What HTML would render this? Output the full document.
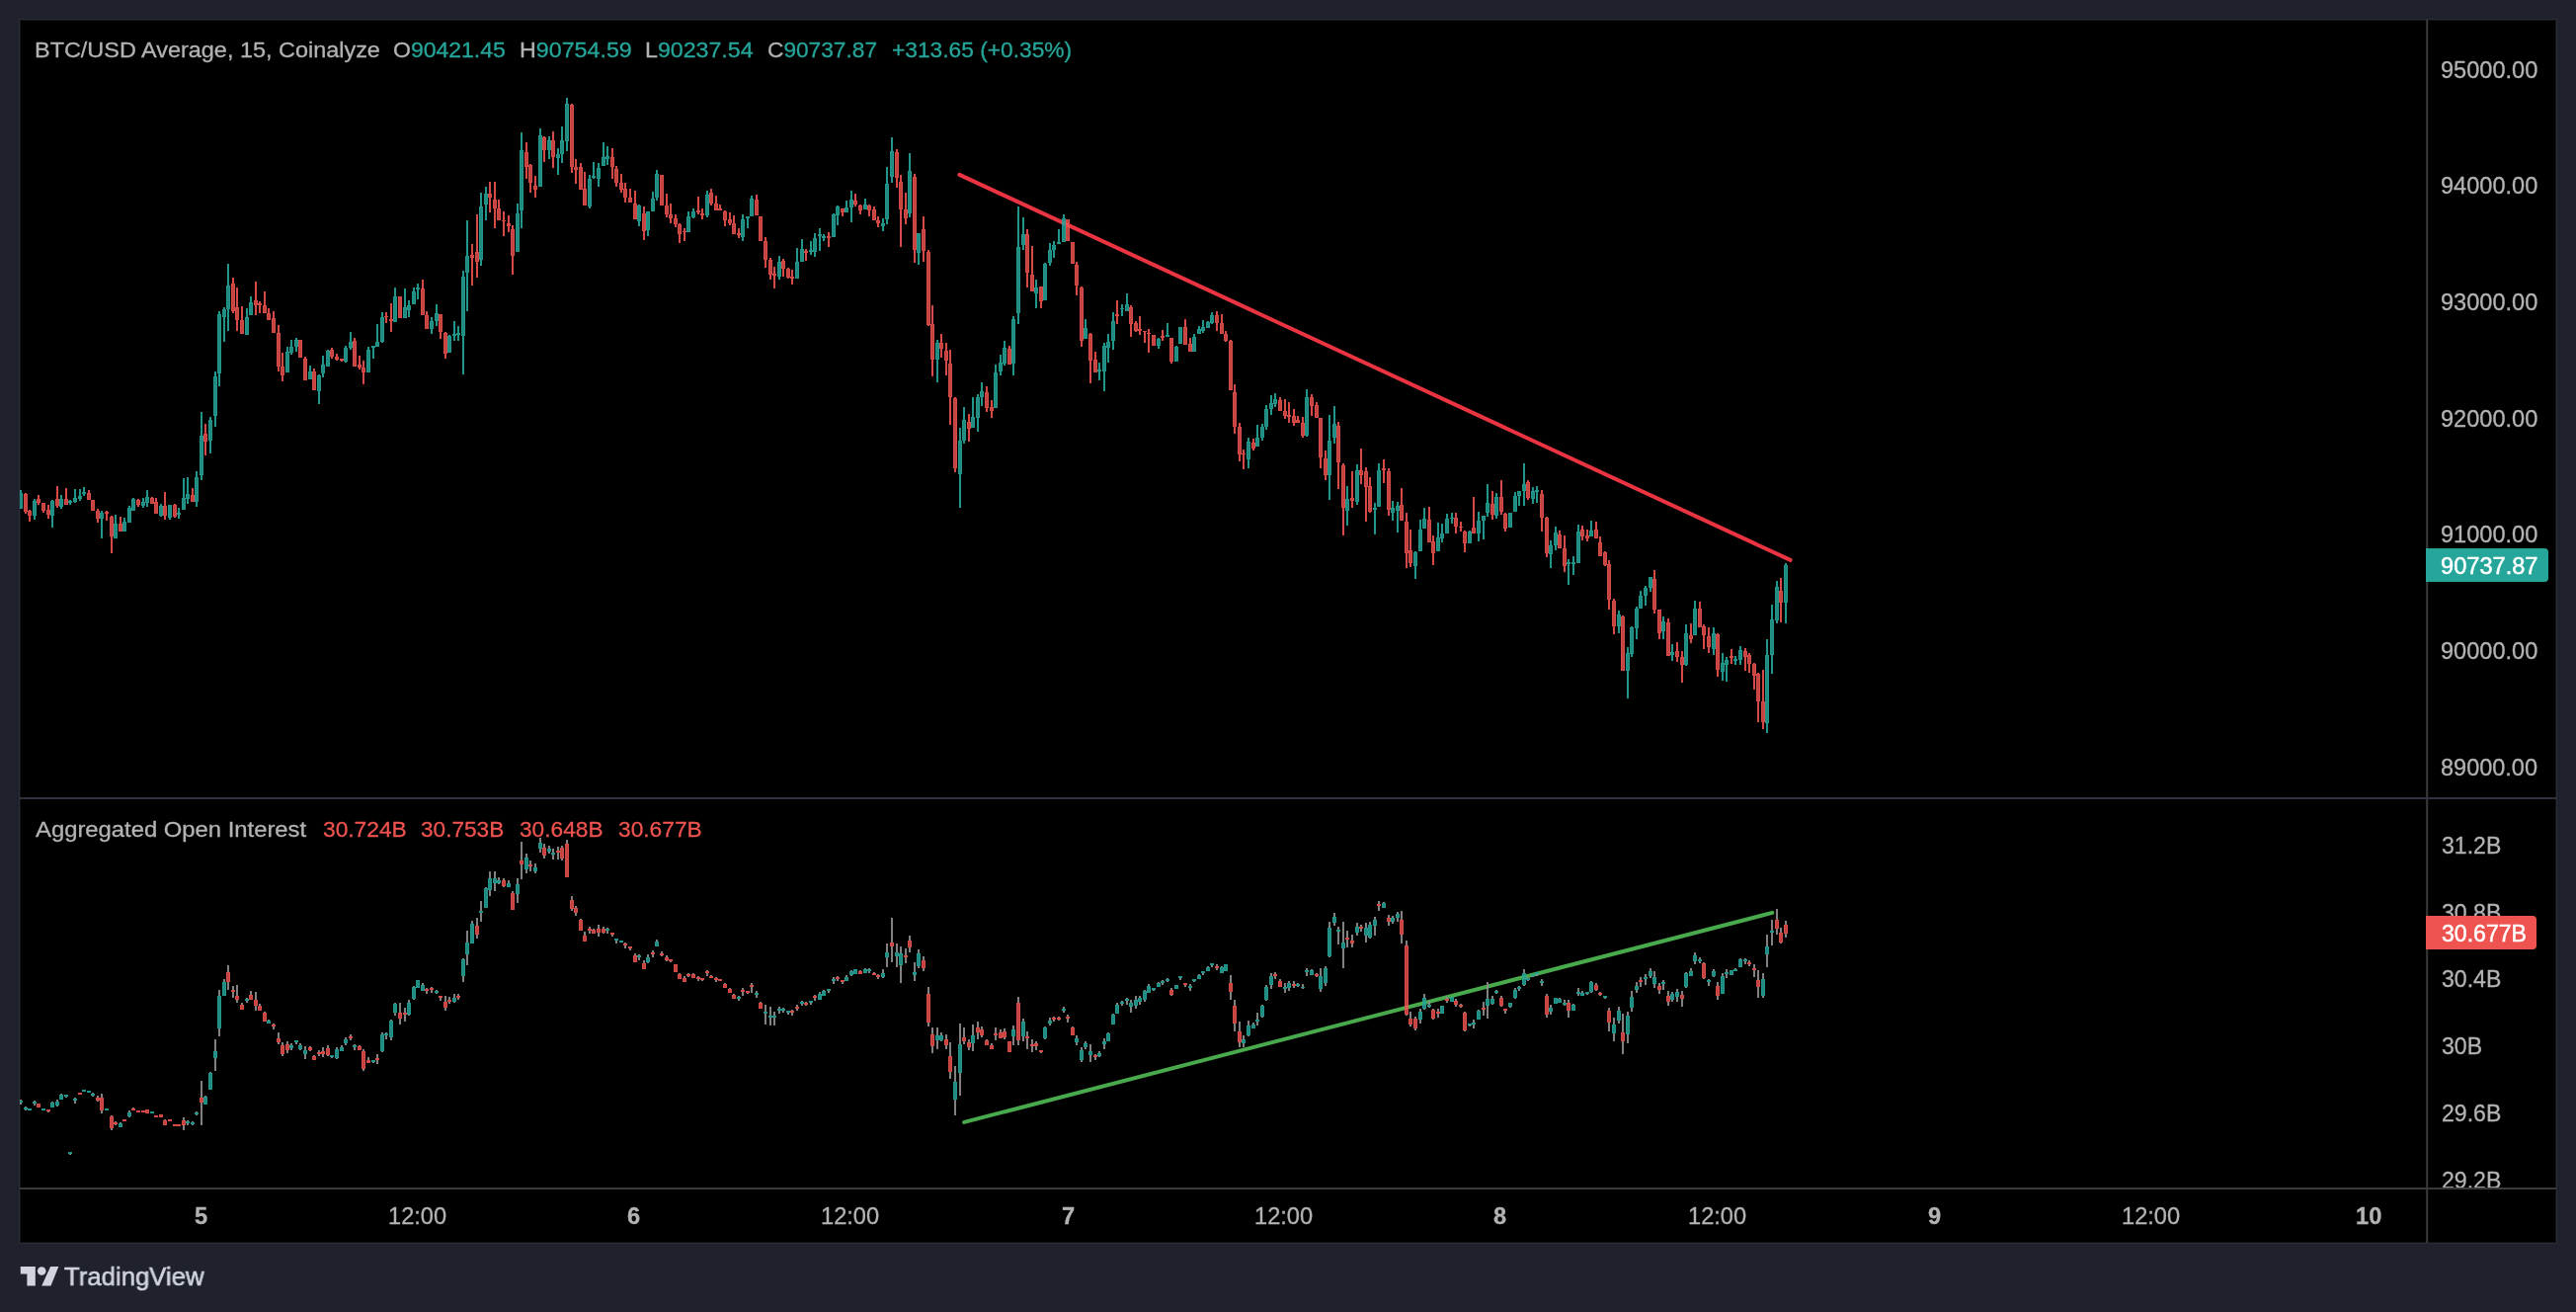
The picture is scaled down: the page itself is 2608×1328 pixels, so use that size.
<!DOCTYPE html>
<html><head><meta charset="utf-8"><style>
*{margin:0;padding:0;box-sizing:border-box}
html,body{width:2608px;height:1328px;overflow:hidden;background:#1f222d;font-family:"Liberation Sans", sans-serif;}
.t{position:absolute;white-space:nowrap;font-size:23px;line-height:23px;color:#b3b3b5}
.pa{position:absolute;left:2472px;font-size:23px;line-height:23px;color:#b3b3b5;white-space:nowrap}
.ta{position:absolute;top:1219px;font-size:23px;line-height:23px;color:#b3b3b5;white-space:nowrap;transform:translateX(-50%)}
.g{color:#26a69a} .r{color:#ef5350}
</style></head><body>
<div style="position:absolute;left:19px;top:19px;width:2570px;height:1240px;border:1px solid #2a2e39;background:#000;box-shadow:inset 0 0 0 1px #111216"></div>
<svg style="position:absolute;left:0;top:0" width="2608" height="1328" viewBox="0 0 2608 1328">
<defs>
<clipPath id="cp1"><rect x="20" y="20" width="2436" height="787"/></clipPath>
<clipPath id="cp2"><rect x="20" y="809" width="2436" height="393"/></clipPath>
</defs>
<line x1="971.4" y1="176.9" x2="1812.6" y2="566.9" stroke="#f23645" stroke-width="4" stroke-linecap="round" opacity="0.97"/>
<line x1="976.1" y1="1135.9" x2="1794.3" y2="923.9" stroke="#4caf50" stroke-width="4" stroke-linecap="round" opacity="0.97"/>
<g clip-path="url(#cp1)" shape-rendering="crispEdges">
<rect x="20" y="496.1" width="2" height="3.2" fill="rgba(38,166,154,0.90)"/>
<rect x="20" y="500.3" width="2" height="13.5" fill="rgba(38,166,154,0.84)"/>
<path d="M19 499.3h4v15.5h-4z M20 500.3v13.5h2v-13.5z" fill="rgba(38,166,154,0.90)" fill-rule="evenodd"/>
<rect x="25" y="498.9" width="2" height="1.0" fill="rgba(239,83,80,0.89)"/>
<rect x="25" y="517.6" width="2" height="2.2" fill="rgba(239,83,80,0.89)"/>
<rect x="25" y="500.9" width="2" height="15.7" fill="rgba(239,83,80,0.82)"/>
<path d="M24 499.9h4v17.7h-4z M25 500.9v15.7h2v-15.7z" fill="rgba(239,83,80,0.89)" fill-rule="evenodd"/>
<rect x="29" y="516.3" width="2" height="1.0" fill="rgba(239,83,80,0.89)"/>
<rect x="29" y="521.6" width="2" height="6.2" fill="rgba(239,83,80,0.89)"/>
<rect x="29" y="518.3" width="2" height="2.3" fill="rgba(239,83,80,0.82)"/>
<path d="M28 517.3h4v4.3h-4z M29 518.3v2.3h2v-2.3z" fill="rgba(239,83,80,0.89)" fill-rule="evenodd"/>
<rect x="34" y="505.2" width="2" height="1.8" fill="rgba(38,166,154,0.90)"/>
<rect x="34" y="521.9" width="2" height="4.1" fill="rgba(38,166,154,0.90)"/>
<rect x="34" y="508.0" width="2" height="12.9" fill="rgba(38,166,154,0.84)"/>
<path d="M33 507.0h4v14.9h-4z M34 508.0v12.9h2v-12.9z" fill="rgba(38,166,154,0.90)" fill-rule="evenodd"/>
<rect x="38" y="501.1" width="2" height="4.1" fill="rgba(239,83,80,0.89)"/>
<rect x="38" y="508.9" width="2" height="1.8" fill="rgba(239,83,80,0.89)"/>
<rect x="38" y="506.2" width="2" height="1.7" fill="rgba(239,83,80,0.82)"/>
<path d="M37 505.2h4v3.7h-4z M38 506.2v1.7h2v-1.7z" fill="rgba(239,83,80,0.89)" fill-rule="evenodd"/>
<rect x="43" y="517.3" width="2" height="1.5" fill="rgba(239,83,80,0.89)"/>
<rect x="43" y="510.2" width="2" height="6.1" fill="rgba(239,83,80,0.82)"/>
<path d="M42 509.2h4v8.1h-4z M43 510.2v6.1h2v-6.1z" fill="rgba(239,83,80,0.89)" fill-rule="evenodd"/>
<rect x="48" y="511.0" width="2" height="5.0" fill="rgba(239,83,80,0.89)"/>
<rect x="48" y="521.0" width="2" height="3.7" fill="rgba(239,83,80,0.89)"/>
<rect x="48" y="517.0" width="2" height="3.0" fill="rgba(239,83,80,0.82)"/>
<path d="M47 516.0h4v5.0h-4z M48 517.0v3.0h2v-3.0z" fill="rgba(239,83,80,0.89)" fill-rule="evenodd"/>
<rect x="52" y="506.0" width="2" height="0.7" fill="rgba(38,166,154,0.90)"/>
<rect x="52" y="521.9" width="2" height="11.8" fill="rgba(38,166,154,0.90)"/>
<rect x="52" y="507.7" width="2" height="13.2" fill="rgba(38,166,154,0.84)"/>
<path d="M51 506.7h4v15.2h-4z M52 507.7v13.2h2v-13.2z" fill="rgba(38,166,154,0.90)" fill-rule="evenodd"/>
<rect x="57" y="492.1" width="2" height="12.7" fill="rgba(239,83,80,0.89)"/>
<rect x="57" y="512.0" width="2" height="1.9" fill="rgba(239,83,80,0.89)"/>
<rect x="57" y="505.8" width="2" height="5.2" fill="rgba(239,83,80,0.82)"/>
<path d="M56 504.8h4v7.2h-4z M57 505.8v5.2h2v-5.2z" fill="rgba(239,83,80,0.89)" fill-rule="evenodd"/>
<rect x="61" y="501.1" width="2" height="3.7" fill="rgba(38,166,154,0.90)"/>
<rect x="61" y="512.9" width="2" height="1.9" fill="rgba(38,166,154,0.90)"/>
<rect x="61" y="505.8" width="2" height="6.1" fill="rgba(38,166,154,0.84)"/>
<path d="M60 504.8h4v8.1h-4z M61 505.8v6.1h2v-6.1z" fill="rgba(38,166,154,0.90)" fill-rule="evenodd"/>
<rect x="66" y="494.0" width="2" height="11.2" fill="rgba(239,83,80,0.89)"/>
<rect x="66" y="506.2" width="2" height="3.5" fill="rgba(239,83,80,0.82)"/>
<path d="M65 505.2h4v5.5h-4z M66 506.2v3.5h2v-3.5z" fill="rgba(239,83,80,0.89)" fill-rule="evenodd"/>
<rect x="70" y="506.0" width="2" height="1.2" fill="rgba(38,166,154,0.90)"/>
<rect x="70" y="508.7" width="2" height="2.0" fill="rgba(38,166,154,0.90)"/>
<rect x="69" y="507.2" width="4" height="1.5" fill="rgba(38,166,154,0.90)"/>
<rect x="75" y="494.9" width="2" height="9.3" fill="rgba(38,166,154,0.90)"/>
<rect x="75" y="508.3" width="2" height="0.6" fill="rgba(38,166,154,0.90)"/>
<rect x="75" y="505.2" width="2" height="2.1" fill="rgba(38,166,154,0.84)"/>
<path d="M74 504.2h4v4.1h-4z M75 505.2v2.1h2v-2.1z" fill="rgba(38,166,154,0.90)" fill-rule="evenodd"/>
<rect x="80" y="494.9" width="2" height="7.1" fill="rgba(38,166,154,0.90)"/>
<rect x="80" y="504.5" width="2" height="2.2" fill="rgba(38,166,154,0.90)"/>
<rect x="79" y="502.0" width="4" height="2.5" fill="rgba(38,166,154,0.90)"/>
<rect x="84" y="493.0" width="2" height="5.3" fill="rgba(38,166,154,0.90)"/>
<rect x="84" y="499.9" width="2" height="1.8" fill="rgba(38,166,154,0.90)"/>
<rect x="83" y="498.3" width="4" height="1.6" fill="rgba(38,166,154,0.90)"/>
<rect x="89" y="496.1" width="2" height="3.2" fill="rgba(239,83,80,0.89)"/>
<rect x="89" y="500.3" width="2" height="4.5" fill="rgba(239,83,80,0.82)"/>
<path d="M88 499.3h4v6.5h-4z M89 500.3v4.5h2v-4.5z" fill="rgba(239,83,80,0.89)" fill-rule="evenodd"/>
<rect x="93" y="507.0" width="2" height="9.0" fill="rgba(239,83,80,0.82)"/>
<path d="M92 506.0h4v11.0h-4z M93 507.0v9.0h2v-9.0z" fill="rgba(239,83,80,0.89)" fill-rule="evenodd"/>
<rect x="98" y="515.1" width="2" height="2.2" fill="rgba(239,83,80,0.89)"/>
<rect x="98" y="524.7" width="2" height="4.4" fill="rgba(239,83,80,0.89)"/>
<rect x="98" y="518.3" width="2" height="5.4" fill="rgba(239,83,80,0.82)"/>
<path d="M97 517.3h4v7.4h-4z M98 518.3v5.4h2v-5.4z" fill="rgba(239,83,80,0.89)" fill-rule="evenodd"/>
<rect x="102" y="517.3" width="2" height="1.8" fill="rgba(38,166,154,0.90)"/>
<rect x="102" y="524.7" width="2" height="20.2" fill="rgba(38,166,154,0.90)"/>
<rect x="102" y="520.1" width="2" height="3.6" fill="rgba(38,166,154,0.84)"/>
<path d="M101 519.1h4v5.6h-4z M102 520.1v3.6h2v-3.6z" fill="rgba(38,166,154,0.90)" fill-rule="evenodd"/>
<rect x="107" y="517.3" width="2" height="0.8" fill="rgba(239,83,80,0.89)"/>
<rect x="107" y="519.5" width="2" height="7.4" fill="rgba(239,83,80,0.89)"/>
<rect x="106" y="518.0" width="4" height="1.5" fill="rgba(239,83,80,0.89)"/>
<rect x="112" y="522.2" width="2" height="0.7" fill="rgba(239,83,80,0.89)"/>
<rect x="112" y="542.7" width="2" height="17.3" fill="rgba(239,83,80,0.89)"/>
<rect x="112" y="523.9" width="2" height="17.8" fill="rgba(239,83,80,0.82)"/>
<path d="M111 522.9h4v19.8h-4z M112 523.9v17.8h2v-17.8z" fill="rgba(239,83,80,0.89)" fill-rule="evenodd"/>
<rect x="116" y="521.0" width="2" height="9.0" fill="rgba(38,166,154,0.90)"/>
<rect x="116" y="531.0" width="2" height="12.6" fill="rgba(38,166,154,0.84)"/>
<path d="M115 530.0h4v14.6h-4z M116 531.0v12.6h2v-12.6z" fill="rgba(38,166,154,0.90)" fill-rule="evenodd"/>
<rect x="121" y="523.2" width="2" height="6.8" fill="rgba(239,83,80,0.89)"/>
<rect x="121" y="531.0" width="2" height="5.8" fill="rgba(239,83,80,0.82)"/>
<path d="M120 530.0h4v7.8h-4z M121 531.0v5.8h2v-5.8z" fill="rgba(239,83,80,0.89)" fill-rule="evenodd"/>
<rect x="125" y="524.1" width="2" height="4.0" fill="rgba(38,166,154,0.90)"/>
<rect x="125" y="529.1" width="2" height="7.7" fill="rgba(38,166,154,0.84)"/>
<path d="M124 528.1h4v9.7h-4z M125 529.1v7.7h2v-7.7z" fill="rgba(38,166,154,0.90)" fill-rule="evenodd"/>
<rect x="130" y="512.3" width="2" height="1.6" fill="rgba(38,166,154,0.90)"/>
<rect x="130" y="514.9" width="2" height="12.9" fill="rgba(38,166,154,0.84)"/>
<path d="M129 513.9h4v14.9h-4z M130 514.9v12.9h2v-12.9z" fill="rgba(38,166,154,0.90)" fill-rule="evenodd"/>
<rect x="134" y="504.2" width="2" height="0.6" fill="rgba(38,166,154,0.90)"/>
<rect x="134" y="505.8" width="2" height="9.8" fill="rgba(38,166,154,0.84)"/>
<path d="M133 504.8h4v11.8h-4z M134 505.8v9.8h2v-9.8z" fill="rgba(38,166,154,0.90)" fill-rule="evenodd"/>
<rect x="139" y="505.2" width="2" height="0.3" fill="rgba(239,83,80,0.89)"/>
<rect x="139" y="511.0" width="2" height="1.6" fill="rgba(239,83,80,0.89)"/>
<rect x="139" y="506.5" width="2" height="3.5" fill="rgba(239,83,80,0.82)"/>
<path d="M138 505.5h4v5.5h-4z M139 506.5v3.5h2v-3.5z" fill="rgba(239,83,80,0.89)" fill-rule="evenodd"/>
<rect x="144" y="504.2" width="2" height="4.1" fill="rgba(38,166,154,0.90)"/>
<rect x="144" y="511.7" width="2" height="2.2" fill="rgba(38,166,154,0.90)"/>
<rect x="144" y="509.3" width="2" height="1.4" fill="rgba(38,166,154,0.84)"/>
<path d="M143 508.3h4v3.4h-4z M144 509.3v1.4h2v-1.4z" fill="rgba(38,166,154,0.90)" fill-rule="evenodd"/>
<rect x="148" y="496.1" width="2" height="7.2" fill="rgba(38,166,154,0.90)"/>
<rect x="148" y="508.6" width="2" height="4.0" fill="rgba(38,166,154,0.90)"/>
<rect x="148" y="504.3" width="2" height="3.3" fill="rgba(38,166,154,0.84)"/>
<path d="M147 503.3h4v5.3h-4z M148 504.3v3.3h2v-3.3z" fill="rgba(38,166,154,0.90)" fill-rule="evenodd"/>
<rect x="153" y="503.3" width="2" height="0.6" fill="rgba(239,83,80,0.89)"/>
<rect x="153" y="509.5" width="2" height="0.3" fill="rgba(239,83,80,0.89)"/>
<rect x="153" y="504.9" width="2" height="3.6" fill="rgba(239,83,80,0.82)"/>
<path d="M152 503.9h4v5.6h-4z M153 504.9v3.6h2v-3.6z" fill="rgba(239,83,80,0.89)" fill-rule="evenodd"/>
<rect x="157" y="504.2" width="2" height="4.1" fill="rgba(239,83,80,0.89)"/>
<rect x="157" y="509.3" width="2" height="9.5" fill="rgba(239,83,80,0.82)"/>
<path d="M156 508.3h4v11.5h-4z M157 509.3v9.5h2v-9.5z" fill="rgba(239,83,80,0.89)" fill-rule="evenodd"/>
<rect x="162" y="510.4" width="2" height="1.9" fill="rgba(38,166,154,0.90)"/>
<rect x="162" y="522.2" width="2" height="0.7" fill="rgba(38,166,154,0.90)"/>
<rect x="162" y="513.3" width="2" height="7.9" fill="rgba(38,166,154,0.84)"/>
<path d="M161 512.3h4v9.9h-4z M162 513.3v7.9h2v-7.9z" fill="rgba(38,166,154,0.90)" fill-rule="evenodd"/>
<rect x="166" y="498.0" width="2" height="14.3" fill="rgba(239,83,80,0.89)"/>
<rect x="166" y="521.9" width="2" height="4.1" fill="rgba(239,83,80,0.89)"/>
<rect x="166" y="513.3" width="2" height="7.6" fill="rgba(239,83,80,0.82)"/>
<path d="M165 512.3h4v9.6h-4z M166 513.3v7.6h2v-7.6z" fill="rgba(239,83,80,0.89)" fill-rule="evenodd"/>
<rect x="171" y="511.0" width="2" height="0.4" fill="rgba(38,166,154,0.90)"/>
<rect x="171" y="524.1" width="2" height="1.9" fill="rgba(38,166,154,0.90)"/>
<rect x="171" y="512.4" width="2" height="10.7" fill="rgba(38,166,154,0.84)"/>
<path d="M170 511.4h4v12.7h-4z M171 512.4v10.7h2v-10.7z" fill="rgba(38,166,154,0.90)" fill-rule="evenodd"/>
<rect x="176" y="510.2" width="2" height="0.8" fill="rgba(239,83,80,0.89)"/>
<rect x="176" y="522.5" width="2" height="1.2" fill="rgba(239,83,80,0.89)"/>
<rect x="176" y="512.0" width="2" height="9.5" fill="rgba(239,83,80,0.82)"/>
<path d="M175 511.0h4v11.5h-4z M176 512.0v9.5h2v-9.5z" fill="rgba(239,83,80,0.89)" fill-rule="evenodd"/>
<rect x="180" y="513.9" width="2" height="4.9" fill="rgba(38,166,154,0.90)"/>
<rect x="180" y="520.6" width="2" height="4.3" fill="rgba(38,166,154,0.90)"/>
<rect x="179" y="518.8" width="4" height="1.8" fill="rgba(38,166,154,0.90)"/>
<rect x="185" y="484.0" width="2" height="20.1" fill="rgba(38,166,154,0.90)"/>
<rect x="185" y="505.1" width="2" height="9.6" fill="rgba(38,166,154,0.84)"/>
<path d="M184 504.1h4v11.6h-4z M185 505.1v9.6h2v-9.6z" fill="rgba(38,166,154,0.90)" fill-rule="evenodd"/>
<rect x="189" y="483.2" width="2" height="17.0" fill="rgba(38,166,154,0.90)"/>
<rect x="189" y="504.8" width="2" height="4.8" fill="rgba(38,166,154,0.90)"/>
<rect x="189" y="501.2" width="2" height="2.6" fill="rgba(38,166,154,0.84)"/>
<path d="M188 500.2h4v4.6h-4z M189 501.2v2.6h2v-2.6z" fill="rgba(38,166,154,0.90)" fill-rule="evenodd"/>
<rect x="194" y="494.1" width="2" height="7.0" fill="rgba(239,83,80,0.89)"/>
<rect x="194" y="502.1" width="2" height="5.3" fill="rgba(239,83,80,0.82)"/>
<path d="M193 501.1h4v7.3h-4z M194 502.1v5.3h2v-5.3z" fill="rgba(239,83,80,0.89)" fill-rule="evenodd"/>
<rect x="198" y="477.1" width="2" height="5.7" fill="rgba(38,166,154,0.90)"/>
<rect x="198" y="507.8" width="2" height="4.9" fill="rgba(38,166,154,0.90)"/>
<rect x="198" y="483.8" width="2" height="23.0" fill="rgba(38,166,154,0.84)"/>
<path d="M197 482.8h4v25.0h-4z M198 483.8v23.0h2v-23.0z" fill="rgba(38,166,154,0.90)" fill-rule="evenodd"/>
<rect x="203" y="417.0" width="2" height="23.7" fill="rgba(38,166,154,0.90)"/>
<rect x="203" y="481.0" width="2" height="4.9" fill="rgba(38,166,154,0.90)"/>
<rect x="203" y="441.7" width="2" height="38.3" fill="rgba(38,166,154,0.84)"/>
<path d="M202 440.7h4v40.3h-4z M203 441.7v38.3h2v-38.3z" fill="rgba(38,166,154,0.90)" fill-rule="evenodd"/>
<rect x="207" y="429.1" width="2" height="9.8" fill="rgba(239,83,80,0.89)"/>
<rect x="207" y="447.4" width="2" height="13.5" fill="rgba(239,83,80,0.89)"/>
<rect x="207" y="439.9" width="2" height="6.5" fill="rgba(239,83,80,0.82)"/>
<path d="M206 438.9h4v8.5h-4z M207 439.9v6.5h2v-6.5z" fill="rgba(239,83,80,0.89)" fill-rule="evenodd"/>
<rect x="212" y="422.2" width="2" height="2.7" fill="rgba(38,166,154,0.90)"/>
<rect x="212" y="445.6" width="2" height="13.4" fill="rgba(38,166,154,0.90)"/>
<rect x="212" y="425.9" width="2" height="18.7" fill="rgba(38,166,154,0.84)"/>
<path d="M211 424.9h4v20.7h-4z M212 425.9v18.7h2v-18.7z" fill="rgba(38,166,154,0.90)" fill-rule="evenodd"/>
<rect x="217" y="376.1" width="2" height="4.9" fill="rgba(38,166,154,0.90)"/>
<rect x="217" y="420.6" width="2" height="11.0" fill="rgba(38,166,154,0.90)"/>
<rect x="217" y="382.0" width="2" height="37.6" fill="rgba(38,166,154,0.84)"/>
<path d="M216 381.0h4v39.6h-4z M217 382.0v37.6h2v-37.6z" fill="rgba(38,166,154,0.90)" fill-rule="evenodd"/>
<rect x="221" y="315.2" width="2" height="3.1" fill="rgba(38,166,154,0.90)"/>
<rect x="221" y="377.8" width="2" height="13.1" fill="rgba(38,166,154,0.90)"/>
<rect x="221" y="319.3" width="2" height="57.5" fill="rgba(38,166,154,0.84)"/>
<path d="M220 318.3h4v59.5h-4z M221 319.3v57.5h2v-57.5z" fill="rgba(38,166,154,0.90)" fill-rule="evenodd"/>
<rect x="226" y="311.0" width="2" height="2.4" fill="rgba(38,166,154,0.90)"/>
<rect x="226" y="320.5" width="2" height="25.2" fill="rgba(38,166,154,0.90)"/>
<rect x="226" y="314.4" width="2" height="5.1" fill="rgba(38,166,154,0.84)"/>
<path d="M225 313.4h4v7.1h-4z M226 314.4v5.1h2v-5.1z" fill="rgba(38,166,154,0.90)" fill-rule="evenodd"/>
<rect x="230" y="267.1" width="2" height="21.9" fill="rgba(38,166,154,0.90)"/>
<rect x="230" y="312.8" width="2" height="22.0" fill="rgba(38,166,154,0.90)"/>
<rect x="230" y="290.0" width="2" height="21.8" fill="rgba(38,166,154,0.84)"/>
<path d="M229 289.0h4v23.8h-4z M230 290.0v21.8h2v-21.8z" fill="rgba(38,166,154,0.90)" fill-rule="evenodd"/>
<rect x="235" y="281.1" width="2" height="6.1" fill="rgba(239,83,80,0.89)"/>
<rect x="235" y="314.6" width="2" height="1.9" fill="rgba(239,83,80,0.89)"/>
<rect x="235" y="288.2" width="2" height="25.4" fill="rgba(239,83,80,0.82)"/>
<path d="M234 287.2h4v27.4h-4z M235 288.2v25.4h2v-25.4z" fill="rgba(239,83,80,0.89)" fill-rule="evenodd"/>
<rect x="239" y="291.2" width="2" height="19.8" fill="rgba(239,83,80,0.89)"/>
<rect x="239" y="324.4" width="2" height="10.4" fill="rgba(239,83,80,0.89)"/>
<rect x="239" y="312.0" width="2" height="11.4" fill="rgba(239,83,80,0.82)"/>
<path d="M238 311.0h4v13.4h-4z M239 312.0v11.4h2v-11.4z" fill="rgba(239,83,80,0.89)" fill-rule="evenodd"/>
<rect x="244" y="310.0" width="2" height="13.8" fill="rgba(239,83,80,0.89)"/>
<rect x="244" y="324.8" width="2" height="11.8" fill="rgba(239,83,80,0.82)"/>
<path d="M243 323.8h4v13.8h-4z M244 324.8v11.8h2v-11.8z" fill="rgba(239,83,80,0.89)" fill-rule="evenodd"/>
<rect x="249" y="312.2" width="2" height="9.1" fill="rgba(38,166,154,0.90)"/>
<rect x="249" y="322.3" width="2" height="15.5" fill="rgba(38,166,154,0.84)"/>
<path d="M248 321.3h4v17.5h-4z M249 322.3v15.5h2v-15.5z" fill="rgba(38,166,154,0.90)" fill-rule="evenodd"/>
<rect x="253" y="300.0" width="2" height="6.1" fill="rgba(38,166,154,0.90)"/>
<rect x="253" y="307.1" width="2" height="10.4" fill="rgba(38,166,154,0.84)"/>
<path d="M252 306.1h4v12.4h-4z M253 307.1v10.4h2v-10.4z" fill="rgba(38,166,154,0.90)" fill-rule="evenodd"/>
<rect x="258" y="285.1" width="2" height="18.6" fill="rgba(239,83,80,0.89)"/>
<rect x="258" y="308.5" width="2" height="10.4" fill="rgba(239,83,80,0.89)"/>
<rect x="258" y="304.7" width="2" height="2.8" fill="rgba(239,83,80,0.82)"/>
<path d="M257 303.7h4v4.8h-4z M258 304.7v2.8h2v-2.8z" fill="rgba(239,83,80,0.89)" fill-rule="evenodd"/>
<rect x="262" y="305.1" width="2" height="1.6" fill="rgba(239,83,80,0.89)"/>
<rect x="262" y="308.5" width="2" height="8.3" fill="rgba(239,83,80,0.89)"/>
<rect x="261" y="306.7" width="4" height="1.8" fill="rgba(239,83,80,0.89)"/>
<rect x="267" y="295.1" width="2" height="14.0" fill="rgba(239,83,80,0.89)"/>
<rect x="267" y="310.1" width="2" height="5.4" fill="rgba(239,83,80,0.82)"/>
<path d="M266 309.1h4v7.4h-4z M267 310.1v5.4h2v-5.4z" fill="rgba(239,83,80,0.89)" fill-rule="evenodd"/>
<rect x="271" y="312.2" width="2" height="4.9" fill="rgba(239,83,80,0.89)"/>
<rect x="271" y="318.1" width="2" height="4.7" fill="rgba(239,83,80,0.82)"/>
<path d="M270 317.1h4v6.7h-4z M271 318.1v4.7h2v-4.7z" fill="rgba(239,83,80,0.89)" fill-rule="evenodd"/>
<rect x="276" y="315.2" width="2" height="6.8" fill="rgba(239,83,80,0.89)"/>
<rect x="276" y="323.0" width="2" height="12.8" fill="rgba(239,83,80,0.82)"/>
<path d="M275 322.0h4v14.8h-4z M276 323.0v12.8h2v-12.8z" fill="rgba(239,83,80,0.89)" fill-rule="evenodd"/>
<rect x="281" y="329.0" width="2" height="8.2" fill="rgba(239,83,80,0.89)"/>
<rect x="281" y="370.7" width="2" height="4.9" fill="rgba(239,83,80,0.89)"/>
<rect x="281" y="338.2" width="2" height="31.5" fill="rgba(239,83,80,0.82)"/>
<path d="M280 337.2h4v33.5h-4z M281 338.2v31.5h2v-31.5z" fill="rgba(239,83,80,0.89)" fill-rule="evenodd"/>
<rect x="285" y="357.1" width="2" height="13.6" fill="rgba(239,83,80,0.89)"/>
<rect x="285" y="379.9" width="2" height="5.7" fill="rgba(239,83,80,0.89)"/>
<rect x="285" y="371.7" width="2" height="7.2" fill="rgba(239,83,80,0.82)"/>
<path d="M284 370.7h4v9.2h-4z M285 371.7v7.2h2v-7.2z" fill="rgba(239,83,80,0.89)" fill-rule="evenodd"/>
<rect x="290" y="351.0" width="2" height="5.1" fill="rgba(38,166,154,0.90)"/>
<rect x="290" y="357.1" width="2" height="18.7" fill="rgba(38,166,154,0.84)"/>
<path d="M289 356.1h4v20.7h-4z M290 357.1v18.7h2v-18.7z" fill="rgba(38,166,154,0.90)" fill-rule="evenodd"/>
<rect x="294" y="343.9" width="2" height="6.7" fill="rgba(38,166,154,0.90)"/>
<rect x="294" y="357.3" width="2" height="1.2" fill="rgba(38,166,154,0.90)"/>
<rect x="294" y="351.6" width="2" height="4.7" fill="rgba(38,166,154,0.84)"/>
<path d="M293 350.6h4v6.7h-4z M294 351.6v4.7h2v-4.7z" fill="rgba(38,166,154,0.90)" fill-rule="evenodd"/>
<rect x="299" y="342.1" width="2" height="1.8" fill="rgba(38,166,154,0.90)"/>
<rect x="299" y="351.2" width="2" height="4.3" fill="rgba(38,166,154,0.90)"/>
<rect x="299" y="344.9" width="2" height="5.3" fill="rgba(38,166,154,0.84)"/>
<path d="M298 343.9h4v7.3h-4z M299 344.9v5.3h2v-5.3z" fill="rgba(38,166,154,0.90)" fill-rule="evenodd"/>
<rect x="303" y="344.9" width="2" height="16.3" fill="rgba(239,83,80,0.82)"/>
<path d="M302 343.9h4v18.3h-4z M303 344.9v16.3h2v-16.3z" fill="rgba(239,83,80,0.89)" fill-rule="evenodd"/>
<rect x="308" y="361.2" width="2" height="1.6" fill="rgba(239,83,80,0.89)"/>
<rect x="308" y="363.8" width="2" height="20.6" fill="rgba(239,83,80,0.82)"/>
<path d="M307 362.8h4v22.6h-4z M308 363.8v20.6h2v-20.6z" fill="rgba(239,83,80,0.89)" fill-rule="evenodd"/>
<rect x="313" y="370.1" width="2" height="6.1" fill="rgba(38,166,154,0.90)"/>
<rect x="313" y="377.2" width="2" height="5.3" fill="rgba(38,166,154,0.84)"/>
<path d="M312 376.2h4v7.3h-4z M313 377.2v5.3h2v-5.3z" fill="rgba(38,166,154,0.90)" fill-rule="evenodd"/>
<rect x="317" y="373.2" width="2" height="3.0" fill="rgba(239,83,80,0.89)"/>
<rect x="317" y="377.2" width="2" height="16.9" fill="rgba(239,83,80,0.82)"/>
<path d="M316 376.2h4v18.9h-4z M317 377.2v16.9h2v-16.9z" fill="rgba(239,83,80,0.89)" fill-rule="evenodd"/>
<rect x="322" y="379.3" width="2" height="0.6" fill="rgba(38,166,154,0.90)"/>
<rect x="322" y="396.3" width="2" height="12.2" fill="rgba(38,166,154,0.90)"/>
<rect x="322" y="380.9" width="2" height="14.4" fill="rgba(38,166,154,0.84)"/>
<path d="M321 379.9h4v16.4h-4z M322 380.9v14.4h2v-14.4z" fill="rgba(38,166,154,0.90)" fill-rule="evenodd"/>
<rect x="326" y="360.4" width="2" height="8.5" fill="rgba(38,166,154,0.90)"/>
<rect x="326" y="377.8" width="2" height="3.9" fill="rgba(38,166,154,0.90)"/>
<rect x="326" y="369.9" width="2" height="6.9" fill="rgba(38,166,154,0.84)"/>
<path d="M325 368.9h4v8.9h-4z M326 369.9v6.9h2v-6.9z" fill="rgba(38,166,154,0.90)" fill-rule="evenodd"/>
<rect x="331" y="354.1" width="2" height="0.7" fill="rgba(38,166,154,0.90)"/>
<rect x="331" y="355.8" width="2" height="13.8" fill="rgba(38,166,154,0.84)"/>
<path d="M330 354.8h4v15.8h-4z M331 355.8v13.8h2v-13.8z" fill="rgba(38,166,154,0.90)" fill-rule="evenodd"/>
<rect x="335" y="352.0" width="2" height="2.1" fill="rgba(239,83,80,0.89)"/>
<rect x="335" y="360.9" width="2" height="2.0" fill="rgba(239,83,80,0.89)"/>
<rect x="335" y="355.1" width="2" height="4.8" fill="rgba(239,83,80,0.82)"/>
<path d="M334 354.1h4v6.8h-4z M335 355.1v4.8h2v-4.8z" fill="rgba(239,83,80,0.89)" fill-rule="evenodd"/>
<rect x="340" y="358.0" width="2" height="3.2" fill="rgba(239,83,80,0.89)"/>
<rect x="340" y="363.9" width="2" height="0.6" fill="rgba(239,83,80,0.89)"/>
<rect x="339" y="361.2" width="4" height="2.7" fill="rgba(239,83,80,0.89)"/>
<rect x="345" y="362.7" width="2" height="0.4" fill="rgba(239,83,80,0.89)"/>
<rect x="345" y="364.6" width="2" height="1.1" fill="rgba(239,83,80,0.89)"/>
<rect x="344" y="363.1" width="4" height="1.5" fill="rgba(239,83,80,0.89)"/>
<rect x="349" y="350.2" width="2" height="1.5" fill="rgba(38,166,154,0.90)"/>
<rect x="349" y="366.3" width="2" height="0.7" fill="rgba(38,166,154,0.90)"/>
<rect x="349" y="352.7" width="2" height="12.6" fill="rgba(38,166,154,0.84)"/>
<path d="M348 351.7h4v14.6h-4z M349 352.7v12.6h2v-12.6z" fill="rgba(38,166,154,0.90)" fill-rule="evenodd"/>
<rect x="354" y="335.9" width="2" height="10.3" fill="rgba(38,166,154,0.90)"/>
<rect x="354" y="352.0" width="2" height="1.9" fill="rgba(38,166,154,0.90)"/>
<rect x="354" y="347.2" width="2" height="3.8" fill="rgba(38,166,154,0.84)"/>
<path d="M353 346.2h4v5.8h-4z M354 347.2v3.8h2v-3.8z" fill="rgba(38,166,154,0.90)" fill-rule="evenodd"/>
<rect x="358" y="342.0" width="2" height="3.0" fill="rgba(239,83,80,0.89)"/>
<rect x="358" y="346.0" width="2" height="23.6" fill="rgba(239,83,80,0.82)"/>
<path d="M357 345.0h4v25.6h-4z M358 346.0v23.6h2v-23.6z" fill="rgba(239,83,80,0.89)" fill-rule="evenodd"/>
<rect x="363" y="360.0" width="2" height="9.4" fill="rgba(239,83,80,0.89)"/>
<rect x="363" y="371.8" width="2" height="1.9" fill="rgba(239,83,80,0.89)"/>
<rect x="362" y="369.4" width="4" height="2.4" fill="rgba(239,83,80,0.89)"/>
<rect x="367" y="365.1" width="2" height="7.3" fill="rgba(239,83,80,0.89)"/>
<rect x="367" y="376.7" width="2" height="12.2" fill="rgba(239,83,80,0.89)"/>
<rect x="367" y="373.4" width="2" height="2.3" fill="rgba(239,83,80,0.82)"/>
<path d="M366 372.4h4v4.3h-4z M367 373.4v2.3h2v-2.3z" fill="rgba(239,83,80,0.89)" fill-rule="evenodd"/>
<rect x="372" y="350.7" width="2" height="2.8" fill="rgba(38,166,154,0.90)"/>
<rect x="372" y="354.5" width="2" height="21.2" fill="rgba(38,166,154,0.84)"/>
<path d="M371 353.5h4v23.2h-4z M372 354.5v21.2h2v-21.2z" fill="rgba(38,166,154,0.90)" fill-rule="evenodd"/>
<rect x="377" y="349.9" width="2" height="0.4" fill="rgba(38,166,154,0.90)"/>
<rect x="377" y="351.8" width="2" height="10.9" fill="rgba(38,166,154,0.90)"/>
<rect x="376" y="350.2" width="4" height="1.5" fill="rgba(38,166,154,0.90)"/>
<rect x="381" y="327.9" width="2" height="18.3" fill="rgba(38,166,154,0.90)"/>
<rect x="381" y="347.2" width="2" height="2.3" fill="rgba(38,166,154,0.84)"/>
<path d="M380 346.2h4v4.3h-4z M381 347.2v2.3h2v-2.3z" fill="rgba(38,166,154,0.90)" fill-rule="evenodd"/>
<rect x="386" y="316.1" width="2" height="5.1" fill="rgba(38,166,154,0.90)"/>
<rect x="386" y="346.2" width="2" height="0.6" fill="rgba(38,166,154,0.90)"/>
<rect x="386" y="322.2" width="2" height="23.0" fill="rgba(38,166,154,0.84)"/>
<path d="M385 321.2h4v25.0h-4z M386 322.2v23.0h2v-23.0z" fill="rgba(38,166,154,0.90)" fill-rule="evenodd"/>
<rect x="390" y="316.1" width="2" height="3.8" fill="rgba(239,83,80,0.89)"/>
<rect x="390" y="321.4" width="2" height="5.3" fill="rgba(239,83,80,0.89)"/>
<rect x="389" y="319.9" width="4" height="1.5" fill="rgba(239,83,80,0.89)"/>
<rect x="395" y="306.8" width="2" height="16.2" fill="rgba(239,83,80,0.89)"/>
<rect x="395" y="325.1" width="2" height="10.8" fill="rgba(239,83,80,0.89)"/>
<rect x="394" y="323.0" width="4" height="2.1" fill="rgba(239,83,80,0.89)"/>
<rect x="399" y="291.0" width="2" height="9.2" fill="rgba(38,166,154,0.90)"/>
<rect x="399" y="301.2" width="2" height="23.3" fill="rgba(38,166,154,0.84)"/>
<path d="M398 300.2h4v25.3h-4z M399 301.2v23.3h2v-23.3z" fill="rgba(38,166,154,0.90)" fill-rule="evenodd"/>
<rect x="404" y="299.9" width="2" height="0.3" fill="rgba(239,83,80,0.89)"/>
<rect x="404" y="301.2" width="2" height="19.6" fill="rgba(239,83,80,0.82)"/>
<path d="M403 300.2h4v21.6h-4z M404 301.2v19.6h2v-19.6z" fill="rgba(239,83,80,0.89)" fill-rule="evenodd"/>
<rect x="409" y="292.0" width="2" height="19.2" fill="rgba(38,166,154,0.90)"/>
<rect x="409" y="312.2" width="2" height="8.6" fill="rgba(38,166,154,0.84)"/>
<path d="M408 311.2h4v10.6h-4z M409 312.2v8.6h2v-8.6z" fill="rgba(38,166,154,0.90)" fill-rule="evenodd"/>
<rect x="413" y="304.1" width="2" height="4.9" fill="rgba(38,166,154,0.90)"/>
<rect x="413" y="313.9" width="2" height="6.7" fill="rgba(38,166,154,0.90)"/>
<rect x="413" y="310.0" width="2" height="2.9" fill="rgba(38,166,154,0.84)"/>
<path d="M412 309.0h4v4.9h-4z M413 310.0v2.9h2v-2.9z" fill="rgba(38,166,154,0.90)" fill-rule="evenodd"/>
<rect x="418" y="291.0" width="2" height="4.0" fill="rgba(38,166,154,0.90)"/>
<rect x="418" y="296.0" width="2" height="11.4" fill="rgba(38,166,154,0.84)"/>
<path d="M417 295.0h4v13.4h-4z M418 296.0v11.4h2v-11.4z" fill="rgba(38,166,154,0.90)" fill-rule="evenodd"/>
<rect x="422" y="287.1" width="2" height="4.1" fill="rgba(38,166,154,0.90)"/>
<rect x="422" y="292.7" width="2" height="10.0" fill="rgba(38,166,154,0.90)"/>
<rect x="421" y="291.2" width="4" height="1.5" fill="rgba(38,166,154,0.90)"/>
<rect x="427" y="282.8" width="2" height="9.2" fill="rgba(239,83,80,0.89)"/>
<rect x="427" y="293.0" width="2" height="24.8" fill="rgba(239,83,80,0.82)"/>
<path d="M426 292.0h4v26.8h-4z M427 293.0v24.8h2v-24.8z" fill="rgba(239,83,80,0.89)" fill-rule="evenodd"/>
<rect x="431" y="315.1" width="2" height="3.7" fill="rgba(239,83,80,0.89)"/>
<rect x="431" y="319.8" width="2" height="12.5" fill="rgba(239,83,80,0.82)"/>
<path d="M430 318.8h4v14.5h-4z M431 319.8v12.5h2v-12.5z" fill="rgba(239,83,80,0.89)" fill-rule="evenodd"/>
<rect x="436" y="321.2" width="2" height="3.7" fill="rgba(38,166,154,0.90)"/>
<rect x="436" y="332.8" width="2" height="4.8" fill="rgba(38,166,154,0.90)"/>
<rect x="436" y="325.9" width="2" height="5.9" fill="rgba(38,166,154,0.84)"/>
<path d="M435 324.9h4v7.9h-4z M436 325.9v5.9h2v-5.9z" fill="rgba(38,166,154,0.90)" fill-rule="evenodd"/>
<rect x="441" y="308.0" width="2" height="9.1" fill="rgba(38,166,154,0.90)"/>
<rect x="441" y="324.9" width="2" height="4.7" fill="rgba(38,166,154,0.90)"/>
<rect x="441" y="318.1" width="2" height="5.8" fill="rgba(38,166,154,0.84)"/>
<path d="M440 317.1h4v7.8h-4z M441 318.1v5.8h2v-5.8z" fill="rgba(38,166,154,0.90)" fill-rule="evenodd"/>
<rect x="445" y="317.7" width="2" height="0.7" fill="rgba(239,83,80,0.89)"/>
<rect x="445" y="335.8" width="2" height="7.1" fill="rgba(239,83,80,0.89)"/>
<rect x="445" y="319.4" width="2" height="15.4" fill="rgba(239,83,80,0.82)"/>
<path d="M444 318.4h4v17.4h-4z M445 319.4v15.4h2v-15.4z" fill="rgba(239,83,80,0.89)" fill-rule="evenodd"/>
<rect x="450" y="336.2" width="2" height="0.5" fill="rgba(239,83,80,0.89)"/>
<rect x="450" y="357.7" width="2" height="5.1" fill="rgba(239,83,80,0.89)"/>
<rect x="450" y="337.7" width="2" height="19.0" fill="rgba(239,83,80,0.82)"/>
<path d="M449 336.7h4v21.0h-4z M450 337.7v19.0h2v-19.0z" fill="rgba(239,83,80,0.89)" fill-rule="evenodd"/>
<rect x="454" y="339.2" width="2" height="0.5" fill="rgba(38,166,154,0.90)"/>
<rect x="454" y="340.7" width="2" height="15.6" fill="rgba(38,166,154,0.84)"/>
<path d="M453 339.7h4v17.6h-4z M454 340.7v15.6h2v-15.6z" fill="rgba(38,166,154,0.90)" fill-rule="evenodd"/>
<rect x="459" y="325.0" width="2" height="13.0" fill="rgba(38,166,154,0.90)"/>
<rect x="459" y="339.5" width="2" height="5.2" fill="rgba(38,166,154,0.90)"/>
<rect x="458" y="338.0" width="4" height="1.5" fill="rgba(38,166,154,0.90)"/>
<rect x="463" y="330.0" width="2" height="7.0" fill="rgba(38,166,154,0.90)"/>
<rect x="463" y="338.5" width="2" height="6.2" fill="rgba(38,166,154,0.90)"/>
<rect x="462" y="337.0" width="4" height="1.5" fill="rgba(38,166,154,0.90)"/>
<rect x="468" y="274.3" width="2" height="5.8" fill="rgba(38,166,154,0.90)"/>
<rect x="468" y="339.7" width="2" height="39.1" fill="rgba(38,166,154,0.90)"/>
<rect x="468" y="281.1" width="2" height="57.6" fill="rgba(38,166,154,0.84)"/>
<path d="M467 280.1h4v59.6h-4z M468 281.1v57.6h2v-57.6z" fill="rgba(38,166,154,0.90)" fill-rule="evenodd"/>
<rect x="472" y="222.5" width="2" height="36.7" fill="rgba(38,166,154,0.90)"/>
<rect x="472" y="275.6" width="2" height="38.9" fill="rgba(38,166,154,0.90)"/>
<rect x="472" y="260.2" width="2" height="14.4" fill="rgba(38,166,154,0.84)"/>
<path d="M471 259.2h4v16.4h-4z M472 260.2v14.4h2v-14.4z" fill="rgba(38,166,154,0.90)" fill-rule="evenodd"/>
<rect x="477" y="246.5" width="2" height="11.0" fill="rgba(239,83,80,0.89)"/>
<rect x="477" y="260.7" width="2" height="27.9" fill="rgba(239,83,80,0.89)"/>
<rect x="477" y="258.5" width="2" height="1.2" fill="rgba(239,83,80,0.82)"/>
<path d="M476 257.5h4v3.2h-4z M477 258.5v1.2h2v-1.2z" fill="rgba(239,83,80,0.89)" fill-rule="evenodd"/>
<rect x="482" y="217.3" width="2" height="38.0" fill="rgba(239,83,80,0.89)"/>
<rect x="482" y="264.6" width="2" height="16.8" fill="rgba(239,83,80,0.89)"/>
<rect x="482" y="256.3" width="2" height="7.3" fill="rgba(239,83,80,0.82)"/>
<path d="M481 255.3h4v9.3h-4z M482 256.3v7.3h2v-7.3z" fill="rgba(239,83,80,0.89)" fill-rule="evenodd"/>
<rect x="486" y="195.3" width="2" height="13.8" fill="rgba(38,166,154,0.90)"/>
<rect x="486" y="262.7" width="2" height="5.8" fill="rgba(38,166,154,0.90)"/>
<rect x="486" y="210.1" width="2" height="51.6" fill="rgba(38,166,154,0.84)"/>
<path d="M485 209.1h4v53.6h-4z M486 210.1v51.6h2v-51.6z" fill="rgba(38,166,154,0.90)" fill-rule="evenodd"/>
<rect x="491" y="189.4" width="2" height="6.5" fill="rgba(38,166,154,0.90)"/>
<rect x="491" y="206.9" width="2" height="15.6" fill="rgba(38,166,154,0.90)"/>
<rect x="491" y="196.9" width="2" height="9.0" fill="rgba(38,166,154,0.84)"/>
<path d="M490 195.9h4v11.0h-4z M491 196.9v9.0h2v-9.0z" fill="rgba(38,166,154,0.90)" fill-rule="evenodd"/>
<rect x="495" y="184.3" width="2" height="11.6" fill="rgba(239,83,80,0.89)"/>
<rect x="495" y="199.8" width="2" height="15.6" fill="rgba(239,83,80,0.89)"/>
<rect x="495" y="196.9" width="2" height="1.9" fill="rgba(239,83,80,0.82)"/>
<path d="M494 195.9h4v3.9h-4z M495 196.9v1.9h2v-1.9z" fill="rgba(239,83,80,0.89)" fill-rule="evenodd"/>
<rect x="500" y="184.3" width="2" height="18.1" fill="rgba(239,83,80,0.89)"/>
<rect x="500" y="210.8" width="2" height="19.8" fill="rgba(239,83,80,0.89)"/>
<rect x="500" y="203.4" width="2" height="6.4" fill="rgba(239,83,80,0.82)"/>
<path d="M499 202.4h4v8.4h-4z M500 203.4v6.4h2v-6.4z" fill="rgba(239,83,80,0.89)" fill-rule="evenodd"/>
<rect x="504" y="202.1" width="2" height="9.1" fill="rgba(239,83,80,0.89)"/>
<rect x="504" y="212.2" width="2" height="9.9" fill="rgba(239,83,80,0.82)"/>
<path d="M503 211.2h4v11.9h-4z M504 212.2v9.9h2v-9.9z" fill="rgba(239,83,80,0.89)" fill-rule="evenodd"/>
<rect x="509" y="214.1" width="2" height="8.8" fill="rgba(239,83,80,0.89)"/>
<rect x="509" y="224.4" width="2" height="14.3" fill="rgba(239,83,80,0.89)"/>
<rect x="508" y="222.9" width="4" height="1.5" fill="rgba(239,83,80,0.89)"/>
<rect x="514" y="218.2" width="2" height="7.8" fill="rgba(239,83,80,0.89)"/>
<rect x="514" y="228.6" width="2" height="6.2" fill="rgba(239,83,80,0.89)"/>
<rect x="513" y="226.0" width="4" height="2.6" fill="rgba(239,83,80,0.89)"/>
<rect x="518" y="228.3" width="2" height="3.6" fill="rgba(239,83,80,0.89)"/>
<rect x="518" y="258.8" width="2" height="18.8" fill="rgba(239,83,80,0.89)"/>
<rect x="518" y="232.9" width="2" height="24.9" fill="rgba(239,83,80,0.82)"/>
<path d="M517 231.9h4v26.9h-4z M518 232.9v24.9h2v-24.9z" fill="rgba(239,83,80,0.89)" fill-rule="evenodd"/>
<rect x="523" y="206.0" width="2" height="10.0" fill="rgba(38,166,154,0.90)"/>
<rect x="523" y="217.0" width="2" height="36.9" fill="rgba(38,166,154,0.84)"/>
<path d="M522 216.0h4v38.9h-4z M523 217.0v36.9h2v-36.9z" fill="rgba(38,166,154,0.90)" fill-rule="evenodd"/>
<rect x="527" y="134.0" width="2" height="18.3" fill="rgba(38,166,154,0.90)"/>
<rect x="527" y="212.9" width="2" height="17.7" fill="rgba(38,166,154,0.90)"/>
<rect x="527" y="153.3" width="2" height="58.6" fill="rgba(38,166,154,0.84)"/>
<path d="M526 152.3h4v60.6h-4z M527 153.3v58.6h2v-58.6z" fill="rgba(38,166,154,0.90)" fill-rule="evenodd"/>
<rect x="532" y="144.3" width="2" height="9.7" fill="rgba(239,83,80,0.89)"/>
<rect x="532" y="168.9" width="2" height="12.5" fill="rgba(239,83,80,0.89)"/>
<rect x="532" y="155.0" width="2" height="12.9" fill="rgba(239,83,80,0.82)"/>
<path d="M531 154.0h4v14.9h-4z M532 155.0v12.9h2v-12.9z" fill="rgba(239,83,80,0.89)" fill-rule="evenodd"/>
<rect x="536" y="166.0" width="2" height="0.6" fill="rgba(239,83,80,0.89)"/>
<rect x="536" y="185.4" width="2" height="9.2" fill="rgba(239,83,80,0.89)"/>
<rect x="536" y="167.6" width="2" height="16.8" fill="rgba(239,83,80,0.82)"/>
<path d="M535 166.6h4v18.8h-4z M536 167.6v16.8h2v-16.8z" fill="rgba(239,83,80,0.89)" fill-rule="evenodd"/>
<rect x="541" y="178.0" width="2" height="9.7" fill="rgba(239,83,80,0.89)"/>
<rect x="541" y="191.7" width="2" height="8.0" fill="rgba(239,83,80,0.89)"/>
<rect x="541" y="188.7" width="2" height="2.0" fill="rgba(239,83,80,0.82)"/>
<path d="M540 187.7h4v4.0h-4z M541 188.7v2.0h2v-2.0z" fill="rgba(239,83,80,0.89)" fill-rule="evenodd"/>
<rect x="546" y="130.0" width="2" height="6.9" fill="rgba(38,166,154,0.90)"/>
<rect x="546" y="188.9" width="2" height="0.5" fill="rgba(38,166,154,0.90)"/>
<rect x="546" y="137.9" width="2" height="50.0" fill="rgba(38,166,154,0.84)"/>
<path d="M545 136.9h4v52.0h-4z M546 137.9v50.0h2v-50.0z" fill="rgba(38,166,154,0.90)" fill-rule="evenodd"/>
<rect x="550" y="138.0" width="2" height="0.6" fill="rgba(239,83,80,0.89)"/>
<rect x="550" y="152.3" width="2" height="11.4" fill="rgba(239,83,80,0.89)"/>
<rect x="550" y="139.6" width="2" height="11.7" fill="rgba(239,83,80,0.82)"/>
<path d="M549 138.6h4v13.7h-4z M550 139.6v11.7h2v-11.7z" fill="rgba(239,83,80,0.89)" fill-rule="evenodd"/>
<rect x="555" y="138.0" width="2" height="4.0" fill="rgba(38,166,154,0.90)"/>
<rect x="555" y="152.3" width="2" height="8.6" fill="rgba(38,166,154,0.90)"/>
<rect x="555" y="143.0" width="2" height="8.3" fill="rgba(38,166,154,0.84)"/>
<path d="M554 142.0h4v10.3h-4z M555 143.0v8.3h2v-8.3z" fill="rgba(38,166,154,0.90)" fill-rule="evenodd"/>
<rect x="559" y="133.2" width="2" height="8.8" fill="rgba(239,83,80,0.89)"/>
<rect x="559" y="159.1" width="2" height="10.9" fill="rgba(239,83,80,0.89)"/>
<rect x="559" y="143.0" width="2" height="15.1" fill="rgba(239,83,80,0.82)"/>
<path d="M558 142.0h4v17.1h-4z M559 143.0v15.1h2v-15.1z" fill="rgba(239,83,80,0.89)" fill-rule="evenodd"/>
<rect x="564" y="150.0" width="2" height="6.3" fill="rgba(38,166,154,0.90)"/>
<rect x="564" y="160.3" width="2" height="16.6" fill="rgba(38,166,154,0.90)"/>
<rect x="564" y="157.3" width="2" height="2.0" fill="rgba(38,166,154,0.84)"/>
<path d="M563 156.3h4v4.0h-4z M564 157.3v2.0h2v-2.0z" fill="rgba(38,166,154,0.90)" fill-rule="evenodd"/>
<rect x="568" y="128.3" width="2" height="13.7" fill="rgba(38,166,154,0.90)"/>
<rect x="568" y="155.7" width="2" height="9.2" fill="rgba(38,166,154,0.90)"/>
<rect x="568" y="143.0" width="2" height="11.7" fill="rgba(38,166,154,0.84)"/>
<path d="M567 142.0h4v13.7h-4z M568 143.0v11.7h2v-11.7z" fill="rgba(38,166,154,0.90)" fill-rule="evenodd"/>
<rect x="573" y="99.1" width="2" height="5.8" fill="rgba(38,166,154,0.90)"/>
<rect x="573" y="142.6" width="2" height="10.3" fill="rgba(38,166,154,0.90)"/>
<rect x="573" y="105.9" width="2" height="35.7" fill="rgba(38,166,154,0.84)"/>
<path d="M572 104.9h4v37.7h-4z M573 105.9v35.7h2v-35.7z" fill="rgba(38,166,154,0.90)" fill-rule="evenodd"/>
<rect x="578" y="104.9" width="2" height="1.1" fill="rgba(239,83,80,0.89)"/>
<rect x="578" y="169.4" width="2" height="5.2" fill="rgba(239,83,80,0.89)"/>
<rect x="578" y="107.0" width="2" height="61.4" fill="rgba(239,83,80,0.82)"/>
<path d="M577 106.0h4v63.4h-4z M578 107.0v61.4h2v-61.4z" fill="rgba(239,83,80,0.89)" fill-rule="evenodd"/>
<rect x="582" y="160.9" width="2" height="8.0" fill="rgba(239,83,80,0.89)"/>
<rect x="582" y="172.3" width="2" height="13.7" fill="rgba(239,83,80,0.89)"/>
<rect x="582" y="169.9" width="2" height="1.4" fill="rgba(239,83,80,0.82)"/>
<path d="M581 168.9h4v3.4h-4z M582 169.9v1.4h2v-1.4z" fill="rgba(239,83,80,0.89)" fill-rule="evenodd"/>
<rect x="587" y="164.9" width="2" height="4.0" fill="rgba(239,83,80,0.89)"/>
<rect x="587" y="169.9" width="2" height="21.4" fill="rgba(239,83,80,0.82)"/>
<path d="M586 168.9h4v23.4h-4z M587 169.9v21.4h2v-21.4z" fill="rgba(239,83,80,0.89)" fill-rule="evenodd"/>
<rect x="591" y="174.0" width="2" height="17.1" fill="rgba(239,83,80,0.89)"/>
<rect x="591" y="192.1" width="2" height="14.6" fill="rgba(239,83,80,0.82)"/>
<path d="M590 191.1h4v16.6h-4z M591 192.1v14.6h2v-14.6z" fill="rgba(239,83,80,0.89)" fill-rule="evenodd"/>
<rect x="596" y="177.4" width="2" height="4.0" fill="rgba(38,166,154,0.90)"/>
<rect x="596" y="209.4" width="2" height="1.2" fill="rgba(38,166,154,0.90)"/>
<rect x="596" y="182.4" width="2" height="26.0" fill="rgba(38,166,154,0.84)"/>
<path d="M595 181.4h4v28.0h-4z M596 182.4v26.0h2v-26.0z" fill="rgba(38,166,154,0.90)" fill-rule="evenodd"/>
<rect x="600" y="164.1" width="2" height="13.9" fill="rgba(38,166,154,0.90)"/>
<rect x="600" y="180.3" width="2" height="1.1" fill="rgba(38,166,154,0.90)"/>
<rect x="599" y="178.0" width="4" height="2.3" fill="rgba(38,166,154,0.90)"/>
<rect x="605" y="164.9" width="2" height="5.1" fill="rgba(38,166,154,0.90)"/>
<rect x="605" y="180.9" width="2" height="8.0" fill="rgba(38,166,154,0.90)"/>
<rect x="605" y="171.0" width="2" height="8.9" fill="rgba(38,166,154,0.84)"/>
<path d="M604 170.0h4v10.9h-4z M605 171.0v8.9h2v-8.9z" fill="rgba(38,166,154,0.90)" fill-rule="evenodd"/>
<rect x="610" y="143.9" width="2" height="15.2" fill="rgba(38,166,154,0.90)"/>
<rect x="610" y="160.1" width="2" height="6.6" fill="rgba(38,166,154,0.84)"/>
<path d="M609 159.1h4v8.6h-4z M610 160.1v6.6h2v-6.6z" fill="rgba(38,166,154,0.90)" fill-rule="evenodd"/>
<rect x="614" y="148.0" width="2" height="10.3" fill="rgba(38,166,154,0.90)"/>
<rect x="614" y="161.4" width="2" height="5.2" fill="rgba(38,166,154,0.90)"/>
<rect x="614" y="159.3" width="2" height="1.1" fill="rgba(38,166,154,0.84)"/>
<path d="M613 158.3h4v3.1h-4z M614 159.3v1.1h2v-1.1z" fill="rgba(38,166,154,0.90)" fill-rule="evenodd"/>
<rect x="619" y="150.0" width="2" height="8.6" fill="rgba(239,83,80,0.89)"/>
<rect x="619" y="169.4" width="2" height="12.0" fill="rgba(239,83,80,0.89)"/>
<rect x="619" y="159.6" width="2" height="8.8" fill="rgba(239,83,80,0.82)"/>
<path d="M618 158.6h4v10.8h-4z M619 159.6v8.8h2v-8.8z" fill="rgba(239,83,80,0.89)" fill-rule="evenodd"/>
<rect x="623" y="168.3" width="2" height="2.8" fill="rgba(239,83,80,0.89)"/>
<rect x="623" y="185.4" width="2" height="3.5" fill="rgba(239,83,80,0.89)"/>
<rect x="623" y="172.1" width="2" height="12.3" fill="rgba(239,83,80,0.82)"/>
<path d="M622 171.1h4v14.3h-4z M623 172.1v12.3h2v-12.3z" fill="rgba(239,83,80,0.89)" fill-rule="evenodd"/>
<rect x="628" y="175.9" width="2" height="9.0" fill="rgba(239,83,80,0.89)"/>
<rect x="628" y="191.7" width="2" height="2.9" fill="rgba(239,83,80,0.89)"/>
<rect x="628" y="185.9" width="2" height="4.8" fill="rgba(239,83,80,0.82)"/>
<path d="M627 184.9h4v6.8h-4z M628 185.9v4.8h2v-4.8z" fill="rgba(239,83,80,0.89)" fill-rule="evenodd"/>
<rect x="632" y="184.9" width="2" height="5.7" fill="rgba(239,83,80,0.89)"/>
<rect x="632" y="199.7" width="2" height="5.2" fill="rgba(239,83,80,0.89)"/>
<rect x="632" y="191.6" width="2" height="7.1" fill="rgba(239,83,80,0.82)"/>
<path d="M631 190.6h4v9.1h-4z M632 191.6v7.1h2v-7.1z" fill="rgba(239,83,80,0.89)" fill-rule="evenodd"/>
<rect x="637" y="190.8" width="2" height="9.5" fill="rgba(239,83,80,0.89)"/>
<rect x="637" y="201.3" width="2" height="3.1" fill="rgba(239,83,80,0.82)"/>
<path d="M636 200.3h4v5.1h-4z M637 201.3v3.1h2v-3.1z" fill="rgba(239,83,80,0.89)" fill-rule="evenodd"/>
<rect x="642" y="193.1" width="2" height="12.9" fill="rgba(239,83,80,0.89)"/>
<rect x="642" y="207.0" width="2" height="13.6" fill="rgba(239,83,80,0.82)"/>
<path d="M641 206.0h4v15.6h-4z M642 207.0v13.6h2v-13.6z" fill="rgba(239,83,80,0.89)" fill-rule="evenodd"/>
<rect x="646" y="207.2" width="2" height="0.3" fill="rgba(38,166,154,0.90)"/>
<rect x="646" y="223.6" width="2" height="5.3" fill="rgba(38,166,154,0.90)"/>
<rect x="646" y="208.5" width="2" height="14.1" fill="rgba(38,166,154,0.84)"/>
<path d="M645 207.5h4v16.1h-4z M646 208.5v14.1h2v-14.1z" fill="rgba(38,166,154,0.90)" fill-rule="evenodd"/>
<rect x="651" y="209.1" width="2" height="6.8" fill="rgba(239,83,80,0.89)"/>
<rect x="651" y="233.8" width="2" height="8.8" fill="rgba(239,83,80,0.89)"/>
<rect x="651" y="216.9" width="2" height="15.9" fill="rgba(239,83,80,0.82)"/>
<path d="M650 215.9h4v17.9h-4z M651 216.9v15.9h2v-15.9z" fill="rgba(239,83,80,0.89)" fill-rule="evenodd"/>
<rect x="655" y="232.7" width="2" height="6.1" fill="rgba(38,166,154,0.90)"/>
<rect x="655" y="214.6" width="2" height="17.1" fill="rgba(38,166,154,0.84)"/>
<path d="M654 213.6h4v19.1h-4z M655 214.6v17.1h2v-17.1z" fill="rgba(38,166,154,0.90)" fill-rule="evenodd"/>
<rect x="660" y="194.2" width="2" height="6.9" fill="rgba(38,166,154,0.90)"/>
<rect x="660" y="202.1" width="2" height="10.5" fill="rgba(38,166,154,0.84)"/>
<path d="M659 201.1h4v12.5h-4z M660 202.1v10.5h2v-10.5z" fill="rgba(38,166,154,0.90)" fill-rule="evenodd"/>
<rect x="664" y="172.1" width="2" height="4.2" fill="rgba(38,166,154,0.90)"/>
<rect x="664" y="199.9" width="2" height="2.7" fill="rgba(38,166,154,0.90)"/>
<rect x="664" y="177.3" width="2" height="21.6" fill="rgba(38,166,154,0.84)"/>
<path d="M663 176.3h4v23.6h-4z M664 177.3v21.6h2v-21.6z" fill="rgba(38,166,154,0.90)" fill-rule="evenodd"/>
<rect x="669" y="177.1" width="2" height="0.3" fill="rgba(239,83,80,0.89)"/>
<rect x="669" y="178.4" width="2" height="28.1" fill="rgba(239,83,80,0.82)"/>
<path d="M668 177.4h4v30.1h-4z M669 178.4v28.1h2v-28.1z" fill="rgba(239,83,80,0.89)" fill-rule="evenodd"/>
<rect x="674" y="196.1" width="2" height="11.8" fill="rgba(239,83,80,0.89)"/>
<rect x="674" y="216.7" width="2" height="3.0" fill="rgba(239,83,80,0.89)"/>
<rect x="674" y="208.9" width="2" height="6.8" fill="rgba(239,83,80,0.82)"/>
<path d="M673 207.9h4v8.8h-4z M674 208.9v6.8h2v-6.8z" fill="rgba(239,83,80,0.89)" fill-rule="evenodd"/>
<rect x="678" y="206.0" width="2" height="11.1" fill="rgba(239,83,80,0.89)"/>
<rect x="678" y="220.9" width="2" height="4.9" fill="rgba(239,83,80,0.89)"/>
<rect x="678" y="218.1" width="2" height="1.8" fill="rgba(239,83,80,0.82)"/>
<path d="M677 217.1h4v3.8h-4z M678 218.1v1.8h2v-1.8z" fill="rgba(239,83,80,0.89)" fill-rule="evenodd"/>
<rect x="683" y="217.1" width="2" height="4.2" fill="rgba(239,83,80,0.89)"/>
<rect x="683" y="227.0" width="2" height="2.7" fill="rgba(239,83,80,0.89)"/>
<rect x="683" y="222.3" width="2" height="3.7" fill="rgba(239,83,80,0.82)"/>
<path d="M682 221.3h4v5.7h-4z M683 222.3v3.7h2v-3.7z" fill="rgba(239,83,80,0.89)" fill-rule="evenodd"/>
<rect x="687" y="226.2" width="2" height="0.8" fill="rgba(239,83,80,0.89)"/>
<rect x="687" y="236.5" width="2" height="9.2" fill="rgba(239,83,80,0.89)"/>
<rect x="687" y="228.0" width="2" height="7.5" fill="rgba(239,83,80,0.82)"/>
<path d="M686 227.0h4v9.5h-4z M687 228.0v7.5h2v-7.5z" fill="rgba(239,83,80,0.89)" fill-rule="evenodd"/>
<rect x="692" y="231.2" width="2" height="2.7" fill="rgba(239,83,80,0.89)"/>
<rect x="692" y="235.3" width="2" height="8.5" fill="rgba(239,83,80,0.89)"/>
<rect x="691" y="233.8" width="4" height="1.5" fill="rgba(239,83,80,0.89)"/>
<rect x="696" y="214.0" width="2" height="5.0" fill="rgba(38,166,154,0.90)"/>
<rect x="696" y="220.0" width="2" height="14.4" fill="rgba(38,166,154,0.84)"/>
<path d="M695 219.0h4v16.4h-4z M696 220.0v14.4h2v-14.4z" fill="rgba(38,166,154,0.90)" fill-rule="evenodd"/>
<rect x="701" y="211.0" width="2" height="3.0" fill="rgba(38,166,154,0.90)"/>
<rect x="701" y="220.1" width="2" height="0.8" fill="rgba(38,166,154,0.90)"/>
<rect x="701" y="215.0" width="2" height="4.1" fill="rgba(38,166,154,0.84)"/>
<path d="M700 214.0h4v6.1h-4z M701 215.0v4.1h2v-4.1z" fill="rgba(38,166,154,0.90)" fill-rule="evenodd"/>
<rect x="706" y="199.2" width="2" height="13.9" fill="rgba(239,83,80,0.89)"/>
<rect x="706" y="214.6" width="2" height="2.1" fill="rgba(239,83,80,0.89)"/>
<rect x="705" y="213.1" width="4" height="1.5" fill="rgba(239,83,80,0.89)"/>
<rect x="710" y="211.0" width="2" height="5.2" fill="rgba(239,83,80,0.89)"/>
<rect x="710" y="217.7" width="2" height="3.9" fill="rgba(239,83,80,0.89)"/>
<rect x="709" y="216.2" width="4" height="1.5" fill="rgba(239,83,80,0.89)"/>
<rect x="715" y="193.1" width="2" height="3.8" fill="rgba(38,166,154,0.90)"/>
<rect x="715" y="217.8" width="2" height="1.9" fill="rgba(38,166,154,0.90)"/>
<rect x="715" y="197.9" width="2" height="18.9" fill="rgba(38,166,154,0.84)"/>
<path d="M714 196.9h4v20.9h-4z M715 197.9v18.9h2v-18.9z" fill="rgba(38,166,154,0.90)" fill-rule="evenodd"/>
<rect x="719" y="191.2" width="2" height="3.8" fill="rgba(239,83,80,0.89)"/>
<rect x="719" y="205.6" width="2" height="2.3" fill="rgba(239,83,80,0.89)"/>
<rect x="719" y="196.0" width="2" height="8.6" fill="rgba(239,83,80,0.82)"/>
<path d="M718 195.0h4v10.6h-4z M719 196.0v8.6h2v-8.6z" fill="rgba(239,83,80,0.89)" fill-rule="evenodd"/>
<rect x="724" y="198.0" width="2" height="8.0" fill="rgba(239,83,80,0.89)"/>
<rect x="724" y="207.0" width="2" height="4.9" fill="rgba(239,83,80,0.82)"/>
<path d="M723 206.0h4v6.9h-4z M724 207.0v4.9h2v-4.9z" fill="rgba(239,83,80,0.89)" fill-rule="evenodd"/>
<rect x="728" y="207.2" width="2" height="3.8" fill="rgba(239,83,80,0.89)"/>
<rect x="727" y="211.0" width="4" height="1.5" fill="rgba(239,83,80,0.89)"/>
<rect x="733" y="213.3" width="2" height="0.7" fill="rgba(239,83,80,0.89)"/>
<rect x="733" y="222.8" width="2" height="6.1" fill="rgba(239,83,80,0.89)"/>
<rect x="733" y="215.0" width="2" height="6.8" fill="rgba(239,83,80,0.82)"/>
<path d="M732 214.0h4v8.8h-4z M733 215.0v6.8h2v-6.8z" fill="rgba(239,83,80,0.89)" fill-rule="evenodd"/>
<rect x="738" y="215.2" width="2" height="6.8" fill="rgba(239,83,80,0.89)"/>
<rect x="738" y="225.8" width="2" height="1.9" fill="rgba(239,83,80,0.89)"/>
<rect x="738" y="223.0" width="2" height="1.8" fill="rgba(239,83,80,0.82)"/>
<path d="M737 222.0h4v3.8h-4z M738 223.0v1.8h2v-1.8z" fill="rgba(239,83,80,0.89)" fill-rule="evenodd"/>
<rect x="742" y="218.2" width="2" height="8.0" fill="rgba(239,83,80,0.89)"/>
<rect x="742" y="227.2" width="2" height="9.1" fill="rgba(239,83,80,0.82)"/>
<path d="M741 226.2h4v11.1h-4z M742 227.2v9.1h2v-9.1z" fill="rgba(239,83,80,0.89)" fill-rule="evenodd"/>
<rect x="747" y="231.2" width="2" height="5.1" fill="rgba(239,83,80,0.89)"/>
<rect x="747" y="238.1" width="2" height="2.7" fill="rgba(239,83,80,0.89)"/>
<rect x="746" y="236.3" width="4" height="1.8" fill="rgba(239,83,80,0.89)"/>
<rect x="751" y="217.1" width="2" height="5.0" fill="rgba(38,166,154,0.90)"/>
<rect x="751" y="239.9" width="2" height="4.1" fill="rgba(38,166,154,0.90)"/>
<rect x="751" y="223.1" width="2" height="15.8" fill="rgba(38,166,154,0.84)"/>
<path d="M750 222.1h4v17.8h-4z M751 223.1v15.8h2v-15.8z" fill="rgba(38,166,154,0.90)" fill-rule="evenodd"/>
<rect x="756" y="220.6" width="2" height="10.2" fill="rgba(38,166,154,0.90)"/>
<rect x="755" y="219.1" width="4" height="1.5" fill="rgba(38,166,154,0.90)"/>
<rect x="760" y="198.1" width="2" height="2.9" fill="rgba(38,166,154,0.90)"/>
<rect x="760" y="202.0" width="2" height="15.9" fill="rgba(38,166,154,0.84)"/>
<path d="M759 201.0h4v17.9h-4z M760 202.0v15.9h2v-15.9z" fill="rgba(38,166,154,0.90)" fill-rule="evenodd"/>
<rect x="765" y="196.9" width="2" height="5.1" fill="rgba(239,83,80,0.89)"/>
<rect x="765" y="203.0" width="2" height="13.5" fill="rgba(239,83,80,0.82)"/>
<path d="M764 202.0h4v15.5h-4z M765 203.0v13.5h2v-13.5z" fill="rgba(239,83,80,0.89)" fill-rule="evenodd"/>
<rect x="769" y="218.9" width="2" height="0.4" fill="rgba(239,83,80,0.89)"/>
<rect x="769" y="220.3" width="2" height="22.3" fill="rgba(239,83,80,0.82)"/>
<path d="M768 219.3h4v24.3h-4z M769 220.3v22.3h2v-22.3z" fill="rgba(239,83,80,0.89)" fill-rule="evenodd"/>
<rect x="774" y="239.9" width="2" height="4.1" fill="rgba(239,83,80,0.89)"/>
<rect x="774" y="262.8" width="2" height="8.2" fill="rgba(239,83,80,0.89)"/>
<rect x="774" y="245.0" width="2" height="16.8" fill="rgba(239,83,80,0.82)"/>
<path d="M773 244.0h4v18.8h-4z M774 245.0v16.8h2v-16.8z" fill="rgba(239,83,80,0.89)" fill-rule="evenodd"/>
<rect x="779" y="261.0" width="2" height="1.8" fill="rgba(239,83,80,0.89)"/>
<rect x="779" y="277.9" width="2" height="5.0" fill="rgba(239,83,80,0.89)"/>
<rect x="779" y="263.8" width="2" height="13.1" fill="rgba(239,83,80,0.82)"/>
<path d="M778 262.8h4v15.1h-4z M779 263.8v13.1h2v-13.1z" fill="rgba(239,83,80,0.89)" fill-rule="evenodd"/>
<rect x="783" y="270.1" width="2" height="7.0" fill="rgba(239,83,80,0.89)"/>
<rect x="783" y="278.6" width="2" height="13.0" fill="rgba(239,83,80,0.89)"/>
<rect x="782" y="277.1" width="4" height="1.5" fill="rgba(239,83,80,0.89)"/>
<rect x="788" y="259.1" width="2" height="6.0" fill="rgba(38,166,154,0.90)"/>
<rect x="788" y="279.7" width="2" height="3.2" fill="rgba(38,166,154,0.90)"/>
<rect x="788" y="266.1" width="2" height="12.6" fill="rgba(38,166,154,0.84)"/>
<path d="M787 265.1h4v14.6h-4z M788 266.1v12.6h2v-12.6z" fill="rgba(38,166,154,0.90)" fill-rule="evenodd"/>
<rect x="792" y="262.3" width="2" height="1.4" fill="rgba(239,83,80,0.89)"/>
<rect x="792" y="271.5" width="2" height="8.2" fill="rgba(239,83,80,0.89)"/>
<rect x="792" y="264.7" width="2" height="5.8" fill="rgba(239,83,80,0.82)"/>
<path d="M791 263.7h4v7.8h-4z M792 264.7v5.8h2v-5.8z" fill="rgba(239,83,80,0.89)" fill-rule="evenodd"/>
<rect x="797" y="271.0" width="2" height="1.0" fill="rgba(239,83,80,0.89)"/>
<rect x="797" y="281.1" width="2" height="0.5" fill="rgba(239,83,80,0.89)"/>
<rect x="797" y="273.0" width="2" height="7.1" fill="rgba(239,83,80,0.82)"/>
<path d="M796 272.0h4v9.1h-4z M797 273.0v7.1h2v-7.1z" fill="rgba(239,83,80,0.89)" fill-rule="evenodd"/>
<rect x="801" y="272.9" width="2" height="7.5" fill="rgba(239,83,80,0.89)"/>
<rect x="801" y="281.9" width="2" height="6.1" fill="rgba(239,83,80,0.89)"/>
<rect x="800" y="280.4" width="4" height="1.5" fill="rgba(239,83,80,0.89)"/>
<rect x="806" y="250.9" width="2" height="14.2" fill="rgba(38,166,154,0.90)"/>
<rect x="806" y="266.1" width="2" height="14.5" fill="rgba(38,166,154,0.84)"/>
<path d="M805 265.1h4v16.5h-4z M806 266.1v14.5h2v-14.5z" fill="rgba(38,166,154,0.90)" fill-rule="evenodd"/>
<rect x="811" y="242.2" width="2" height="10.1" fill="rgba(38,166,154,0.90)"/>
<rect x="811" y="253.3" width="2" height="10.3" fill="rgba(38,166,154,0.84)"/>
<path d="M810 252.3h4v12.3h-4z M811 253.3v10.3h2v-10.3z" fill="rgba(38,166,154,0.90)" fill-rule="evenodd"/>
<rect x="815" y="252.3" width="2" height="1.8" fill="rgba(239,83,80,0.89)"/>
<rect x="815" y="256.4" width="2" height="7.3" fill="rgba(239,83,80,0.89)"/>
<rect x="814" y="254.1" width="4" height="2.3" fill="rgba(239,83,80,0.89)"/>
<rect x="820" y="244.0" width="2" height="9.1" fill="rgba(38,166,154,0.90)"/>
<rect x="820" y="254.6" width="2" height="3.2" fill="rgba(38,166,154,0.90)"/>
<rect x="819" y="253.1" width="4" height="1.5" fill="rgba(38,166,154,0.90)"/>
<rect x="824" y="236.3" width="2" height="4.5" fill="rgba(38,166,154,0.90)"/>
<rect x="824" y="254.6" width="2" height="5.0" fill="rgba(38,166,154,0.90)"/>
<rect x="824" y="241.8" width="2" height="11.8" fill="rgba(38,166,154,0.84)"/>
<path d="M823 240.8h4v13.8h-4z M824 241.8v11.8h2v-11.8z" fill="rgba(38,166,154,0.90)" fill-rule="evenodd"/>
<rect x="829" y="231.1" width="2" height="6.0" fill="rgba(38,166,154,0.90)"/>
<rect x="829" y="238.6" width="2" height="15.0" fill="rgba(38,166,154,0.90)"/>
<rect x="828" y="237.1" width="4" height="1.5" fill="rgba(38,166,154,0.90)"/>
<rect x="833" y="237.2" width="2" height="2.0" fill="rgba(38,166,154,0.90)"/>
<rect x="833" y="240.7" width="2" height="2.9" fill="rgba(38,166,154,0.90)"/>
<rect x="832" y="239.2" width="4" height="1.5" fill="rgba(38,166,154,0.90)"/>
<rect x="838" y="234.9" width="2" height="4.1" fill="rgba(239,83,80,0.89)"/>
<rect x="838" y="240.8" width="2" height="9.2" fill="rgba(239,83,80,0.89)"/>
<rect x="837" y="239.0" width="4" height="1.8" fill="rgba(239,83,80,0.89)"/>
<rect x="843" y="216.1" width="2" height="1.0" fill="rgba(38,166,154,0.90)"/>
<rect x="843" y="218.1" width="2" height="21.3" fill="rgba(38,166,154,0.84)"/>
<path d="M842 217.1h4v23.3h-4z M843 218.1v21.3h2v-21.3z" fill="rgba(38,166,154,0.90)" fill-rule="evenodd"/>
<rect x="847" y="207.9" width="2" height="0.9" fill="rgba(38,166,154,0.90)"/>
<rect x="847" y="218.0" width="2" height="9.6" fill="rgba(38,166,154,0.90)"/>
<rect x="847" y="209.8" width="2" height="7.2" fill="rgba(38,166,154,0.84)"/>
<path d="M846 208.8h4v9.2h-4z M847 209.8v7.2h2v-7.2z" fill="rgba(38,166,154,0.90)" fill-rule="evenodd"/>
<rect x="852" y="215.4" width="2" height="3.5" fill="rgba(239,83,80,0.89)"/>
<rect x="852" y="212.1" width="2" height="2.3" fill="rgba(239,83,80,0.82)"/>
<path d="M851 211.1h4v4.3h-4z M852 212.1v2.3h2v-2.3z" fill="rgba(239,83,80,0.89)" fill-rule="evenodd"/>
<rect x="856" y="203.2" width="2" height="6.7" fill="rgba(38,166,154,0.90)"/>
<rect x="856" y="210.9" width="2" height="2.9" fill="rgba(38,166,154,0.84)"/>
<path d="M855 209.9h4v4.9h-4z M856 210.9v2.9h2v-2.9z" fill="rgba(38,166,154,0.90)" fill-rule="evenodd"/>
<rect x="861" y="193.2" width="2" height="8.8" fill="rgba(38,166,154,0.90)"/>
<rect x="861" y="209.9" width="2" height="14.6" fill="rgba(38,166,154,0.90)"/>
<rect x="861" y="203.0" width="2" height="5.9" fill="rgba(38,166,154,0.84)"/>
<path d="M860 202.0h4v7.9h-4z M861 203.0v5.9h2v-5.9z" fill="rgba(38,166,154,0.90)" fill-rule="evenodd"/>
<rect x="865" y="196.1" width="2" height="7.1" fill="rgba(239,83,80,0.89)"/>
<rect x="865" y="206.8" width="2" height="1.9" fill="rgba(239,83,80,0.89)"/>
<rect x="865" y="204.2" width="2" height="1.6" fill="rgba(239,83,80,0.82)"/>
<path d="M864 203.2h4v3.6h-4z M865 204.2v1.6h2v-1.6z" fill="rgba(239,83,80,0.89)" fill-rule="evenodd"/>
<rect x="870" y="207.4" width="2" height="0.6" fill="rgba(239,83,80,0.89)"/>
<rect x="870" y="212.9" width="2" height="3.9" fill="rgba(239,83,80,0.89)"/>
<rect x="870" y="209.0" width="2" height="2.9" fill="rgba(239,83,80,0.82)"/>
<path d="M869 208.0h4v4.9h-4z M870 209.0v2.9h2v-2.9z" fill="rgba(239,83,80,0.89)" fill-rule="evenodd"/>
<rect x="875" y="201.3" width="2" height="6.1" fill="rgba(38,166,154,0.90)"/>
<rect x="875" y="208.4" width="2" height="2.3" fill="rgba(38,166,154,0.84)"/>
<path d="M874 207.4h4v4.3h-4z M875 208.4v2.3h2v-2.3z" fill="rgba(38,166,154,0.90)" fill-rule="evenodd"/>
<rect x="879" y="207.1" width="2" height="0.9" fill="rgba(239,83,80,0.89)"/>
<rect x="879" y="212.9" width="2" height="5.9" fill="rgba(239,83,80,0.89)"/>
<rect x="879" y="209.0" width="2" height="2.9" fill="rgba(239,83,80,0.82)"/>
<path d="M878 208.0h4v4.9h-4z M879 209.0v2.9h2v-2.9z" fill="rgba(239,83,80,0.89)" fill-rule="evenodd"/>
<rect x="884" y="209.3" width="2" height="3.0" fill="rgba(239,83,80,0.89)"/>
<rect x="884" y="213.3" width="2" height="8.4" fill="rgba(239,83,80,0.82)"/>
<path d="M883 212.3h4v10.4h-4z M884 213.3v8.4h2v-8.4z" fill="rgba(239,83,80,0.89)" fill-rule="evenodd"/>
<rect x="888" y="219.0" width="2" height="4.3" fill="rgba(239,83,80,0.89)"/>
<rect x="888" y="226.3" width="2" height="3.5" fill="rgba(239,83,80,0.89)"/>
<rect x="887" y="223.3" width="4" height="3.0" fill="rgba(239,83,80,0.89)"/>
<rect x="893" y="221.2" width="2" height="4.5" fill="rgba(38,166,154,0.90)"/>
<rect x="893" y="228.8" width="2" height="4.9" fill="rgba(38,166,154,0.90)"/>
<rect x="893" y="226.7" width="2" height="1.1" fill="rgba(38,166,154,0.84)"/>
<path d="M892 225.7h4v3.1h-4z M893 226.7v1.1h2v-1.1z" fill="rgba(38,166,154,0.90)" fill-rule="evenodd"/>
<rect x="897" y="169.0" width="2" height="16.5" fill="rgba(38,166,154,0.90)"/>
<rect x="897" y="221.7" width="2" height="5.2" fill="rgba(38,166,154,0.90)"/>
<rect x="897" y="186.5" width="2" height="34.2" fill="rgba(38,166,154,0.84)"/>
<path d="M896 185.5h4v36.2h-4z M897 186.5v34.2h2v-34.2z" fill="rgba(38,166,154,0.90)" fill-rule="evenodd"/>
<rect x="902" y="139.1" width="2" height="14.1" fill="rgba(38,166,154,0.90)"/>
<rect x="902" y="178.8" width="2" height="6.1" fill="rgba(38,166,154,0.90)"/>
<rect x="902" y="154.2" width="2" height="23.6" fill="rgba(38,166,154,0.84)"/>
<path d="M901 153.2h4v25.6h-4z M902 154.2v23.6h2v-23.6z" fill="rgba(38,166,154,0.90)" fill-rule="evenodd"/>
<rect x="907" y="151.0" width="2" height="2.8" fill="rgba(239,83,80,0.89)"/>
<rect x="907" y="180.0" width="2" height="9.8" fill="rgba(239,83,80,0.89)"/>
<rect x="907" y="154.8" width="2" height="24.2" fill="rgba(239,83,80,0.82)"/>
<path d="M906 153.8h4v26.2h-4z M907 154.8v24.2h2v-24.2z" fill="rgba(239,83,80,0.89)" fill-rule="evenodd"/>
<rect x="911" y="177.0" width="2" height="7.3" fill="rgba(239,83,80,0.89)"/>
<rect x="911" y="211.7" width="2" height="38.4" fill="rgba(239,83,80,0.89)"/>
<rect x="911" y="185.3" width="2" height="25.4" fill="rgba(239,83,80,0.82)"/>
<path d="M910 184.3h4v27.4h-4z M911 185.3v25.4h2v-25.4z" fill="rgba(239,83,80,0.89)" fill-rule="evenodd"/>
<rect x="916" y="195.2" width="2" height="17.1" fill="rgba(239,83,80,0.89)"/>
<rect x="916" y="220.9" width="2" height="6.0" fill="rgba(239,83,80,0.89)"/>
<rect x="916" y="213.3" width="2" height="6.6" fill="rgba(239,83,80,0.82)"/>
<path d="M915 212.3h4v8.6h-4z M916 213.3v6.6h2v-6.6z" fill="rgba(239,83,80,0.89)" fill-rule="evenodd"/>
<rect x="920" y="155.0" width="2" height="18.3" fill="rgba(38,166,154,0.90)"/>
<rect x="920" y="216.0" width="2" height="3.6" fill="rgba(38,166,154,0.90)"/>
<rect x="920" y="174.3" width="2" height="40.7" fill="rgba(38,166,154,0.84)"/>
<path d="M919 173.3h4v42.7h-4z M920 174.3v40.7h2v-40.7z" fill="rgba(38,166,154,0.90)" fill-rule="evenodd"/>
<rect x="925" y="176.1" width="2" height="2.7" fill="rgba(239,83,80,0.89)"/>
<rect x="925" y="252.6" width="2" height="13.4" fill="rgba(239,83,80,0.89)"/>
<rect x="925" y="179.8" width="2" height="71.8" fill="rgba(239,83,80,0.82)"/>
<path d="M924 178.8h4v73.8h-4z M925 179.8v71.8h2v-71.8z" fill="rgba(239,83,80,0.89)" fill-rule="evenodd"/>
<rect x="929" y="235.5" width="2" height="0.6" fill="rgba(38,166,154,0.90)"/>
<rect x="929" y="255.6" width="2" height="12.2" fill="rgba(38,166,154,0.90)"/>
<rect x="929" y="237.1" width="2" height="17.5" fill="rgba(38,166,154,0.84)"/>
<path d="M928 236.1h4v19.5h-4z M929 237.1v17.5h2v-17.5z" fill="rgba(38,166,154,0.90)" fill-rule="evenodd"/>
<rect x="934" y="219.3" width="2" height="13.1" fill="rgba(239,83,80,0.89)"/>
<rect x="934" y="253.8" width="2" height="11.0" fill="rgba(239,83,80,0.89)"/>
<rect x="934" y="233.4" width="2" height="19.4" fill="rgba(239,83,80,0.82)"/>
<path d="M933 232.4h4v21.4h-4z M934 233.4v19.4h2v-19.4z" fill="rgba(239,83,80,0.89)" fill-rule="evenodd"/>
<rect x="939" y="253.2" width="2" height="1.4" fill="rgba(239,83,80,0.89)"/>
<rect x="939" y="328.9" width="2" height="1.1" fill="rgba(239,83,80,0.89)"/>
<rect x="939" y="255.6" width="2" height="72.3" fill="rgba(239,83,80,0.82)"/>
<path d="M938 254.6h4v74.3h-4z M939 255.6v72.3h2v-72.3z" fill="rgba(239,83,80,0.89)" fill-rule="evenodd"/>
<rect x="943" y="309.2" width="2" height="19.1" fill="rgba(239,83,80,0.89)"/>
<rect x="943" y="363.7" width="2" height="17.0" fill="rgba(239,83,80,0.89)"/>
<rect x="943" y="329.3" width="2" height="33.4" fill="rgba(239,83,80,0.82)"/>
<path d="M942 328.3h4v35.4h-4z M943 329.3v33.4h2v-33.4z" fill="rgba(239,83,80,0.89)" fill-rule="evenodd"/>
<rect x="948" y="344.3" width="2" height="2.8" fill="rgba(38,166,154,0.90)"/>
<rect x="948" y="364.3" width="2" height="22.3" fill="rgba(38,166,154,0.90)"/>
<rect x="948" y="348.1" width="2" height="15.2" fill="rgba(38,166,154,0.84)"/>
<path d="M947 347.1h4v17.2h-4z M948 348.1v15.2h2v-15.2z" fill="rgba(38,166,154,0.90)" fill-rule="evenodd"/>
<rect x="952" y="338.0" width="2" height="9.1" fill="rgba(239,83,80,0.89)"/>
<rect x="952" y="353.4" width="2" height="8.4" fill="rgba(239,83,80,0.89)"/>
<rect x="952" y="348.1" width="2" height="4.3" fill="rgba(239,83,80,0.82)"/>
<path d="M951 347.1h4v6.3h-4z M952 348.1v4.3h2v-4.3z" fill="rgba(239,83,80,0.89)" fill-rule="evenodd"/>
<rect x="957" y="347.1" width="2" height="8.0" fill="rgba(239,83,80,0.89)"/>
<rect x="957" y="365.4" width="2" height="14.2" fill="rgba(239,83,80,0.89)"/>
<rect x="957" y="356.1" width="2" height="8.3" fill="rgba(239,83,80,0.82)"/>
<path d="M956 355.1h4v10.3h-4z M957 356.1v8.3h2v-8.3z" fill="rgba(239,83,80,0.89)" fill-rule="evenodd"/>
<rect x="961" y="354.0" width="2" height="13.9" fill="rgba(239,83,80,0.89)"/>
<rect x="961" y="401.5" width="2" height="28.0" fill="rgba(239,83,80,0.89)"/>
<rect x="961" y="368.9" width="2" height="31.6" fill="rgba(239,83,80,0.82)"/>
<path d="M960 367.9h4v33.6h-4z M961 368.9v31.6h2v-31.6z" fill="rgba(239,83,80,0.89)" fill-rule="evenodd"/>
<rect x="966" y="401.5" width="2" height="1.2" fill="rgba(239,83,80,0.89)"/>
<rect x="966" y="474.0" width="2" height="3.7" fill="rgba(239,83,80,0.89)"/>
<rect x="966" y="403.7" width="2" height="69.3" fill="rgba(239,83,80,0.82)"/>
<path d="M965 402.7h4v71.3h-4z M966 403.7v69.3h2v-69.3z" fill="rgba(239,83,80,0.89)" fill-rule="evenodd"/>
<rect x="971" y="433.2" width="2" height="12.8" fill="rgba(38,166,154,0.90)"/>
<rect x="971" y="479.5" width="2" height="34.2" fill="rgba(38,166,154,0.90)"/>
<rect x="971" y="447.0" width="2" height="31.5" fill="rgba(38,166,154,0.84)"/>
<path d="M970 446.0h4v33.5h-4z M971 447.0v31.5h2v-31.5z" fill="rgba(38,166,154,0.90)" fill-rule="evenodd"/>
<rect x="975" y="412.2" width="2" height="13.0" fill="rgba(38,166,154,0.90)"/>
<rect x="975" y="446.0" width="2" height="2.8" fill="rgba(38,166,154,0.90)"/>
<rect x="975" y="426.2" width="2" height="18.8" fill="rgba(38,166,154,0.84)"/>
<path d="M974 425.2h4v20.8h-4z M975 426.2v18.8h2v-18.8z" fill="rgba(38,166,154,0.90)" fill-rule="evenodd"/>
<rect x="980" y="419.1" width="2" height="7.7" fill="rgba(239,83,80,0.89)"/>
<rect x="980" y="433.8" width="2" height="13.0" fill="rgba(239,83,80,0.89)"/>
<rect x="980" y="427.8" width="2" height="5.0" fill="rgba(239,83,80,0.82)"/>
<path d="M979 426.8h4v7.0h-4z M980 427.8v5.0h2v-5.0z" fill="rgba(239,83,80,0.89)" fill-rule="evenodd"/>
<rect x="984" y="402.1" width="2" height="20.1" fill="rgba(38,166,154,0.90)"/>
<rect x="984" y="423.2" width="2" height="8.7" fill="rgba(38,166,154,0.84)"/>
<path d="M983 422.2h4v10.7h-4z M984 423.2v8.7h2v-8.7z" fill="rgba(38,166,154,0.90)" fill-rule="evenodd"/>
<rect x="989" y="399.3" width="2" height="2.8" fill="rgba(38,166,154,0.90)"/>
<rect x="989" y="422.8" width="2" height="14.0" fill="rgba(38,166,154,0.90)"/>
<rect x="989" y="403.1" width="2" height="18.7" fill="rgba(38,166,154,0.84)"/>
<path d="M988 402.1h4v20.7h-4z M989 403.1v18.7h2v-18.7z" fill="rgba(38,166,154,0.90)" fill-rule="evenodd"/>
<rect x="993" y="387.1" width="2" height="8.9" fill="rgba(38,166,154,0.90)"/>
<rect x="993" y="402.1" width="2" height="8.5" fill="rgba(38,166,154,0.90)"/>
<rect x="993" y="397.0" width="2" height="4.1" fill="rgba(38,166,154,0.84)"/>
<path d="M992 396.0h4v6.1h-4z M993 397.0v4.1h2v-4.1z" fill="rgba(38,166,154,0.90)" fill-rule="evenodd"/>
<rect x="998" y="391.1" width="2" height="6.1" fill="rgba(239,83,80,0.89)"/>
<rect x="998" y="413.0" width="2" height="3.7" fill="rgba(239,83,80,0.89)"/>
<rect x="998" y="398.2" width="2" height="13.8" fill="rgba(239,83,80,0.82)"/>
<path d="M997 397.2h4v15.8h-4z M998 398.2v13.8h2v-13.8z" fill="rgba(239,83,80,0.89)" fill-rule="evenodd"/>
<rect x="1003" y="405.1" width="2" height="6.7" fill="rgba(239,83,80,0.89)"/>
<rect x="1003" y="415.5" width="2" height="7.3" fill="rgba(239,83,80,0.89)"/>
<rect x="1003" y="412.8" width="2" height="1.7" fill="rgba(239,83,80,0.82)"/>
<path d="M1002 411.8h4v3.7h-4z M1003 412.8v1.7h2v-1.7z" fill="rgba(239,83,80,0.89)" fill-rule="evenodd"/>
<rect x="1007" y="369.0" width="2" height="8.1" fill="rgba(38,166,154,0.90)"/>
<rect x="1007" y="378.1" width="2" height="33.6" fill="rgba(38,166,154,0.84)"/>
<path d="M1006 377.1h4v35.6h-4z M1007 378.1v33.6h2v-33.6z" fill="rgba(38,166,154,0.90)" fill-rule="evenodd"/>
<rect x="1012" y="359.1" width="2" height="8.1" fill="rgba(38,166,154,0.90)"/>
<rect x="1012" y="376.4" width="2" height="3.2" fill="rgba(38,166,154,0.90)"/>
<rect x="1012" y="368.2" width="2" height="7.2" fill="rgba(38,166,154,0.84)"/>
<path d="M1011 367.2h4v9.2h-4z M1012 368.2v7.2h2v-7.2z" fill="rgba(38,166,154,0.90)" fill-rule="evenodd"/>
<rect x="1016" y="344.9" width="2" height="6.8" fill="rgba(38,166,154,0.90)"/>
<rect x="1016" y="367.7" width="2" height="2.3" fill="rgba(38,166,154,0.90)"/>
<rect x="1016" y="352.7" width="2" height="14.0" fill="rgba(38,166,154,0.84)"/>
<path d="M1015 351.7h4v16.0h-4z M1016 352.7v14.0h2v-14.0z" fill="rgba(38,166,154,0.90)" fill-rule="evenodd"/>
<rect x="1021" y="350.0" width="2" height="2.9" fill="rgba(239,83,80,0.89)"/>
<rect x="1021" y="353.9" width="2" height="14.4" fill="rgba(239,83,80,0.82)"/>
<path d="M1020 352.9h4v16.4h-4z M1021 353.9v14.4h2v-14.4z" fill="rgba(239,83,80,0.89)" fill-rule="evenodd"/>
<rect x="1025" y="320.0" width="2" height="3.1" fill="rgba(38,166,154,0.90)"/>
<rect x="1025" y="367.7" width="2" height="11.9" fill="rgba(38,166,154,0.90)"/>
<rect x="1025" y="324.1" width="2" height="42.6" fill="rgba(38,166,154,0.84)"/>
<path d="M1024 323.1h4v44.6h-4z M1025 324.1v42.6h2v-42.6z" fill="rgba(38,166,154,0.90)" fill-rule="evenodd"/>
<rect x="1030" y="209.1" width="2" height="40.9" fill="rgba(38,166,154,0.90)"/>
<rect x="1030" y="317.0" width="2" height="10.8" fill="rgba(38,166,154,0.90)"/>
<rect x="1030" y="251.0" width="2" height="65.0" fill="rgba(38,166,154,0.84)"/>
<path d="M1029 250.0h4v67.0h-4z M1030 251.0v65.0h2v-65.0z" fill="rgba(38,166,154,0.90)" fill-rule="evenodd"/>
<rect x="1035" y="220.3" width="2" height="16.9" fill="rgba(38,166,154,0.90)"/>
<rect x="1035" y="248.1" width="2" height="4.4" fill="rgba(38,166,154,0.90)"/>
<rect x="1035" y="238.2" width="2" height="8.9" fill="rgba(38,166,154,0.84)"/>
<path d="M1034 237.2h4v10.9h-4z M1035 238.2v8.9h2v-8.9z" fill="rgba(38,166,154,0.90)" fill-rule="evenodd"/>
<rect x="1039" y="232.2" width="2" height="5.0" fill="rgba(239,83,80,0.89)"/>
<rect x="1039" y="275.8" width="2" height="14.9" fill="rgba(239,83,80,0.89)"/>
<rect x="1039" y="238.2" width="2" height="36.6" fill="rgba(239,83,80,0.82)"/>
<path d="M1038 237.2h4v38.6h-4z M1039 238.2v36.6h2v-36.6z" fill="rgba(239,83,80,0.89)" fill-rule="evenodd"/>
<rect x="1044" y="249.1" width="2" height="29.2" fill="rgba(239,83,80,0.89)"/>
<rect x="1044" y="279.3" width="2" height="14.8" fill="rgba(239,83,80,0.82)"/>
<path d="M1043 278.3h4v16.8h-4z M1044 279.3v14.8h2v-14.8z" fill="rgba(239,83,80,0.89)" fill-rule="evenodd"/>
<rect x="1048" y="283.3" width="2" height="7.9" fill="rgba(38,166,154,0.90)"/>
<rect x="1048" y="296.6" width="2" height="15.4" fill="rgba(38,166,154,0.90)"/>
<rect x="1048" y="292.2" width="2" height="3.4" fill="rgba(38,166,154,0.84)"/>
<path d="M1047 291.2h4v5.4h-4z M1048 292.2v3.4h2v-3.4z" fill="rgba(38,166,154,0.90)" fill-rule="evenodd"/>
<rect x="1053" y="304.6" width="2" height="7.4" fill="rgba(239,83,80,0.89)"/>
<rect x="1053" y="291.2" width="2" height="12.4" fill="rgba(239,83,80,0.82)"/>
<path d="M1052 290.2h4v14.4h-4z M1053 291.2v12.4h2v-12.4z" fill="rgba(239,83,80,0.89)" fill-rule="evenodd"/>
<rect x="1057" y="266.4" width="2" height="0.5" fill="rgba(38,166,154,0.90)"/>
<rect x="1057" y="267.9" width="2" height="34.7" fill="rgba(38,166,154,0.84)"/>
<path d="M1056 266.9h4v36.7h-4z M1057 267.9v34.7h2v-34.7z" fill="rgba(38,166,154,0.90)" fill-rule="evenodd"/>
<rect x="1062" y="246.1" width="2" height="6.9" fill="rgba(38,166,154,0.90)"/>
<rect x="1062" y="265.9" width="2" height="3.0" fill="rgba(38,166,154,0.90)"/>
<rect x="1062" y="254.0" width="2" height="10.9" fill="rgba(38,166,154,0.84)"/>
<path d="M1061 253.0h4v12.9h-4z M1062 254.0v10.9h2v-10.9z" fill="rgba(38,166,154,0.90)" fill-rule="evenodd"/>
<rect x="1066" y="244.1" width="2" height="4.0" fill="rgba(38,166,154,0.90)"/>
<rect x="1066" y="253.0" width="2" height="8.0" fill="rgba(38,166,154,0.90)"/>
<rect x="1066" y="249.1" width="2" height="2.9" fill="rgba(38,166,154,0.84)"/>
<path d="M1065 248.1h4v4.9h-4z M1066 249.1v2.9h2v-2.9z" fill="rgba(38,166,154,0.90)" fill-rule="evenodd"/>
<rect x="1071" y="231.9" width="2" height="12.7" fill="rgba(38,166,154,0.90)"/>
<rect x="1070" y="244.6" width="4" height="2.0" fill="rgba(38,166,154,0.90)"/>
<rect x="1076" y="217.0" width="2" height="4.3" fill="rgba(38,166,154,0.90)"/>
<rect x="1076" y="222.3" width="2" height="21.3" fill="rgba(38,166,154,0.84)"/>
<path d="M1075 221.3h4v23.3h-4z M1076 222.3v21.3h2v-21.3z" fill="rgba(38,166,154,0.90)" fill-rule="evenodd"/>
<rect x="1080" y="223.0" width="2" height="19.6" fill="rgba(239,83,80,0.82)"/>
<path d="M1079 222.0h4v21.6h-4z M1080 223.0v19.6h2v-19.6z" fill="rgba(239,83,80,0.89)" fill-rule="evenodd"/>
<rect x="1085" y="244.6" width="2" height="0.5" fill="rgba(239,83,80,0.89)"/>
<rect x="1085" y="246.1" width="2" height="20.3" fill="rgba(239,83,80,0.82)"/>
<path d="M1084 245.1h4v22.3h-4z M1085 246.1v20.3h2v-20.3z" fill="rgba(239,83,80,0.89)" fill-rule="evenodd"/>
<rect x="1089" y="264.9" width="2" height="3.5" fill="rgba(239,83,80,0.89)"/>
<rect x="1089" y="288.7" width="2" height="10.4" fill="rgba(239,83,80,0.89)"/>
<rect x="1089" y="269.4" width="2" height="18.3" fill="rgba(239,83,80,0.82)"/>
<path d="M1088 268.4h4v20.3h-4z M1089 269.4v18.3h2v-18.3z" fill="rgba(239,83,80,0.89)" fill-rule="evenodd"/>
<rect x="1094" y="290.2" width="2" height="0.5" fill="rgba(239,83,80,0.89)"/>
<rect x="1094" y="345.0" width="2" height="5.9" fill="rgba(239,83,80,0.89)"/>
<rect x="1094" y="291.7" width="2" height="52.3" fill="rgba(239,83,80,0.82)"/>
<path d="M1093 290.7h4v54.3h-4z M1094 291.7v52.3h2v-52.3z" fill="rgba(239,83,80,0.89)" fill-rule="evenodd"/>
<rect x="1098" y="323.0" width="2" height="9.1" fill="rgba(38,166,154,0.90)"/>
<rect x="1098" y="333.1" width="2" height="8.6" fill="rgba(38,166,154,0.84)"/>
<path d="M1097 332.1h4v10.6h-4z M1098 333.1v8.6h2v-8.6z" fill="rgba(38,166,154,0.90)" fill-rule="evenodd"/>
<rect x="1103" y="337.2" width="2" height="0.9" fill="rgba(239,83,80,0.89)"/>
<rect x="1103" y="364.6" width="2" height="23.4" fill="rgba(239,83,80,0.89)"/>
<rect x="1103" y="339.1" width="2" height="24.5" fill="rgba(239,83,80,0.82)"/>
<path d="M1102 338.1h4v26.5h-4z M1103 339.1v24.5h2v-24.5z" fill="rgba(239,83,80,0.89)" fill-rule="evenodd"/>
<rect x="1108" y="355.9" width="2" height="8.3" fill="rgba(239,83,80,0.89)"/>
<rect x="1108" y="365.2" width="2" height="10.3" fill="rgba(239,83,80,0.82)"/>
<path d="M1107 364.2h4v12.3h-4z M1108 365.2v10.3h2v-10.3z" fill="rgba(239,83,80,0.89)" fill-rule="evenodd"/>
<rect x="1112" y="366.9" width="2" height="7.2" fill="rgba(38,166,154,0.90)"/>
<rect x="1112" y="375.6" width="2" height="9.2" fill="rgba(38,166,154,0.90)"/>
<rect x="1111" y="374.1" width="4" height="1.5" fill="rgba(38,166,154,0.90)"/>
<rect x="1117" y="347.2" width="2" height="2.8" fill="rgba(38,166,154,0.90)"/>
<rect x="1117" y="375.6" width="2" height="20.1" fill="rgba(38,166,154,0.90)"/>
<rect x="1117" y="351.0" width="2" height="23.6" fill="rgba(38,166,154,0.84)"/>
<path d="M1116 350.0h4v25.6h-4z M1117 351.0v23.6h2v-23.6z" fill="rgba(38,166,154,0.90)" fill-rule="evenodd"/>
<rect x="1121" y="338.1" width="2" height="8.2" fill="rgba(38,166,154,0.90)"/>
<rect x="1121" y="351.8" width="2" height="15.1" fill="rgba(38,166,154,0.90)"/>
<rect x="1121" y="347.3" width="2" height="3.5" fill="rgba(38,166,154,0.84)"/>
<path d="M1120 346.3h4v5.5h-4z M1121 347.3v3.5h2v-3.5z" fill="rgba(38,166,154,0.90)" fill-rule="evenodd"/>
<rect x="1126" y="316.1" width="2" height="9.2" fill="rgba(38,166,154,0.90)"/>
<rect x="1126" y="345.4" width="2" height="8.3" fill="rgba(38,166,154,0.90)"/>
<rect x="1126" y="326.3" width="2" height="18.1" fill="rgba(38,166,154,0.84)"/>
<path d="M1125 325.3h4v20.1h-4z M1126 326.3v18.1h2v-18.1z" fill="rgba(38,166,154,0.90)" fill-rule="evenodd"/>
<rect x="1130" y="304.2" width="2" height="13.9" fill="rgba(239,83,80,0.89)"/>
<rect x="1130" y="319.6" width="2" height="8.0" fill="rgba(239,83,80,0.89)"/>
<rect x="1129" y="318.1" width="4" height="1.5" fill="rgba(239,83,80,0.89)"/>
<rect x="1135" y="308.4" width="2" height="3.6" fill="rgba(38,166,154,0.90)"/>
<rect x="1135" y="313.4" width="2" height="6.4" fill="rgba(38,166,154,0.90)"/>
<rect x="1134" y="311.9" width="4" height="1.5" fill="rgba(38,166,154,0.90)"/>
<rect x="1140" y="297.2" width="2" height="11.2" fill="rgba(38,166,154,0.90)"/>
<rect x="1140" y="309.4" width="2" height="4.8" fill="rgba(38,166,154,0.84)"/>
<path d="M1139 308.4h4v6.8h-4z M1140 309.4v4.8h2v-4.8z" fill="rgba(38,166,154,0.90)" fill-rule="evenodd"/>
<rect x="1144" y="309.3" width="2" height="1.8" fill="rgba(239,83,80,0.89)"/>
<rect x="1144" y="327.6" width="2" height="13.2" fill="rgba(239,83,80,0.89)"/>
<rect x="1144" y="312.1" width="2" height="14.5" fill="rgba(239,83,80,0.82)"/>
<path d="M1143 311.1h4v16.5h-4z M1144 312.1v14.5h2v-14.5z" fill="rgba(239,83,80,0.89)" fill-rule="evenodd"/>
<rect x="1149" y="325.3" width="2" height="1.4" fill="rgba(239,83,80,0.89)"/>
<rect x="1149" y="334.9" width="2" height="0.9" fill="rgba(239,83,80,0.89)"/>
<rect x="1149" y="327.7" width="2" height="6.2" fill="rgba(239,83,80,0.82)"/>
<path d="M1148 326.7h4v8.2h-4z M1149 327.7v6.2h2v-6.2z" fill="rgba(239,83,80,0.89)" fill-rule="evenodd"/>
<rect x="1153" y="320.3" width="2" height="12.3" fill="rgba(239,83,80,0.89)"/>
<rect x="1153" y="334.9" width="2" height="3.7" fill="rgba(239,83,80,0.89)"/>
<rect x="1152" y="332.6" width="4" height="2.3" fill="rgba(239,83,80,0.89)"/>
<rect x="1158" y="336.1" width="2" height="10.7" fill="rgba(239,83,80,0.89)"/>
<rect x="1157" y="334.6" width="4" height="1.5" fill="rgba(239,83,80,0.89)"/>
<rect x="1162" y="333.1" width="2" height="3.8" fill="rgba(239,83,80,0.89)"/>
<rect x="1162" y="338.4" width="2" height="18.5" fill="rgba(239,83,80,0.89)"/>
<rect x="1161" y="336.9" width="4" height="1.5" fill="rgba(239,83,80,0.89)"/>
<rect x="1167" y="338.6" width="2" height="0.4" fill="rgba(239,83,80,0.89)"/>
<rect x="1167" y="340.0" width="2" height="8.5" fill="rgba(239,83,80,0.82)"/>
<path d="M1166 339.0h4v10.5h-4z M1167 340.0v8.5h2v-8.5z" fill="rgba(239,83,80,0.89)" fill-rule="evenodd"/>
<rect x="1172" y="342.2" width="2" height="0.5" fill="rgba(38,166,154,0.90)"/>
<rect x="1172" y="349.5" width="2" height="3.2" fill="rgba(38,166,154,0.90)"/>
<rect x="1172" y="343.7" width="2" height="4.8" fill="rgba(38,166,154,0.84)"/>
<path d="M1171 342.7h4v6.8h-4z M1172 343.7v4.8h2v-4.8z" fill="rgba(38,166,154,0.90)" fill-rule="evenodd"/>
<rect x="1176" y="334.2" width="2" height="5.7" fill="rgba(239,83,80,0.89)"/>
<rect x="1176" y="342.2" width="2" height="2.3" fill="rgba(239,83,80,0.89)"/>
<rect x="1175" y="339.9" width="4" height="2.3" fill="rgba(239,83,80,0.89)"/>
<rect x="1181" y="327.1" width="2" height="11.5" fill="rgba(38,166,154,0.90)"/>
<rect x="1180" y="338.6" width="4" height="2.7" fill="rgba(38,166,154,0.90)"/>
<rect x="1185" y="365.5" width="2" height="2.8" fill="rgba(239,83,80,0.89)"/>
<rect x="1185" y="343.2" width="2" height="21.3" fill="rgba(239,83,80,0.82)"/>
<path d="M1184 342.2h4v23.3h-4z M1185 343.2v21.3h2v-21.3z" fill="rgba(239,83,80,0.89)" fill-rule="evenodd"/>
<rect x="1190" y="350.4" width="2" height="0.5" fill="rgba(38,166,154,0.90)"/>
<rect x="1190" y="351.9" width="2" height="12.6" fill="rgba(38,166,154,0.84)"/>
<path d="M1189 350.9h4v14.6h-4z M1190 351.9v12.6h2v-12.6z" fill="rgba(38,166,154,0.90)" fill-rule="evenodd"/>
<rect x="1194" y="332.3" width="2" height="14.4" fill="rgba(38,166,154,0.84)"/>
<path d="M1193 331.3h4v16.4h-4z M1194 332.3v14.4h2v-14.4z" fill="rgba(38,166,154,0.90)" fill-rule="evenodd"/>
<rect x="1199" y="323.0" width="2" height="7.5" fill="rgba(239,83,80,0.89)"/>
<rect x="1199" y="331.5" width="2" height="16.2" fill="rgba(239,83,80,0.82)"/>
<path d="M1198 330.5h4v18.2h-4z M1199 331.5v16.2h2v-16.2z" fill="rgba(239,83,80,0.89)" fill-rule="evenodd"/>
<rect x="1204" y="341.8" width="2" height="6.2" fill="rgba(239,83,80,0.89)"/>
<rect x="1204" y="349.0" width="2" height="5.6" fill="rgba(239,83,80,0.82)"/>
<path d="M1203 348.0h4v7.6h-4z M1204 349.0v5.6h2v-5.6z" fill="rgba(239,83,80,0.89)" fill-rule="evenodd"/>
<rect x="1208" y="338.4" width="2" height="2.1" fill="rgba(38,166,154,0.90)"/>
<rect x="1208" y="341.5" width="2" height="13.1" fill="rgba(38,166,154,0.84)"/>
<path d="M1207 340.5h4v15.1h-4z M1208 341.5v13.1h2v-13.1z" fill="rgba(38,166,154,0.90)" fill-rule="evenodd"/>
<rect x="1213" y="330.2" width="2" height="2.7" fill="rgba(38,166,154,0.90)"/>
<rect x="1213" y="333.9" width="2" height="2.8" fill="rgba(38,166,154,0.84)"/>
<path d="M1212 332.9h4v4.8h-4z M1213 333.9v2.8h2v-2.8z" fill="rgba(38,166,154,0.90)" fill-rule="evenodd"/>
<rect x="1217" y="324.0" width="2" height="7.3" fill="rgba(38,166,154,0.90)"/>
<rect x="1217" y="335.0" width="2" height="2.0" fill="rgba(38,166,154,0.90)"/>
<rect x="1217" y="332.3" width="2" height="1.7" fill="rgba(38,166,154,0.84)"/>
<path d="M1216 331.3h4v3.7h-4z M1217 332.3v1.7h2v-1.7z" fill="rgba(38,166,154,0.90)" fill-rule="evenodd"/>
<rect x="1222" y="325.4" width="2" height="0.7" fill="rgba(38,166,154,0.90)"/>
<rect x="1222" y="327.1" width="2" height="4.1" fill="rgba(38,166,154,0.84)"/>
<path d="M1221 326.1h4v6.1h-4z M1222 327.1v4.1h2v-4.1z" fill="rgba(38,166,154,0.90)" fill-rule="evenodd"/>
<rect x="1226" y="316.2" width="2" height="3.0" fill="rgba(38,166,154,0.90)"/>
<rect x="1226" y="326.7" width="2" height="1.4" fill="rgba(38,166,154,0.90)"/>
<rect x="1226" y="320.2" width="2" height="5.5" fill="rgba(38,166,154,0.84)"/>
<path d="M1225 319.2h4v7.5h-4z M1226 320.2v5.5h2v-5.5z" fill="rgba(38,166,154,0.90)" fill-rule="evenodd"/>
<rect x="1231" y="315.1" width="2" height="3.4" fill="rgba(239,83,80,0.89)"/>
<rect x="1231" y="327.4" width="2" height="7.6" fill="rgba(239,83,80,0.89)"/>
<rect x="1231" y="319.5" width="2" height="6.9" fill="rgba(239,83,80,0.82)"/>
<path d="M1230 318.5h4v8.9h-4z M1231 319.5v6.9h2v-6.9z" fill="rgba(239,83,80,0.89)" fill-rule="evenodd"/>
<rect x="1236" y="317.8" width="2" height="8.9" fill="rgba(239,83,80,0.89)"/>
<rect x="1236" y="327.7" width="2" height="9.7" fill="rgba(239,83,80,0.82)"/>
<path d="M1235 326.7h4v11.7h-4z M1236 327.7v9.7h2v-9.7z" fill="rgba(239,83,80,0.89)" fill-rule="evenodd"/>
<rect x="1240" y="335.0" width="2" height="3.1" fill="rgba(239,83,80,0.89)"/>
<rect x="1240" y="344.6" width="2" height="1.4" fill="rgba(239,83,80,0.89)"/>
<rect x="1240" y="339.1" width="2" height="4.5" fill="rgba(239,83,80,0.82)"/>
<path d="M1239 338.1h4v6.5h-4z M1240 339.1v4.5h2v-4.5z" fill="rgba(239,83,80,0.89)" fill-rule="evenodd"/>
<rect x="1245" y="343.9" width="2" height="1.4" fill="rgba(239,83,80,0.89)"/>
<rect x="1245" y="346.3" width="2" height="48.0" fill="rgba(239,83,80,0.82)"/>
<path d="M1244 345.3h4v50.0h-4z M1245 346.3v48.0h2v-48.0z" fill="rgba(239,83,80,0.89)" fill-rule="evenodd"/>
<rect x="1249" y="389.2" width="2" height="8.2" fill="rgba(239,83,80,0.89)"/>
<rect x="1249" y="432.4" width="2" height="6.1" fill="rgba(239,83,80,0.89)"/>
<rect x="1249" y="398.4" width="2" height="33.0" fill="rgba(239,83,80,0.82)"/>
<path d="M1248 397.4h4v35.0h-4z M1249 398.4v33.0h2v-33.0z" fill="rgba(239,83,80,0.89)" fill-rule="evenodd"/>
<rect x="1254" y="428.3" width="2" height="3.4" fill="rgba(239,83,80,0.89)"/>
<rect x="1254" y="459.8" width="2" height="6.9" fill="rgba(239,83,80,0.89)"/>
<rect x="1254" y="432.7" width="2" height="26.1" fill="rgba(239,83,80,0.82)"/>
<path d="M1253 431.7h4v28.1h-4z M1254 432.7v26.1h2v-26.1z" fill="rgba(239,83,80,0.89)" fill-rule="evenodd"/>
<rect x="1258" y="455.0" width="2" height="3.9" fill="rgba(239,83,80,0.89)"/>
<rect x="1258" y="460.4" width="2" height="14.5" fill="rgba(239,83,80,0.89)"/>
<rect x="1257" y="458.9" width="4" height="1.5" fill="rgba(239,83,80,0.89)"/>
<rect x="1263" y="443.3" width="2" height="3.5" fill="rgba(38,166,154,0.90)"/>
<rect x="1263" y="464.6" width="2" height="8.9" fill="rgba(38,166,154,0.90)"/>
<rect x="1263" y="447.8" width="2" height="15.8" fill="rgba(38,166,154,0.84)"/>
<path d="M1262 446.8h4v17.8h-4z M1263 447.8v15.8h2v-15.8z" fill="rgba(38,166,154,0.90)" fill-rule="evenodd"/>
<rect x="1268" y="444.0" width="2" height="3.5" fill="rgba(239,83,80,0.89)"/>
<rect x="1268" y="454.3" width="2" height="1.4" fill="rgba(239,83,80,0.89)"/>
<rect x="1268" y="448.5" width="2" height="4.8" fill="rgba(239,83,80,0.82)"/>
<path d="M1267 447.5h4v6.8h-4z M1268 448.5v4.8h2v-4.8z" fill="rgba(239,83,80,0.89)" fill-rule="evenodd"/>
<rect x="1272" y="430.3" width="2" height="13.0" fill="rgba(38,166,154,0.90)"/>
<rect x="1272" y="444.3" width="2" height="7.0" fill="rgba(38,166,154,0.84)"/>
<path d="M1271 443.3h4v9.0h-4z M1272 444.3v7.0h2v-7.0z" fill="rgba(38,166,154,0.90)" fill-rule="evenodd"/>
<rect x="1277" y="428.9" width="2" height="2.8" fill="rgba(38,166,154,0.90)"/>
<rect x="1277" y="443.0" width="2" height="2.6" fill="rgba(38,166,154,0.90)"/>
<rect x="1277" y="432.7" width="2" height="9.3" fill="rgba(38,166,154,0.84)"/>
<path d="M1276 431.7h4v11.3h-4z M1277 432.7v9.3h2v-9.3z" fill="rgba(38,166,154,0.90)" fill-rule="evenodd"/>
<rect x="1281" y="410.3" width="2" height="3.7" fill="rgba(38,166,154,0.90)"/>
<rect x="1281" y="432.0" width="2" height="2.6" fill="rgba(38,166,154,0.90)"/>
<rect x="1281" y="415.0" width="2" height="16.0" fill="rgba(38,166,154,0.84)"/>
<path d="M1280 414.0h4v18.0h-4z M1281 415.0v16.0h2v-16.0z" fill="rgba(38,166,154,0.90)" fill-rule="evenodd"/>
<rect x="1286" y="400.1" width="2" height="8.2" fill="rgba(38,166,154,0.90)"/>
<rect x="1286" y="413.5" width="2" height="6.1" fill="rgba(38,166,154,0.90)"/>
<rect x="1286" y="409.3" width="2" height="3.2" fill="rgba(38,166,154,0.84)"/>
<path d="M1285 408.3h4v5.2h-4z M1286 409.3v3.2h2v-3.2z" fill="rgba(38,166,154,0.90)" fill-rule="evenodd"/>
<rect x="1290" y="398.3" width="2" height="6.1" fill="rgba(38,166,154,0.90)"/>
<rect x="1290" y="408.7" width="2" height="3.0" fill="rgba(38,166,154,0.90)"/>
<rect x="1290" y="405.4" width="2" height="2.3" fill="rgba(38,166,154,0.84)"/>
<path d="M1289 404.4h4v4.3h-4z M1290 405.4v2.3h2v-2.3z" fill="rgba(38,166,154,0.90)" fill-rule="evenodd"/>
<rect x="1295" y="402.2" width="2" height="2.8" fill="rgba(239,83,80,0.89)"/>
<rect x="1295" y="406.0" width="2" height="8.6" fill="rgba(239,83,80,0.82)"/>
<path d="M1294 405.0h4v10.6h-4z M1295 406.0v8.6h2v-8.6z" fill="rgba(239,83,80,0.89)" fill-rule="evenodd"/>
<rect x="1300" y="404.1" width="2" height="12.2" fill="rgba(239,83,80,0.89)"/>
<rect x="1300" y="420.9" width="2" height="2.8" fill="rgba(239,83,80,0.89)"/>
<rect x="1300" y="417.3" width="2" height="2.6" fill="rgba(239,83,80,0.82)"/>
<path d="M1299 416.3h4v4.6h-4z M1300 417.3v2.6h2v-2.6z" fill="rgba(239,83,80,0.89)" fill-rule="evenodd"/>
<rect x="1304" y="407.1" width="2" height="12.9" fill="rgba(239,83,80,0.89)"/>
<rect x="1304" y="421.5" width="2" height="6.1" fill="rgba(239,83,80,0.89)"/>
<rect x="1303" y="420.0" width="4" height="1.5" fill="rgba(239,83,80,0.89)"/>
<rect x="1309" y="414.4" width="2" height="6.5" fill="rgba(239,83,80,0.89)"/>
<rect x="1309" y="427.6" width="2" height="3.0" fill="rgba(239,83,80,0.89)"/>
<rect x="1309" y="421.9" width="2" height="4.7" fill="rgba(239,83,80,0.82)"/>
<path d="M1308 420.9h4v6.7h-4z M1309 421.9v4.7h2v-4.7z" fill="rgba(239,83,80,0.89)" fill-rule="evenodd"/>
<rect x="1313" y="421.2" width="2" height="4.2" fill="rgba(239,83,80,0.89)"/>
<rect x="1312" y="425.4" width="4" height="2.8" fill="rgba(239,83,80,0.89)"/>
<rect x="1318" y="422.1" width="2" height="6.1" fill="rgba(239,83,80,0.89)"/>
<rect x="1318" y="441.0" width="2" height="2.4" fill="rgba(239,83,80,0.89)"/>
<rect x="1318" y="429.2" width="2" height="10.8" fill="rgba(239,83,80,0.82)"/>
<path d="M1317 428.2h4v12.8h-4z M1318 429.2v10.8h2v-10.8z" fill="rgba(239,83,80,0.89)" fill-rule="evenodd"/>
<rect x="1322" y="394.0" width="2" height="8.0" fill="rgba(38,166,154,0.90)"/>
<rect x="1322" y="441.0" width="2" height="0.6" fill="rgba(38,166,154,0.90)"/>
<rect x="1322" y="403.0" width="2" height="37.0" fill="rgba(38,166,154,0.84)"/>
<path d="M1321 402.0h4v39.0h-4z M1322 403.0v37.0h2v-37.0z" fill="rgba(38,166,154,0.90)" fill-rule="evenodd"/>
<rect x="1327" y="398.9" width="2" height="3.1" fill="rgba(239,83,80,0.89)"/>
<rect x="1327" y="410.5" width="2" height="10.4" fill="rgba(239,83,80,0.89)"/>
<rect x="1327" y="403.0" width="2" height="6.5" fill="rgba(239,83,80,0.82)"/>
<path d="M1326 402.0h4v8.5h-4z M1327 403.0v6.5h2v-6.5z" fill="rgba(239,83,80,0.89)" fill-rule="evenodd"/>
<rect x="1332" y="407.1" width="2" height="2.8" fill="rgba(239,83,80,0.89)"/>
<rect x="1332" y="410.9" width="2" height="11.4" fill="rgba(239,83,80,0.82)"/>
<path d="M1331 409.9h4v13.4h-4z M1332 410.9v11.4h2v-11.4z" fill="rgba(239,83,80,0.89)" fill-rule="evenodd"/>
<rect x="1336" y="462.8" width="2" height="10.9" fill="rgba(239,83,80,0.89)"/>
<rect x="1336" y="424.3" width="2" height="37.5" fill="rgba(239,83,80,0.82)"/>
<path d="M1335 423.3h4v39.5h-4z M1336 424.3v37.5h2v-37.5z" fill="rgba(239,83,80,0.89)" fill-rule="evenodd"/>
<rect x="1341" y="455.9" width="2" height="8.1" fill="rgba(239,83,80,0.89)"/>
<rect x="1341" y="480.8" width="2" height="4.8" fill="rgba(239,83,80,0.89)"/>
<rect x="1341" y="465.0" width="2" height="14.8" fill="rgba(239,83,80,0.82)"/>
<path d="M1340 464.0h4v16.8h-4z M1341 465.0v14.8h2v-14.8z" fill="rgba(239,83,80,0.89)" fill-rule="evenodd"/>
<rect x="1345" y="420.0" width="2" height="26.3" fill="rgba(38,166,154,0.90)"/>
<rect x="1345" y="480.8" width="2" height="25.0" fill="rgba(38,166,154,0.90)"/>
<rect x="1345" y="447.3" width="2" height="32.5" fill="rgba(38,166,154,0.84)"/>
<path d="M1344 446.3h4v34.5h-4z M1345 447.3v32.5h2v-32.5z" fill="rgba(38,166,154,0.90)" fill-rule="evenodd"/>
<rect x="1350" y="411.1" width="2" height="18.3" fill="rgba(38,166,154,0.90)"/>
<rect x="1350" y="443.4" width="2" height="5.3" fill="rgba(38,166,154,0.90)"/>
<rect x="1350" y="430.4" width="2" height="12.0" fill="rgba(38,166,154,0.84)"/>
<path d="M1349 429.4h4v14.0h-4z M1350 430.4v12.0h2v-12.0z" fill="rgba(38,166,154,0.90)" fill-rule="evenodd"/>
<rect x="1354" y="427.0" width="2" height="4.2" fill="rgba(239,83,80,0.89)"/>
<rect x="1354" y="467.8" width="2" height="27.0" fill="rgba(239,83,80,0.89)"/>
<rect x="1354" y="432.2" width="2" height="34.6" fill="rgba(239,83,80,0.82)"/>
<path d="M1353 431.2h4v36.6h-4z M1354 432.2v34.6h2v-34.6z" fill="rgba(239,83,80,0.89)" fill-rule="evenodd"/>
<rect x="1359" y="469.2" width="2" height="1.5" fill="rgba(239,83,80,0.89)"/>
<rect x="1359" y="513.7" width="2" height="28.1" fill="rgba(239,83,80,0.89)"/>
<rect x="1359" y="471.7" width="2" height="41.0" fill="rgba(239,83,80,0.82)"/>
<path d="M1358 470.7h4v43.0h-4z M1359 471.7v41.0h2v-41.0z" fill="rgba(239,83,80,0.89)" fill-rule="evenodd"/>
<rect x="1363" y="492.2" width="2" height="12.9" fill="rgba(38,166,154,0.90)"/>
<rect x="1363" y="516.7" width="2" height="14.9" fill="rgba(38,166,154,0.90)"/>
<rect x="1363" y="506.1" width="2" height="9.6" fill="rgba(38,166,154,0.84)"/>
<path d="M1362 505.1h4v11.6h-4z M1363 506.1v9.6h2v-9.6z" fill="rgba(38,166,154,0.90)" fill-rule="evenodd"/>
<rect x="1368" y="477.1" width="2" height="26.5" fill="rgba(239,83,80,0.89)"/>
<rect x="1368" y="507.2" width="2" height="6.5" fill="rgba(239,83,80,0.89)"/>
<rect x="1368" y="504.6" width="2" height="1.6" fill="rgba(239,83,80,0.82)"/>
<path d="M1367 503.6h4v3.6h-4z M1368 504.6v1.6h2v-1.6z" fill="rgba(239,83,80,0.89)" fill-rule="evenodd"/>
<rect x="1373" y="470.2" width="2" height="5.9" fill="rgba(38,166,154,0.90)"/>
<rect x="1373" y="508.0" width="2" height="2.6" fill="rgba(38,166,154,0.90)"/>
<rect x="1373" y="477.1" width="2" height="29.9" fill="rgba(38,166,154,0.84)"/>
<path d="M1372 476.1h4v31.9h-4z M1373 477.1v29.9h2v-29.9z" fill="rgba(38,166,154,0.90)" fill-rule="evenodd"/>
<rect x="1377" y="454.0" width="2" height="22.0" fill="rgba(239,83,80,0.89)"/>
<rect x="1377" y="480.9" width="2" height="9.1" fill="rgba(239,83,80,0.89)"/>
<rect x="1377" y="477.0" width="2" height="2.9" fill="rgba(239,83,80,0.82)"/>
<path d="M1376 476.0h4v4.9h-4z M1377 477.0v2.9h2v-2.9z" fill="rgba(239,83,80,0.89)" fill-rule="evenodd"/>
<rect x="1382" y="473.2" width="2" height="4.0" fill="rgba(239,83,80,0.89)"/>
<rect x="1382" y="493.0" width="2" height="34.8" fill="rgba(239,83,80,0.89)"/>
<rect x="1382" y="478.2" width="2" height="13.8" fill="rgba(239,83,80,0.82)"/>
<path d="M1381 477.2h4v15.8h-4z M1382 478.2v13.8h2v-13.8z" fill="rgba(239,83,80,0.89)" fill-rule="evenodd"/>
<rect x="1386" y="483.3" width="2" height="9.1" fill="rgba(239,83,80,0.89)"/>
<rect x="1386" y="518.0" width="2" height="0.7" fill="rgba(239,83,80,0.89)"/>
<rect x="1386" y="493.4" width="2" height="23.6" fill="rgba(239,83,80,0.82)"/>
<path d="M1385 492.4h4v25.6h-4z M1386 493.4v23.6h2v-23.6z" fill="rgba(239,83,80,0.89)" fill-rule="evenodd"/>
<rect x="1391" y="509.3" width="2" height="4.5" fill="rgba(38,166,154,0.90)"/>
<rect x="1391" y="515.6" width="2" height="25.4" fill="rgba(38,166,154,0.90)"/>
<rect x="1390" y="513.8" width="4" height="1.8" fill="rgba(38,166,154,0.90)"/>
<rect x="1395" y="469.3" width="2" height="6.7" fill="rgba(38,166,154,0.90)"/>
<rect x="1395" y="477.0" width="2" height="35.2" fill="rgba(38,166,154,0.84)"/>
<path d="M1394 476.0h4v37.2h-4z M1395 477.0v35.2h2v-35.2z" fill="rgba(38,166,154,0.90)" fill-rule="evenodd"/>
<rect x="1400" y="465.0" width="2" height="9.1" fill="rgba(239,83,80,0.89)"/>
<rect x="1400" y="475.6" width="2" height="13.2" fill="rgba(239,83,80,0.89)"/>
<rect x="1399" y="474.1" width="4" height="1.5" fill="rgba(239,83,80,0.89)"/>
<rect x="1405" y="474.1" width="2" height="2.5" fill="rgba(239,83,80,0.89)"/>
<rect x="1405" y="515.6" width="2" height="6.1" fill="rgba(239,83,80,0.89)"/>
<rect x="1405" y="477.6" width="2" height="37.0" fill="rgba(239,83,80,0.82)"/>
<path d="M1404 476.6h4v39.0h-4z M1405 477.6v37.0h2v-37.0z" fill="rgba(239,83,80,0.89)" fill-rule="evenodd"/>
<rect x="1409" y="507.1" width="2" height="6.7" fill="rgba(38,166,154,0.90)"/>
<rect x="1409" y="518.7" width="2" height="8.1" fill="rgba(38,166,154,0.90)"/>
<rect x="1409" y="514.8" width="2" height="2.9" fill="rgba(38,166,154,0.84)"/>
<path d="M1408 513.8h4v4.9h-4z M1409 514.8v2.9h2v-2.9z" fill="rgba(38,166,154,0.90)" fill-rule="evenodd"/>
<rect x="1414" y="508.3" width="2" height="3.7" fill="rgba(38,166,154,0.90)"/>
<rect x="1414" y="516.8" width="2" height="22.0" fill="rgba(38,166,154,0.90)"/>
<rect x="1414" y="513.0" width="2" height="2.8" fill="rgba(38,166,154,0.84)"/>
<path d="M1413 512.0h4v4.8h-4z M1414 513.0v2.8h2v-2.8z" fill="rgba(38,166,154,0.90)" fill-rule="evenodd"/>
<rect x="1418" y="494.3" width="2" height="17.0" fill="rgba(239,83,80,0.89)"/>
<rect x="1418" y="512.3" width="2" height="13.3" fill="rgba(239,83,80,0.82)"/>
<path d="M1417 511.3h4v15.3h-4z M1418 512.3v13.3h2v-13.3z" fill="rgba(239,83,80,0.89)" fill-rule="evenodd"/>
<rect x="1423" y="519.3" width="2" height="9.1" fill="rgba(239,83,80,0.89)"/>
<rect x="1423" y="559.5" width="2" height="15.9" fill="rgba(239,83,80,0.89)"/>
<rect x="1423" y="529.4" width="2" height="29.1" fill="rgba(239,83,80,0.82)"/>
<path d="M1422 528.4h4v31.1h-4z M1423 529.4v29.1h2v-29.1z" fill="rgba(239,83,80,0.89)" fill-rule="evenodd"/>
<rect x="1427" y="536.3" width="2" height="20.8" fill="rgba(239,83,80,0.89)"/>
<rect x="1427" y="569.9" width="2" height="3.6" fill="rgba(239,83,80,0.89)"/>
<rect x="1427" y="558.1" width="2" height="10.8" fill="rgba(239,83,80,0.82)"/>
<path d="M1426 557.1h4v12.8h-4z M1427 558.1v10.8h2v-10.8z" fill="rgba(239,83,80,0.89)" fill-rule="evenodd"/>
<rect x="1432" y="558.3" width="2" height="0.6" fill="rgba(38,166,154,0.90)"/>
<rect x="1432" y="572.9" width="2" height="12.8" fill="rgba(38,166,154,0.90)"/>
<rect x="1432" y="559.9" width="2" height="12.0" fill="rgba(38,166,154,0.84)"/>
<path d="M1431 558.9h4v14.0h-4z M1432 559.9v12.0h2v-12.0z" fill="rgba(38,166,154,0.90)" fill-rule="evenodd"/>
<rect x="1437" y="526.2" width="2" height="9.8" fill="rgba(38,166,154,0.90)"/>
<rect x="1437" y="537.0" width="2" height="19.7" fill="rgba(38,166,154,0.84)"/>
<path d="M1436 536.0h4v21.7h-4z M1437 537.0v19.7h2v-19.7z" fill="rgba(38,166,154,0.90)" fill-rule="evenodd"/>
<rect x="1441" y="514.2" width="2" height="11.1" fill="rgba(38,166,154,0.90)"/>
<rect x="1441" y="526.3" width="2" height="7.9" fill="rgba(38,166,154,0.84)"/>
<path d="M1440 525.3h4v9.9h-4z M1441 526.3v7.9h2v-7.9z" fill="rgba(38,166,154,0.90)" fill-rule="evenodd"/>
<rect x="1446" y="513.1" width="2" height="13.1" fill="rgba(239,83,80,0.89)"/>
<rect x="1446" y="527.2" width="2" height="20.4" fill="rgba(239,83,80,0.82)"/>
<path d="M1445 526.2h4v22.4h-4z M1446 527.2v20.4h2v-20.4z" fill="rgba(239,83,80,0.89)" fill-rule="evenodd"/>
<rect x="1450" y="542.2" width="2" height="5.8" fill="rgba(239,83,80,0.89)"/>
<rect x="1450" y="559.8" width="2" height="12.0" fill="rgba(239,83,80,0.89)"/>
<rect x="1450" y="549.0" width="2" height="9.8" fill="rgba(239,83,80,0.82)"/>
<path d="M1449 548.0h4v11.8h-4z M1450 549.0v9.8h2v-9.8z" fill="rgba(239,83,80,0.89)" fill-rule="evenodd"/>
<rect x="1455" y="529.2" width="2" height="15.1" fill="rgba(38,166,154,0.90)"/>
<rect x="1455" y="545.3" width="2" height="11.4" fill="rgba(38,166,154,0.84)"/>
<path d="M1454 544.3h4v13.4h-4z M1455 545.3v11.4h2v-11.4z" fill="rgba(38,166,154,0.90)" fill-rule="evenodd"/>
<rect x="1459" y="530.2" width="2" height="9.8" fill="rgba(38,166,154,0.90)"/>
<rect x="1459" y="544.8" width="2" height="3.8" fill="rgba(38,166,154,0.90)"/>
<rect x="1459" y="541.0" width="2" height="2.8" fill="rgba(38,166,154,0.84)"/>
<path d="M1458 540.0h4v4.8h-4z M1459 541.0v2.8h2v-2.8z" fill="rgba(38,166,154,0.90)" fill-rule="evenodd"/>
<rect x="1464" y="520.3" width="2" height="5.0" fill="rgba(38,166,154,0.90)"/>
<rect x="1464" y="526.3" width="2" height="12.2" fill="rgba(38,166,154,0.84)"/>
<path d="M1463 525.3h4v14.2h-4z M1464 526.3v12.2h2v-12.2z" fill="rgba(38,166,154,0.90)" fill-rule="evenodd"/>
<rect x="1469" y="519.2" width="2" height="4.6" fill="rgba(38,166,154,0.90)"/>
<rect x="1469" y="525.3" width="2" height="5.1" fill="rgba(38,166,154,0.90)"/>
<rect x="1468" y="523.8" width="4" height="1.5" fill="rgba(38,166,154,0.90)"/>
<rect x="1473" y="519.2" width="2" height="4.8" fill="rgba(239,83,80,0.89)"/>
<rect x="1473" y="532.6" width="2" height="6.9" fill="rgba(239,83,80,0.89)"/>
<rect x="1473" y="525.0" width="2" height="6.6" fill="rgba(239,83,80,0.82)"/>
<path d="M1472 524.0h4v8.6h-4z M1473 525.0v6.6h2v-6.6z" fill="rgba(239,83,80,0.89)" fill-rule="evenodd"/>
<rect x="1478" y="528.3" width="2" height="4.6" fill="rgba(239,83,80,0.89)"/>
<rect x="1478" y="534.4" width="2" height="3.3" fill="rgba(239,83,80,0.89)"/>
<rect x="1477" y="532.9" width="4" height="1.5" fill="rgba(239,83,80,0.89)"/>
<rect x="1482" y="537.4" width="2" height="0.5" fill="rgba(239,83,80,0.89)"/>
<rect x="1482" y="549.6" width="2" height="9.1" fill="rgba(239,83,80,0.89)"/>
<rect x="1482" y="538.9" width="2" height="9.7" fill="rgba(239,83,80,0.82)"/>
<path d="M1481 537.9h4v11.7h-4z M1482 538.9v9.7h2v-9.7z" fill="rgba(239,83,80,0.89)" fill-rule="evenodd"/>
<rect x="1487" y="537.4" width="2" height="0.5" fill="rgba(38,166,154,0.90)"/>
<rect x="1487" y="538.9" width="2" height="9.7" fill="rgba(38,166,154,0.84)"/>
<path d="M1486 537.9h4v11.7h-4z M1487 538.9v9.7h2v-9.7z" fill="rgba(38,166,154,0.90)" fill-rule="evenodd"/>
<rect x="1491" y="503.2" width="2" height="30.4" fill="rgba(239,83,80,0.89)"/>
<rect x="1491" y="534.6" width="2" height="3.9" fill="rgba(239,83,80,0.82)"/>
<path d="M1490 533.6h4v5.9h-4z M1491 534.6v3.9h2v-3.9z" fill="rgba(239,83,80,0.89)" fill-rule="evenodd"/>
<rect x="1496" y="518.2" width="2" height="9.0" fill="rgba(38,166,154,0.90)"/>
<rect x="1496" y="539.5" width="2" height="8.2" fill="rgba(38,166,154,0.90)"/>
<rect x="1496" y="528.2" width="2" height="10.3" fill="rgba(38,166,154,0.84)"/>
<path d="M1495 527.2h4v12.3h-4z M1496 528.2v10.3h2v-10.3z" fill="rgba(38,166,154,0.90)" fill-rule="evenodd"/>
<rect x="1501" y="527.4" width="2" height="18.5" fill="rgba(38,166,154,0.90)"/>
<rect x="1501" y="523.4" width="2" height="3.0" fill="rgba(38,166,154,0.84)"/>
<path d="M1500 522.4h4v5.0h-4z M1501 523.4v3.0h2v-3.0z" fill="rgba(38,166,154,0.90)" fill-rule="evenodd"/>
<rect x="1505" y="490.1" width="2" height="18.5" fill="rgba(38,166,154,0.90)"/>
<rect x="1505" y="518.7" width="2" height="4.1" fill="rgba(38,166,154,0.90)"/>
<rect x="1505" y="509.6" width="2" height="8.1" fill="rgba(38,166,154,0.84)"/>
<path d="M1504 508.6h4v10.1h-4z M1505 509.6v8.1h2v-8.1z" fill="rgba(38,166,154,0.90)" fill-rule="evenodd"/>
<rect x="1510" y="497.1" width="2" height="13.1" fill="rgba(239,83,80,0.89)"/>
<rect x="1510" y="520.8" width="2" height="4.8" fill="rgba(239,83,80,0.89)"/>
<rect x="1510" y="511.2" width="2" height="8.6" fill="rgba(239,83,80,0.82)"/>
<path d="M1509 510.2h4v10.6h-4z M1510 511.2v8.6h2v-8.6z" fill="rgba(239,83,80,0.89)" fill-rule="evenodd"/>
<rect x="1514" y="499.3" width="2" height="3.9" fill="rgba(38,166,154,0.90)"/>
<rect x="1514" y="521.7" width="2" height="2.9" fill="rgba(38,166,154,0.90)"/>
<rect x="1514" y="504.2" width="2" height="16.5" fill="rgba(38,166,154,0.84)"/>
<path d="M1513 503.2h4v18.5h-4z M1514 504.2v16.5h2v-16.5z" fill="rgba(38,166,154,0.90)" fill-rule="evenodd"/>
<rect x="1519" y="486.1" width="2" height="17.1" fill="rgba(239,83,80,0.89)"/>
<rect x="1519" y="517.6" width="2" height="3.2" fill="rgba(239,83,80,0.89)"/>
<rect x="1519" y="504.2" width="2" height="12.4" fill="rgba(239,83,80,0.82)"/>
<path d="M1518 503.2h4v14.4h-4z M1519 504.2v12.4h2v-12.4z" fill="rgba(239,83,80,0.89)" fill-rule="evenodd"/>
<rect x="1523" y="519.2" width="2" height="0.6" fill="rgba(239,83,80,0.89)"/>
<rect x="1523" y="534.7" width="2" height="3.2" fill="rgba(239,83,80,0.89)"/>
<rect x="1523" y="520.8" width="2" height="12.9" fill="rgba(239,83,80,0.82)"/>
<path d="M1522 519.8h4v14.9h-4z M1523 520.8v12.9h2v-12.9z" fill="rgba(239,83,80,0.89)" fill-rule="evenodd"/>
<rect x="1528" y="520.2" width="2" height="12.4" fill="rgba(38,166,154,0.84)"/>
<path d="M1527 519.2h4v14.4h-4z M1528 520.2v12.4h2v-12.4z" fill="rgba(38,166,154,0.90)" fill-rule="evenodd"/>
<rect x="1533" y="497.9" width="2" height="4.3" fill="rgba(38,166,154,0.90)"/>
<rect x="1533" y="503.2" width="2" height="13.4" fill="rgba(38,166,154,0.84)"/>
<path d="M1532 502.2h4v15.4h-4z M1533 503.2v13.4h2v-13.4z" fill="rgba(38,166,154,0.90)" fill-rule="evenodd"/>
<rect x="1537" y="501.6" width="2" height="10.5" fill="rgba(38,166,154,0.90)"/>
<rect x="1537" y="498.4" width="2" height="2.2" fill="rgba(38,166,154,0.84)"/>
<path d="M1536 497.4h4v4.2h-4z M1537 498.4v2.2h2v-2.2z" fill="rgba(38,166,154,0.90)" fill-rule="evenodd"/>
<rect x="1542" y="469.1" width="2" height="21.3" fill="rgba(38,166,154,0.90)"/>
<rect x="1542" y="497.4" width="2" height="14.7" fill="rgba(38,166,154,0.90)"/>
<rect x="1542" y="491.4" width="2" height="5.0" fill="rgba(38,166,154,0.84)"/>
<path d="M1541 490.4h4v7.0h-4z M1542 491.4v5.0h2v-5.0z" fill="rgba(38,166,154,0.90)" fill-rule="evenodd"/>
<rect x="1546" y="486.1" width="2" height="1.9" fill="rgba(239,83,80,0.89)"/>
<rect x="1546" y="503.8" width="2" height="2.1" fill="rgba(239,83,80,0.89)"/>
<rect x="1546" y="489.0" width="2" height="13.8" fill="rgba(239,83,80,0.82)"/>
<path d="M1545 488.0h4v15.8h-4z M1546 489.0v13.8h2v-13.8z" fill="rgba(239,83,80,0.89)" fill-rule="evenodd"/>
<rect x="1551" y="493.1" width="2" height="4.3" fill="rgba(38,166,154,0.90)"/>
<rect x="1551" y="505.4" width="2" height="4.2" fill="rgba(38,166,154,0.90)"/>
<rect x="1551" y="498.4" width="2" height="6.0" fill="rgba(38,166,154,0.84)"/>
<path d="M1550 497.4h4v8.0h-4z M1551 498.4v6.0h2v-6.0z" fill="rgba(38,166,154,0.90)" fill-rule="evenodd"/>
<rect x="1555" y="492.0" width="2" height="4.1" fill="rgba(38,166,154,0.90)"/>
<rect x="1555" y="497.6" width="2" height="11.3" fill="rgba(38,166,154,0.90)"/>
<rect x="1554" y="496.1" width="4" height="1.5" fill="rgba(38,166,154,0.90)"/>
<rect x="1560" y="496.1" width="2" height="3.9" fill="rgba(239,83,80,0.89)"/>
<rect x="1560" y="524.0" width="2" height="13.9" fill="rgba(239,83,80,0.89)"/>
<rect x="1560" y="501.0" width="2" height="22.0" fill="rgba(239,83,80,0.82)"/>
<path d="M1559 500.0h4v24.0h-4z M1560 501.0v22.0h2v-22.0z" fill="rgba(239,83,80,0.89)" fill-rule="evenodd"/>
<rect x="1565" y="523.0" width="2" height="1.0" fill="rgba(239,83,80,0.89)"/>
<rect x="1565" y="560.3" width="2" height="3.4" fill="rgba(239,83,80,0.89)"/>
<rect x="1565" y="525.0" width="2" height="34.3" fill="rgba(239,83,80,0.82)"/>
<path d="M1564 524.0h4v36.3h-4z M1565 525.0v34.3h2v-34.3z" fill="rgba(239,83,80,0.89)" fill-rule="evenodd"/>
<rect x="1569" y="547.0" width="2" height="5.3" fill="rgba(38,166,154,0.90)"/>
<rect x="1569" y="560.9" width="2" height="13.8" fill="rgba(38,166,154,0.90)"/>
<rect x="1569" y="553.3" width="2" height="6.6" fill="rgba(38,166,154,0.84)"/>
<path d="M1568 552.3h4v8.6h-4z M1569 553.3v6.6h2v-6.6z" fill="rgba(38,166,154,0.90)" fill-rule="evenodd"/>
<rect x="1574" y="533.1" width="2" height="5.9" fill="rgba(38,166,154,0.90)"/>
<rect x="1574" y="552.3" width="2" height="4.3" fill="rgba(38,166,154,0.90)"/>
<rect x="1574" y="540.0" width="2" height="11.3" fill="rgba(38,166,154,0.84)"/>
<path d="M1573 539.0h4v13.3h-4z M1574 540.0v11.3h2v-11.3z" fill="rgba(38,166,154,0.90)" fill-rule="evenodd"/>
<rect x="1578" y="536.8" width="2" height="4.3" fill="rgba(239,83,80,0.89)"/>
<rect x="1578" y="542.1" width="2" height="11.4" fill="rgba(239,83,80,0.82)"/>
<path d="M1577 541.1h4v13.4h-4z M1578 542.1v11.4h2v-11.4z" fill="rgba(239,83,80,0.89)" fill-rule="evenodd"/>
<rect x="1583" y="542.0" width="2" height="12.5" fill="rgba(239,83,80,0.89)"/>
<rect x="1583" y="572.6" width="2" height="6.4" fill="rgba(239,83,80,0.89)"/>
<rect x="1583" y="555.5" width="2" height="16.1" fill="rgba(239,83,80,0.82)"/>
<path d="M1582 554.5h4v18.1h-4z M1583 555.5v16.1h2v-16.1z" fill="rgba(239,83,80,0.89)" fill-rule="evenodd"/>
<rect x="1587" y="566.2" width="2" height="3.0" fill="rgba(38,166,154,0.90)"/>
<rect x="1587" y="570.7" width="2" height="21.1" fill="rgba(38,166,154,0.90)"/>
<rect x="1586" y="569.2" width="4" height="1.5" fill="rgba(38,166,154,0.90)"/>
<rect x="1592" y="563.0" width="2" height="6.2" fill="rgba(38,166,154,0.90)"/>
<rect x="1592" y="570.7" width="2" height="11.0" fill="rgba(38,166,154,0.90)"/>
<rect x="1591" y="569.2" width="4" height="1.5" fill="rgba(38,166,154,0.90)"/>
<rect x="1597" y="531.0" width="2" height="6.9" fill="rgba(38,166,154,0.90)"/>
<rect x="1597" y="538.9" width="2" height="30.0" fill="rgba(38,166,154,0.84)"/>
<path d="M1596 537.9h4v32.0h-4z M1597 538.9v30.0h2v-30.0z" fill="rgba(38,166,154,0.90)" fill-rule="evenodd"/>
<rect x="1601" y="532.0" width="2" height="4.3" fill="rgba(239,83,80,0.89)"/>
<rect x="1601" y="542.7" width="2" height="4.3" fill="rgba(239,83,80,0.89)"/>
<rect x="1601" y="537.3" width="2" height="4.4" fill="rgba(239,83,80,0.82)"/>
<path d="M1600 536.3h4v6.4h-4z M1601 537.3v4.4h2v-4.4z" fill="rgba(239,83,80,0.89)" fill-rule="evenodd"/>
<rect x="1606" y="536.0" width="2" height="6.2" fill="rgba(239,83,80,0.89)"/>
<rect x="1606" y="545.4" width="2" height="2.6" fill="rgba(239,83,80,0.89)"/>
<rect x="1606" y="543.2" width="2" height="1.2" fill="rgba(239,83,80,0.82)"/>
<path d="M1605 542.2h4v3.2h-4z M1606 543.2v1.2h2v-1.2z" fill="rgba(239,83,80,0.89)" fill-rule="evenodd"/>
<rect x="1610" y="527.0" width="2" height="10.0" fill="rgba(38,166,154,0.90)"/>
<rect x="1610" y="538.0" width="2" height="3.5" fill="rgba(38,166,154,0.84)"/>
<path d="M1609 537.0h4v5.5h-4z M1610 538.0v3.5h2v-3.5z" fill="rgba(38,166,154,0.90)" fill-rule="evenodd"/>
<rect x="1615" y="528.0" width="2" height="7.9" fill="rgba(239,83,80,0.89)"/>
<rect x="1615" y="536.9" width="2" height="7.4" fill="rgba(239,83,80,0.82)"/>
<path d="M1614 535.9h4v9.4h-4z M1615 536.9v7.4h2v-7.4z" fill="rgba(239,83,80,0.89)" fill-rule="evenodd"/>
<rect x="1619" y="543.2" width="2" height="5.7" fill="rgba(239,83,80,0.89)"/>
<rect x="1619" y="549.9" width="2" height="12.5" fill="rgba(239,83,80,0.82)"/>
<path d="M1618 548.9h4v14.5h-4z M1619 549.9v12.5h2v-12.5z" fill="rgba(239,83,80,0.89)" fill-rule="evenodd"/>
<rect x="1624" y="558.3" width="2" height="0.5" fill="rgba(239,83,80,0.89)"/>
<rect x="1624" y="572.1" width="2" height="0.7" fill="rgba(239,83,80,0.89)"/>
<rect x="1624" y="559.8" width="2" height="11.3" fill="rgba(239,83,80,0.82)"/>
<path d="M1623 558.8h4v13.3h-4z M1624 559.8v11.3h2v-11.3z" fill="rgba(239,83,80,0.89)" fill-rule="evenodd"/>
<rect x="1628" y="567.0" width="2" height="3.7" fill="rgba(239,83,80,0.89)"/>
<rect x="1628" y="606.8" width="2" height="9.9" fill="rgba(239,83,80,0.89)"/>
<rect x="1628" y="571.7" width="2" height="34.1" fill="rgba(239,83,80,0.82)"/>
<path d="M1627 570.7h4v36.1h-4z M1628 571.7v34.1h2v-34.1z" fill="rgba(239,83,80,0.89)" fill-rule="evenodd"/>
<rect x="1633" y="606.1" width="2" height="1.5" fill="rgba(239,83,80,0.89)"/>
<rect x="1633" y="633.6" width="2" height="8.0" fill="rgba(239,83,80,0.89)"/>
<rect x="1633" y="608.6" width="2" height="24.0" fill="rgba(239,83,80,0.82)"/>
<path d="M1632 607.6h4v26.0h-4z M1633 608.6v24.0h2v-24.0z" fill="rgba(239,83,80,0.89)" fill-rule="evenodd"/>
<rect x="1638" y="618.1" width="2" height="3.9" fill="rgba(38,166,154,0.90)"/>
<rect x="1638" y="633.6" width="2" height="7.2" fill="rgba(38,166,154,0.90)"/>
<rect x="1638" y="623.0" width="2" height="9.6" fill="rgba(38,166,154,0.84)"/>
<path d="M1637 622.0h4v11.6h-4z M1638 623.0v9.6h2v-9.6z" fill="rgba(38,166,154,0.90)" fill-rule="evenodd"/>
<rect x="1642" y="623.0" width="2" height="1.2" fill="rgba(239,83,80,0.89)"/>
<rect x="1642" y="625.2" width="2" height="52.3" fill="rgba(239,83,80,0.82)"/>
<path d="M1641 624.2h4v54.3h-4z M1642 625.2v52.3h2v-52.3z" fill="rgba(239,83,80,0.89)" fill-rule="evenodd"/>
<rect x="1647" y="654.9" width="2" height="6.2" fill="rgba(38,166,154,0.90)"/>
<rect x="1647" y="678.5" width="2" height="28.2" fill="rgba(38,166,154,0.90)"/>
<rect x="1647" y="662.1" width="2" height="15.4" fill="rgba(38,166,154,0.84)"/>
<path d="M1646 661.1h4v17.4h-4z M1647 662.1v15.4h2v-15.4z" fill="rgba(38,166,154,0.90)" fill-rule="evenodd"/>
<rect x="1651" y="634.3" width="2" height="0.7" fill="rgba(38,166,154,0.90)"/>
<rect x="1651" y="661.8" width="2" height="3.6" fill="rgba(38,166,154,0.90)"/>
<rect x="1651" y="636.0" width="2" height="24.8" fill="rgba(38,166,154,0.84)"/>
<path d="M1650 635.0h4v26.8h-4z M1651 636.0v24.8h2v-24.8z" fill="rgba(38,166,154,0.90)" fill-rule="evenodd"/>
<rect x="1656" y="613.8" width="2" height="1.7" fill="rgba(38,166,154,0.90)"/>
<rect x="1656" y="635.8" width="2" height="10.8" fill="rgba(38,166,154,0.90)"/>
<rect x="1656" y="616.5" width="2" height="18.3" fill="rgba(38,166,154,0.84)"/>
<path d="M1655 615.5h4v20.3h-4z M1656 616.5v18.3h2v-18.3z" fill="rgba(38,166,154,0.90)" fill-rule="evenodd"/>
<rect x="1660" y="598.1" width="2" height="4.4" fill="rgba(38,166,154,0.90)"/>
<rect x="1660" y="603.5" width="2" height="11.7" fill="rgba(38,166,154,0.84)"/>
<path d="M1659 602.5h4v13.7h-4z M1660 603.5v11.7h2v-11.7z" fill="rgba(38,166,154,0.90)" fill-rule="evenodd"/>
<rect x="1665" y="593.1" width="2" height="2.2" fill="rgba(38,166,154,0.90)"/>
<rect x="1665" y="602.5" width="2" height="10.1" fill="rgba(38,166,154,0.90)"/>
<rect x="1665" y="596.3" width="2" height="5.2" fill="rgba(38,166,154,0.84)"/>
<path d="M1664 595.3h4v7.2h-4z M1665 596.3v5.2h2v-5.2z" fill="rgba(38,166,154,0.90)" fill-rule="evenodd"/>
<rect x="1670" y="583.7" width="2" height="0.7" fill="rgba(38,166,154,0.90)"/>
<rect x="1670" y="594.5" width="2" height="4.4" fill="rgba(38,166,154,0.90)"/>
<rect x="1670" y="585.4" width="2" height="8.1" fill="rgba(38,166,154,0.84)"/>
<path d="M1669 584.4h4v10.1h-4z M1670 585.4v8.1h2v-8.1z" fill="rgba(38,166,154,0.90)" fill-rule="evenodd"/>
<rect x="1674" y="577.2" width="2" height="9.1" fill="rgba(239,83,80,0.89)"/>
<rect x="1674" y="616.7" width="2" height="3.9" fill="rgba(239,83,80,0.89)"/>
<rect x="1674" y="587.3" width="2" height="28.4" fill="rgba(239,83,80,0.82)"/>
<path d="M1673 586.3h4v30.4h-4z M1674 587.3v28.4h2v-28.4z" fill="rgba(239,83,80,0.89)" fill-rule="evenodd"/>
<rect x="1679" y="640.8" width="2" height="5.8" fill="rgba(239,83,80,0.89)"/>
<rect x="1679" y="618.3" width="2" height="21.5" fill="rgba(239,83,80,0.82)"/>
<path d="M1678 617.3h4v23.5h-4z M1679 618.3v21.5h2v-21.5z" fill="rgba(239,83,80,0.89)" fill-rule="evenodd"/>
<rect x="1683" y="623.9" width="2" height="4.6" fill="rgba(38,166,154,0.90)"/>
<rect x="1683" y="639.4" width="2" height="7.2" fill="rgba(38,166,154,0.90)"/>
<rect x="1683" y="629.5" width="2" height="8.9" fill="rgba(38,166,154,0.84)"/>
<path d="M1682 628.5h4v10.9h-4z M1683 629.5v8.9h2v-8.9z" fill="rgba(38,166,154,0.90)" fill-rule="evenodd"/>
<rect x="1688" y="626.4" width="2" height="3.6" fill="rgba(239,83,80,0.89)"/>
<rect x="1688" y="631.0" width="2" height="31.6" fill="rgba(239,83,80,0.82)"/>
<path d="M1687 630.0h4v33.6h-4z M1688 631.0v31.6h2v-31.6z" fill="rgba(239,83,80,0.89)" fill-rule="evenodd"/>
<rect x="1692" y="652.0" width="2" height="7.5" fill="rgba(38,166,154,0.90)"/>
<rect x="1692" y="662.6" width="2" height="5.9" fill="rgba(38,166,154,0.90)"/>
<rect x="1692" y="660.5" width="2" height="1.1" fill="rgba(38,166,154,0.84)"/>
<path d="M1691 659.5h4v3.1h-4z M1692 660.5v1.1h2v-1.1z" fill="rgba(38,166,154,0.90)" fill-rule="evenodd"/>
<rect x="1697" y="650.1" width="2" height="9.0" fill="rgba(239,83,80,0.89)"/>
<rect x="1697" y="664.6" width="2" height="5.2" fill="rgba(239,83,80,0.89)"/>
<rect x="1697" y="660.1" width="2" height="3.5" fill="rgba(239,83,80,0.82)"/>
<path d="M1696 659.1h4v5.5h-4z M1697 660.1v3.5h2v-3.5z" fill="rgba(239,83,80,0.89)" fill-rule="evenodd"/>
<rect x="1702" y="659.3" width="2" height="5.7" fill="rgba(239,83,80,0.89)"/>
<rect x="1702" y="672.9" width="2" height="17.7" fill="rgba(239,83,80,0.89)"/>
<rect x="1702" y="666.0" width="2" height="5.9" fill="rgba(239,83,80,0.82)"/>
<path d="M1701 665.0h4v7.9h-4z M1702 666.0v5.9h2v-5.9z" fill="rgba(239,83,80,0.89)" fill-rule="evenodd"/>
<rect x="1706" y="632.1" width="2" height="9.1" fill="rgba(38,166,154,0.90)"/>
<rect x="1706" y="672.9" width="2" height="1.0" fill="rgba(38,166,154,0.90)"/>
<rect x="1706" y="642.2" width="2" height="29.7" fill="rgba(38,166,154,0.84)"/>
<path d="M1705 641.2h4v31.7h-4z M1706 642.2v29.7h2v-29.7z" fill="rgba(38,166,154,0.90)" fill-rule="evenodd"/>
<rect x="1711" y="631.2" width="2" height="11.8" fill="rgba(239,83,80,0.89)"/>
<rect x="1711" y="647.1" width="2" height="3.6" fill="rgba(239,83,80,0.89)"/>
<rect x="1711" y="644.0" width="2" height="2.1" fill="rgba(239,83,80,0.82)"/>
<path d="M1710 643.0h4v4.1h-4z M1711 644.0v2.1h2v-2.1z" fill="rgba(239,83,80,0.89)" fill-rule="evenodd"/>
<rect x="1715" y="608.0" width="2" height="8.2" fill="rgba(38,166,154,0.90)"/>
<rect x="1715" y="617.2" width="2" height="24.5" fill="rgba(38,166,154,0.84)"/>
<path d="M1714 616.2h4v26.5h-4z M1715 617.2v24.5h2v-24.5z" fill="rgba(38,166,154,0.90)" fill-rule="evenodd"/>
<rect x="1720" y="608.9" width="2" height="7.3" fill="rgba(239,83,80,0.89)"/>
<rect x="1720" y="617.2" width="2" height="16.3" fill="rgba(239,83,80,0.82)"/>
<path d="M1719 616.2h4v18.3h-4z M1720 617.2v16.3h2v-16.3z" fill="rgba(239,83,80,0.89)" fill-rule="evenodd"/>
<rect x="1724" y="632.1" width="2" height="1.8" fill="rgba(239,83,80,0.89)"/>
<rect x="1724" y="642.7" width="2" height="14.1" fill="rgba(239,83,80,0.89)"/>
<rect x="1724" y="634.9" width="2" height="6.8" fill="rgba(239,83,80,0.82)"/>
<path d="M1723 633.9h4v8.8h-4z M1724 634.9v6.8h2v-6.8z" fill="rgba(239,83,80,0.89)" fill-rule="evenodd"/>
<rect x="1729" y="635.1" width="2" height="8.6" fill="rgba(239,83,80,0.89)"/>
<rect x="1729" y="654.6" width="2" height="6.1" fill="rgba(239,83,80,0.89)"/>
<rect x="1729" y="644.7" width="2" height="8.9" fill="rgba(239,83,80,0.82)"/>
<path d="M1728 643.7h4v10.9h-4z M1729 644.7v8.9h2v-8.9z" fill="rgba(239,83,80,0.89)" fill-rule="evenodd"/>
<rect x="1734" y="635.1" width="2" height="6.1" fill="rgba(38,166,154,0.90)"/>
<rect x="1734" y="656.8" width="2" height="6.1" fill="rgba(38,166,154,0.90)"/>
<rect x="1734" y="642.2" width="2" height="13.6" fill="rgba(38,166,154,0.84)"/>
<path d="M1733 641.2h4v15.6h-4z M1734 642.2v13.6h2v-13.6z" fill="rgba(38,166,154,0.90)" fill-rule="evenodd"/>
<rect x="1738" y="641.2" width="2" height="0.6" fill="rgba(239,83,80,0.89)"/>
<rect x="1738" y="678.4" width="2" height="6.5" fill="rgba(239,83,80,0.89)"/>
<rect x="1738" y="642.8" width="2" height="34.6" fill="rgba(239,83,80,0.82)"/>
<path d="M1737 641.8h4v36.6h-4z M1738 642.8v34.6h2v-34.6z" fill="rgba(239,83,80,0.89)" fill-rule="evenodd"/>
<rect x="1743" y="661.0" width="2" height="10.1" fill="rgba(38,166,154,0.90)"/>
<rect x="1743" y="679.6" width="2" height="9.2" fill="rgba(38,166,154,0.90)"/>
<rect x="1743" y="672.1" width="2" height="6.5" fill="rgba(38,166,154,0.84)"/>
<path d="M1742 671.1h4v8.5h-4z M1743 672.1v6.5h2v-6.5z" fill="rgba(38,166,154,0.90)" fill-rule="evenodd"/>
<rect x="1747" y="665.0" width="2" height="3.0" fill="rgba(38,166,154,0.90)"/>
<rect x="1747" y="672.9" width="2" height="17.1" fill="rgba(38,166,154,0.90)"/>
<rect x="1747" y="669.0" width="2" height="2.9" fill="rgba(38,166,154,0.84)"/>
<path d="M1746 668.0h4v4.9h-4z M1747 669.0v2.9h2v-2.9z" fill="rgba(38,166,154,0.90)" fill-rule="evenodd"/>
<rect x="1752" y="657.1" width="2" height="6.7" fill="rgba(239,83,80,0.89)"/>
<rect x="1752" y="665.6" width="2" height="6.1" fill="rgba(239,83,80,0.89)"/>
<rect x="1751" y="663.8" width="4" height="1.8" fill="rgba(239,83,80,0.89)"/>
<rect x="1756" y="664.1" width="2" height="2.7" fill="rgba(38,166,154,0.90)"/>
<rect x="1756" y="668.7" width="2" height="4.2" fill="rgba(38,166,154,0.90)"/>
<rect x="1755" y="666.8" width="4" height="1.9" fill="rgba(38,166,154,0.90)"/>
<rect x="1761" y="654.0" width="2" height="4.0" fill="rgba(38,166,154,0.90)"/>
<rect x="1761" y="668.0" width="2" height="4.9" fill="rgba(38,166,154,0.90)"/>
<rect x="1761" y="659.0" width="2" height="8.0" fill="rgba(38,166,154,0.84)"/>
<path d="M1760 658.0h4v10.0h-4z M1761 659.0v8.0h2v-8.0z" fill="rgba(38,166,154,0.90)" fill-rule="evenodd"/>
<rect x="1766" y="656.1" width="2" height="2.8" fill="rgba(239,83,80,0.89)"/>
<rect x="1766" y="664.6" width="2" height="14.4" fill="rgba(239,83,80,0.89)"/>
<rect x="1766" y="659.9" width="2" height="3.7" fill="rgba(239,83,80,0.82)"/>
<path d="M1765 658.9h4v5.7h-4z M1766 659.9v3.7h2v-3.7z" fill="rgba(239,83,80,0.89)" fill-rule="evenodd"/>
<rect x="1770" y="661.0" width="2" height="1.6" fill="rgba(239,83,80,0.89)"/>
<rect x="1770" y="671.7" width="2" height="9.2" fill="rgba(239,83,80,0.89)"/>
<rect x="1770" y="663.6" width="2" height="7.1" fill="rgba(239,83,80,0.82)"/>
<path d="M1769 662.6h4v9.1h-4z M1770 663.6v7.1h2v-7.1z" fill="rgba(239,83,80,0.89)" fill-rule="evenodd"/>
<rect x="1775" y="671.1" width="2" height="0.6" fill="rgba(239,83,80,0.89)"/>
<rect x="1775" y="683.9" width="2" height="14.0" fill="rgba(239,83,80,0.89)"/>
<rect x="1775" y="672.7" width="2" height="10.2" fill="rgba(239,83,80,0.82)"/>
<path d="M1774 671.7h4v12.2h-4z M1775 672.7v10.2h2v-10.2z" fill="rgba(239,83,80,0.89)" fill-rule="evenodd"/>
<rect x="1779" y="680.9" width="2" height="1.2" fill="rgba(239,83,80,0.89)"/>
<rect x="1779" y="710.1" width="2" height="20.8" fill="rgba(239,83,80,0.89)"/>
<rect x="1779" y="683.1" width="2" height="26.0" fill="rgba(239,83,80,0.82)"/>
<path d="M1778 682.1h4v28.0h-4z M1779 683.1v26.0h2v-26.0z" fill="rgba(239,83,80,0.89)" fill-rule="evenodd"/>
<rect x="1784" y="677.8" width="2" height="32.3" fill="rgba(239,83,80,0.89)"/>
<rect x="1784" y="730.9" width="2" height="7.3" fill="rgba(239,83,80,0.89)"/>
<rect x="1784" y="711.1" width="2" height="18.8" fill="rgba(239,83,80,0.82)"/>
<path d="M1783 710.1h4v20.8h-4z M1784 711.1v18.8h2v-18.8z" fill="rgba(239,83,80,0.89)" fill-rule="evenodd"/>
<rect x="1788" y="646.8" width="2" height="16.0" fill="rgba(38,166,154,0.90)"/>
<rect x="1788" y="732.2" width="2" height="9.9" fill="rgba(38,166,154,0.90)"/>
<rect x="1788" y="663.8" width="2" height="67.4" fill="rgba(38,166,154,0.84)"/>
<path d="M1787 662.8h4v69.4h-4z M1788 663.8v67.4h2v-67.4z" fill="rgba(38,166,154,0.90)" fill-rule="evenodd"/>
<rect x="1793" y="611.7" width="2" height="15.3" fill="rgba(38,166,154,0.90)"/>
<rect x="1793" y="662.8" width="2" height="19.1" fill="rgba(38,166,154,0.90)"/>
<rect x="1793" y="628.0" width="2" height="33.8" fill="rgba(38,166,154,0.84)"/>
<path d="M1792 627.0h4v35.8h-4z M1793 628.0v33.8h2v-33.8z" fill="rgba(38,166,154,0.90)" fill-rule="evenodd"/>
<rect x="1798" y="588.1" width="2" height="6.1" fill="rgba(38,166,154,0.90)"/>
<rect x="1798" y="627.7" width="2" height="3.1" fill="rgba(38,166,154,0.90)"/>
<rect x="1798" y="595.2" width="2" height="31.5" fill="rgba(38,166,154,0.84)"/>
<path d="M1797 594.2h4v33.5h-4z M1798 595.2v31.5h2v-31.5z" fill="rgba(38,166,154,0.90)" fill-rule="evenodd"/>
<rect x="1802" y="585.1" width="2" height="12.9" fill="rgba(239,83,80,0.89)"/>
<rect x="1802" y="609.5" width="2" height="20.5" fill="rgba(239,83,80,0.89)"/>
<rect x="1802" y="599.0" width="2" height="9.5" fill="rgba(239,83,80,0.82)"/>
<path d="M1801 598.0h4v11.5h-4z M1802 599.0v9.5h2v-9.5z" fill="rgba(239,83,80,0.89)" fill-rule="evenodd"/>
<rect x="1807" y="569.8" width="2" height="2.3" fill="rgba(38,166,154,0.90)"/>
<rect x="1807" y="609.5" width="2" height="21.3" fill="rgba(38,166,154,0.90)"/>
<rect x="1807" y="573.1" width="2" height="35.4" fill="rgba(38,166,154,0.84)"/>
<path d="M1806 572.1h4v37.4h-4z M1807 573.1v35.4h2v-35.4z" fill="rgba(38,166,154,0.90)" fill-rule="evenodd"/>
</g>
<g clip-path="url(#cp2)" shape-rendering="crispEdges">
<rect x="20" y="1113.3" width="2" height="0.9" fill="rgba(140,140,140,0.92)"/>
<rect x="20" y="1115.7" width="2" height="2.2" fill="rgba(140,140,140,0.92)"/>
<rect x="19" y="1114.2" width="4" height="1.5" fill="rgba(38,166,154,0.90)"/>
<rect x="25" y="1120.0" width="2" height="1.1" fill="rgba(140,140,140,0.92)"/>
<rect x="25" y="1122.6" width="2" height="1.1" fill="rgba(140,140,140,0.92)"/>
<rect x="24" y="1121.1" width="4" height="1.5" fill="rgba(38,166,154,0.90)"/>
<rect x="28" y="1122.2" width="4" height="1.5" fill="rgba(38,166,154,0.90)"/>
<rect x="34" y="1114.2" width="2" height="1.0" fill="rgba(140,140,140,0.92)"/>
<rect x="34" y="1116.8" width="2" height="2.0" fill="rgba(140,140,140,0.92)"/>
<rect x="33" y="1115.2" width="4" height="1.5" fill="rgba(38,166,154,0.90)"/>
<rect x="38" y="1118.3" width="2" height="1.6" fill="rgba(239,83,80,0.82)"/>
<path d="M37 1117.3h4v3.6h-4z M38 1118.3v1.6h2v-1.6z" fill="rgba(239,83,80,0.89)" fill-rule="evenodd"/>
<rect x="42" y="1122.1" width="4" height="1.6" fill="rgba(38,166,154,0.90)"/>
<rect x="48" y="1124.9" width="2" height="0.9" fill="rgba(140,140,140,0.92)"/>
<rect x="47" y="1123.2" width="4" height="1.7" fill="rgba(239,83,80,0.89)"/>
<rect x="52" y="1115.1" width="2" height="0.9" fill="rgba(140,140,140,0.92)"/>
<rect x="52" y="1117.0" width="2" height="2.9" fill="rgba(38,166,154,0.84)"/>
<path d="M51 1116.0h4v4.9h-4z M52 1117.0v2.9h2v-2.9z" fill="rgba(38,166,154,0.90)" fill-rule="evenodd"/>
<rect x="57" y="1113.0" width="2" height="2.1" fill="rgba(140,140,140,0.92)"/>
<rect x="57" y="1118.8" width="2" height="1.1" fill="rgba(140,140,140,0.92)"/>
<rect x="57" y="1116.1" width="2" height="1.7" fill="rgba(38,166,154,0.84)"/>
<path d="M56 1115.1h4v3.7h-4z M57 1116.1v1.7h2v-1.7z" fill="rgba(38,166,154,0.90)" fill-rule="evenodd"/>
<rect x="61" y="1107.1" width="2" height="1.0" fill="rgba(140,140,140,0.92)"/>
<rect x="61" y="1109.1" width="2" height="2.6" fill="rgba(38,166,154,0.84)"/>
<path d="M60 1108.1h4v4.6h-4z M61 1109.1v2.6h2v-2.6z" fill="rgba(38,166,154,0.90)" fill-rule="evenodd"/>
<rect x="66" y="1109.8" width="2" height="1.2" fill="rgba(140,140,140,0.92)"/>
<rect x="65" y="1108.2" width="4" height="1.5" fill="rgba(38,166,154,0.90)"/>
<rect x="70" y="1165.7" width="2" height="0.5" fill="rgba(140,140,140,0.92)"/>
<rect x="70" y="1167.7" width="2" height="1.1" fill="rgba(140,140,140,0.92)"/>
<rect x="69" y="1166.2" width="4" height="1.5" fill="rgba(38,166,154,0.90)"/>
<rect x="75" y="1111.2" width="2" height="0.9" fill="rgba(140,140,140,0.92)"/>
<rect x="75" y="1113.6" width="2" height="3.4" fill="rgba(140,140,140,0.92)"/>
<rect x="74" y="1112.1" width="4" height="1.5" fill="rgba(38,166,154,0.90)"/>
<rect x="79" y="1106.1" width="4" height="1.7" fill="rgba(239,83,80,0.89)"/>
<rect x="83" y="1103.0" width="4" height="1.8" fill="rgba(38,166,154,0.90)"/>
<rect x="88" y="1104.0" width="4" height="1.9" fill="rgba(38,166,154,0.90)"/>
<rect x="93" y="1106.3" width="2" height="0.6" fill="rgba(140,140,140,0.92)"/>
<rect x="93" y="1108.7" width="2" height="0.9" fill="rgba(140,140,140,0.92)"/>
<rect x="92" y="1106.9" width="4" height="1.8" fill="rgba(38,166,154,0.90)"/>
<rect x="98" y="1109.0" width="2" height="2.0" fill="rgba(140,140,140,0.92)"/>
<rect x="98" y="1113.6" width="2" height="1.2" fill="rgba(140,140,140,0.92)"/>
<rect x="97" y="1111.0" width="4" height="2.6" fill="rgba(239,83,80,0.89)"/>
<rect x="102" y="1106.9" width="2" height="4.3" fill="rgba(140,140,140,0.92)"/>
<rect x="102" y="1123.7" width="2" height="3.0" fill="rgba(140,140,140,0.92)"/>
<rect x="102" y="1112.2" width="2" height="10.5" fill="rgba(239,83,80,0.82)"/>
<path d="M101 1111.2h4v12.5h-4z M102 1112.2v10.5h2v-10.5z" fill="rgba(239,83,80,0.89)" fill-rule="evenodd"/>
<rect x="106" y="1122.1" width="4" height="1.7" fill="rgba(38,166,154,0.90)"/>
<rect x="112" y="1129.1" width="2" height="1.0" fill="rgba(140,140,140,0.92)"/>
<rect x="112" y="1142.0" width="2" height="1.8" fill="rgba(140,140,140,0.92)"/>
<rect x="112" y="1131.1" width="2" height="9.9" fill="rgba(239,83,80,0.82)"/>
<path d="M111 1130.1h4v11.9h-4z M112 1131.1v9.9h2v-9.9z" fill="rgba(239,83,80,0.89)" fill-rule="evenodd"/>
<rect x="116" y="1135.2" width="2" height="1.1" fill="rgba(140,140,140,0.92)"/>
<rect x="116" y="1138.0" width="2" height="0.6" fill="rgba(140,140,140,0.92)"/>
<rect x="115" y="1136.3" width="4" height="1.7" fill="rgba(239,83,80,0.89)"/>
<rect x="121" y="1136.2" width="2" height="0.9" fill="rgba(140,140,140,0.92)"/>
<rect x="121" y="1138.1" width="2" height="1.6" fill="rgba(38,166,154,0.84)"/>
<path d="M120 1137.1h4v3.6h-4z M121 1138.1v1.6h2v-1.6z" fill="rgba(38,166,154,0.90)" fill-rule="evenodd"/>
<rect x="124" y="1133.1" width="4" height="1.5" fill="rgba(239,83,80,0.89)"/>
<rect x="130" y="1124.1" width="2" height="2.0" fill="rgba(140,140,140,0.92)"/>
<rect x="130" y="1129.9" width="2" height="1.0" fill="rgba(140,140,140,0.92)"/>
<rect x="130" y="1127.1" width="2" height="1.8" fill="rgba(38,166,154,0.84)"/>
<path d="M129 1126.1h4v3.8h-4z M130 1127.1v1.8h2v-1.8z" fill="rgba(38,166,154,0.90)" fill-rule="evenodd"/>
<rect x="134" y="1121.1" width="2" height="1.0" fill="rgba(140,140,140,0.92)"/>
<rect x="133" y="1122.1" width="4" height="1.7" fill="rgba(239,83,80,0.89)"/>
<rect x="138" y="1124.3" width="4" height="1.5" fill="rgba(239,83,80,0.89)"/>
<rect x="143" y="1124.3" width="4" height="1.5" fill="rgba(239,83,80,0.89)"/>
<rect x="148" y="1124.2" width="2" height="1.6" fill="rgba(239,83,80,0.82)"/>
<path d="M147 1123.2h4v3.6h-4z M148 1124.2v1.6h2v-1.6z" fill="rgba(239,83,80,0.89)" fill-rule="evenodd"/>
<rect x="152" y="1125.2" width="4" height="1.5" fill="rgba(38,166,154,0.90)"/>
<rect x="156" y="1129.3" width="4" height="1.6" fill="rgba(239,83,80,0.89)"/>
<rect x="161" y="1128.2" width="4" height="2.7" fill="rgba(239,83,80,0.89)"/>
<rect x="166" y="1133.1" width="2" height="0.9" fill="rgba(140,140,140,0.92)"/>
<rect x="166" y="1135.0" width="2" height="2.8" fill="rgba(239,83,80,0.82)"/>
<path d="M165 1134.0h4v4.8h-4z M166 1135.0v2.8h2v-2.8z" fill="rgba(239,83,80,0.89)" fill-rule="evenodd"/>
<rect x="170" y="1133.1" width="4" height="1.5" fill="rgba(239,83,80,0.89)"/>
<rect x="175" y="1138.2" width="4" height="1.6" fill="rgba(239,83,80,0.89)"/>
<rect x="179" y="1138.2" width="4" height="1.6" fill="rgba(239,83,80,0.89)"/>
<rect x="185" y="1131.1" width="2" height="2.9" fill="rgba(140,140,140,0.92)"/>
<rect x="185" y="1138.8" width="2" height="5.0" fill="rgba(140,140,140,0.92)"/>
<rect x="185" y="1135.0" width="2" height="2.8" fill="rgba(239,83,80,0.82)"/>
<path d="M184 1134.0h4v4.8h-4z M185 1135.0v2.8h2v-2.8z" fill="rgba(239,83,80,0.89)" fill-rule="evenodd"/>
<rect x="189" y="1134.0" width="2" height="0.9" fill="rgba(140,140,140,0.92)"/>
<rect x="189" y="1136.8" width="2" height="1.8" fill="rgba(140,140,140,0.92)"/>
<rect x="188" y="1134.9" width="4" height="1.9" fill="rgba(38,166,154,0.90)"/>
<rect x="194" y="1135.1" width="2" height="0.9" fill="rgba(140,140,140,0.92)"/>
<rect x="194" y="1137.7" width="2" height="1.1" fill="rgba(140,140,140,0.92)"/>
<rect x="193" y="1136.0" width="4" height="1.7" fill="rgba(38,166,154,0.90)"/>
<rect x="198" y="1125.0" width="2" height="1.0" fill="rgba(140,140,140,0.92)"/>
<rect x="198" y="1127.9" width="2" height="0.9" fill="rgba(140,140,140,0.92)"/>
<rect x="197" y="1126.0" width="4" height="1.9" fill="rgba(38,166,154,0.90)"/>
<rect x="203" y="1094.1" width="2" height="16.9" fill="rgba(140,140,140,0.92)"/>
<rect x="203" y="1115.9" width="2" height="22.9" fill="rgba(140,140,140,0.92)"/>
<rect x="203" y="1112.0" width="2" height="2.9" fill="rgba(239,83,80,0.82)"/>
<path d="M202 1111.0h4v4.9h-4z M203 1112.0v2.9h2v-2.9z" fill="rgba(239,83,80,0.89)" fill-rule="evenodd"/>
<rect x="207" y="1109.0" width="2" height="0.7" fill="rgba(140,140,140,0.92)"/>
<rect x="207" y="1110.7" width="2" height="6.2" fill="rgba(38,166,154,0.84)"/>
<path d="M206 1109.7h4v8.2h-4z M207 1110.7v6.2h2v-6.2z" fill="rgba(38,166,154,0.90)" fill-rule="evenodd"/>
<rect x="212" y="1085.0" width="2" height="0.6" fill="rgba(140,140,140,0.92)"/>
<rect x="212" y="1086.6" width="2" height="15.1" fill="rgba(38,166,154,0.84)"/>
<path d="M211 1085.6h4v17.1h-4z M212 1086.6v15.1h2v-15.1z" fill="rgba(38,166,154,0.90)" fill-rule="evenodd"/>
<rect x="217" y="1052.1" width="2" height="11.6" fill="rgba(140,140,140,0.92)"/>
<rect x="217" y="1071.0" width="2" height="12.8" fill="rgba(140,140,140,0.92)"/>
<rect x="217" y="1064.7" width="2" height="5.3" fill="rgba(38,166,154,0.84)"/>
<path d="M216 1063.7h4v7.3h-4z M217 1064.7v5.3h2v-5.3z" fill="rgba(38,166,154,0.90)" fill-rule="evenodd"/>
<rect x="221" y="1002.1" width="2" height="6.1" fill="rgba(140,140,140,0.92)"/>
<rect x="221" y="1041.1" width="2" height="7.9" fill="rgba(140,140,140,0.92)"/>
<rect x="221" y="1009.2" width="2" height="30.9" fill="rgba(38,166,154,0.84)"/>
<path d="M220 1008.2h4v32.9h-4z M221 1009.2v30.9h2v-30.9z" fill="rgba(38,166,154,0.90)" fill-rule="evenodd"/>
<rect x="226" y="991.1" width="2" height="3.0" fill="rgba(140,140,140,0.92)"/>
<rect x="226" y="995.1" width="2" height="11.7" fill="rgba(38,166,154,0.84)"/>
<path d="M225 994.1h4v13.7h-4z M226 995.1v11.7h2v-11.7z" fill="rgba(38,166,154,0.90)" fill-rule="evenodd"/>
<rect x="230" y="977.1" width="2" height="7.0" fill="rgba(140,140,140,0.92)"/>
<rect x="230" y="993.9" width="2" height="8.2" fill="rgba(140,140,140,0.92)"/>
<rect x="230" y="985.1" width="2" height="7.8" fill="rgba(239,83,80,0.82)"/>
<path d="M229 984.1h4v9.8h-4z M230 985.1v7.8h2v-7.8z" fill="rgba(239,83,80,0.89)" fill-rule="evenodd"/>
<rect x="235" y="998.0" width="2" height="4.1" fill="rgba(140,140,140,0.92)"/>
<rect x="235" y="1003.9" width="2" height="6.1" fill="rgba(140,140,140,0.92)"/>
<rect x="234" y="1002.1" width="4" height="1.8" fill="rgba(239,83,80,0.89)"/>
<rect x="239" y="997.2" width="2" height="11.0" fill="rgba(140,140,140,0.92)"/>
<rect x="239" y="1011.8" width="2" height="3.1" fill="rgba(140,140,140,0.92)"/>
<rect x="239" y="1009.2" width="2" height="1.6" fill="rgba(239,83,80,0.82)"/>
<path d="M238 1008.2h4v3.6h-4z M239 1009.2v1.6h2v-1.6z" fill="rgba(239,83,80,0.89)" fill-rule="evenodd"/>
<rect x="244" y="1015.1" width="2" height="2.2" fill="rgba(140,140,140,0.92)"/>
<rect x="244" y="1018.3" width="2" height="2.7" fill="rgba(239,83,80,0.82)"/>
<path d="M243 1017.3h4v4.7h-4z M244 1018.3v2.7h2v-2.7z" fill="rgba(239,83,80,0.89)" fill-rule="evenodd"/>
<rect x="249" y="1010.0" width="2" height="1.0" fill="rgba(140,140,140,0.92)"/>
<rect x="249" y="1012.7" width="2" height="2.2" fill="rgba(140,140,140,0.92)"/>
<rect x="248" y="1011.0" width="4" height="1.7" fill="rgba(38,166,154,0.90)"/>
<rect x="253" y="1003.3" width="2" height="3.7" fill="rgba(140,140,140,0.92)"/>
<rect x="253" y="1011.8" width="2" height="0.6" fill="rgba(140,140,140,0.92)"/>
<rect x="253" y="1008.0" width="2" height="2.8" fill="rgba(239,83,80,0.82)"/>
<path d="M252 1007.0h4v4.8h-4z M253 1008.0v2.8h2v-2.8z" fill="rgba(239,83,80,0.89)" fill-rule="evenodd"/>
<rect x="258" y="1004.1" width="2" height="8.1" fill="rgba(140,140,140,0.92)"/>
<rect x="258" y="1017.9" width="2" height="4.9" fill="rgba(140,140,140,0.92)"/>
<rect x="258" y="1013.2" width="2" height="3.7" fill="rgba(239,83,80,0.82)"/>
<path d="M257 1012.2h4v5.7h-4z M258 1013.2v3.7h2v-3.7z" fill="rgba(239,83,80,0.89)" fill-rule="evenodd"/>
<rect x="262" y="1016.1" width="2" height="2.2" fill="rgba(140,140,140,0.92)"/>
<rect x="262" y="1019.3" width="2" height="2.5" fill="rgba(239,83,80,0.82)"/>
<path d="M261 1018.3h4v4.5h-4z M262 1019.3v2.5h2v-2.5z" fill="rgba(239,83,80,0.89)" fill-rule="evenodd"/>
<rect x="267" y="1024.0" width="2" height="0.9" fill="rgba(140,140,140,0.92)"/>
<rect x="267" y="1025.9" width="2" height="6.9" fill="rgba(239,83,80,0.82)"/>
<path d="M266 1024.9h4v8.9h-4z M267 1025.9v6.9h2v-6.9z" fill="rgba(239,83,80,0.89)" fill-rule="evenodd"/>
<rect x="271" y="1032.2" width="2" height="0.7" fill="rgba(140,140,140,0.92)"/>
<rect x="270" y="1032.9" width="4" height="2.7" fill="rgba(38,166,154,0.90)"/>
<rect x="276" y="1036.2" width="2" height="0.6" fill="rgba(140,140,140,0.92)"/>
<rect x="276" y="1038.7" width="2" height="3.0" fill="rgba(140,140,140,0.92)"/>
<rect x="275" y="1036.8" width="4" height="1.9" fill="rgba(239,83,80,0.89)"/>
<rect x="281" y="1045.1" width="2" height="5.8" fill="rgba(140,140,140,0.92)"/>
<rect x="281" y="1054.9" width="2" height="2.1" fill="rgba(140,140,140,0.92)"/>
<rect x="281" y="1051.9" width="2" height="2.0" fill="rgba(239,83,80,0.82)"/>
<path d="M280 1050.9h4v4.0h-4z M281 1051.9v2.0h2v-2.0z" fill="rgba(239,83,80,0.89)" fill-rule="evenodd"/>
<rect x="285" y="1055.1" width="2" height="3.1" fill="rgba(140,140,140,0.92)"/>
<rect x="285" y="1066.7" width="2" height="2.1" fill="rgba(140,140,140,0.92)"/>
<rect x="285" y="1059.2" width="2" height="6.5" fill="rgba(239,83,80,0.82)"/>
<path d="M284 1058.2h4v8.5h-4z M285 1059.2v6.5h2v-6.5z" fill="rgba(239,83,80,0.89)" fill-rule="evenodd"/>
<rect x="290" y="1054.1" width="2" height="3.2" fill="rgba(140,140,140,0.92)"/>
<rect x="290" y="1062.7" width="2" height="3.3" fill="rgba(140,140,140,0.92)"/>
<rect x="290" y="1058.3" width="2" height="3.4" fill="rgba(239,83,80,0.82)"/>
<path d="M289 1057.3h4v5.4h-4z M290 1058.3v3.4h2v-3.4z" fill="rgba(239,83,80,0.89)" fill-rule="evenodd"/>
<rect x="294" y="1056.1" width="2" height="2.0" fill="rgba(140,140,140,0.92)"/>
<rect x="294" y="1060.7" width="2" height="2.2" fill="rgba(140,140,140,0.92)"/>
<rect x="293" y="1058.1" width="4" height="2.6" fill="rgba(38,166,154,0.90)"/>
<rect x="299" y="1054.6" width="2" height="2.2" fill="rgba(140,140,140,0.92)"/>
<rect x="298" y="1053.1" width="4" height="1.5" fill="rgba(38,166,154,0.90)"/>
<rect x="303" y="1056.2" width="2" height="1.8" fill="rgba(140,140,140,0.92)"/>
<rect x="303" y="1062.0" width="2" height="0.9" fill="rgba(140,140,140,0.92)"/>
<rect x="303" y="1059.0" width="2" height="2.0" fill="rgba(38,166,154,0.84)"/>
<path d="M302 1058.0h4v4.0h-4z M303 1059.0v2.0h2v-2.0z" fill="rgba(38,166,154,0.90)" fill-rule="evenodd"/>
<rect x="308" y="1059.1" width="2" height="4.1" fill="rgba(140,140,140,0.92)"/>
<rect x="308" y="1066.9" width="2" height="5.2" fill="rgba(140,140,140,0.92)"/>
<rect x="308" y="1064.2" width="2" height="1.7" fill="rgba(38,166,154,0.84)"/>
<path d="M307 1063.2h4v3.7h-4z M308 1064.2v1.7h2v-1.7z" fill="rgba(38,166,154,0.90)" fill-rule="evenodd"/>
<rect x="313" y="1059.3" width="2" height="0.9" fill="rgba(140,140,140,0.92)"/>
<rect x="313" y="1063.2" width="2" height="0.6" fill="rgba(140,140,140,0.92)"/>
<rect x="312" y="1060.2" width="4" height="3.0" fill="rgba(239,83,80,0.89)"/>
<rect x="317" y="1068.3" width="2" height="0.7" fill="rgba(140,140,140,0.92)"/>
<rect x="317" y="1070.0" width="2" height="2.0" fill="rgba(239,83,80,0.82)"/>
<path d="M316 1069.0h4v4.0h-4z M317 1070.0v2.0h2v-2.0z" fill="rgba(239,83,80,0.89)" fill-rule="evenodd"/>
<rect x="322" y="1063.2" width="2" height="2.0" fill="rgba(140,140,140,0.92)"/>
<rect x="322" y="1066.8" width="2" height="2.0" fill="rgba(140,140,140,0.92)"/>
<rect x="321" y="1065.2" width="4" height="1.5" fill="rgba(239,83,80,0.89)"/>
<rect x="326" y="1060.2" width="2" height="3.9" fill="rgba(140,140,140,0.92)"/>
<rect x="326" y="1066.9" width="2" height="3.0" fill="rgba(140,140,140,0.92)"/>
<rect x="325" y="1064.1" width="4" height="2.8" fill="rgba(239,83,80,0.89)"/>
<rect x="331" y="1058.2" width="2" height="2.9" fill="rgba(140,140,140,0.92)"/>
<rect x="331" y="1067.8" width="2" height="0.9" fill="rgba(140,140,140,0.92)"/>
<rect x="331" y="1062.1" width="2" height="4.7" fill="rgba(239,83,80,0.82)"/>
<path d="M330 1061.1h4v6.7h-4z M331 1062.1v4.7h2v-4.7z" fill="rgba(239,83,80,0.89)" fill-rule="evenodd"/>
<rect x="335" y="1069.7" width="2" height="1.2" fill="rgba(140,140,140,0.92)"/>
<rect x="334" y="1068.2" width="4" height="1.5" fill="rgba(38,166,154,0.90)"/>
<rect x="340" y="1060.2" width="2" height="1.8" fill="rgba(140,140,140,0.92)"/>
<rect x="340" y="1070.9" width="2" height="1.1" fill="rgba(140,140,140,0.92)"/>
<rect x="340" y="1063.0" width="2" height="6.9" fill="rgba(38,166,154,0.84)"/>
<path d="M339 1062.0h4v8.9h-4z M340 1063.0v6.9h2v-6.9z" fill="rgba(38,166,154,0.90)" fill-rule="evenodd"/>
<rect x="345" y="1058.2" width="2" height="1.7" fill="rgba(140,140,140,0.92)"/>
<rect x="345" y="1060.9" width="2" height="1.9" fill="rgba(38,166,154,0.84)"/>
<path d="M344 1059.9h4v3.9h-4z M345 1060.9v1.9h2v-1.9z" fill="rgba(38,166,154,0.90)" fill-rule="evenodd"/>
<rect x="349" y="1050.1" width="2" height="1.9" fill="rgba(140,140,140,0.92)"/>
<rect x="349" y="1055.9" width="2" height="1.8" fill="rgba(140,140,140,0.92)"/>
<rect x="349" y="1053.0" width="2" height="1.9" fill="rgba(38,166,154,0.84)"/>
<path d="M348 1052.0h4v3.9h-4z M349 1053.0v1.9h2v-1.9z" fill="rgba(38,166,154,0.90)" fill-rule="evenodd"/>
<rect x="354" y="1047.2" width="2" height="2.0" fill="rgba(140,140,140,0.92)"/>
<rect x="354" y="1050.7" width="2" height="2.2" fill="rgba(140,140,140,0.92)"/>
<rect x="353" y="1049.2" width="4" height="1.5" fill="rgba(239,83,80,0.89)"/>
<rect x="358" y="1057.1" width="2" height="1.3" fill="rgba(140,140,140,0.92)"/>
<rect x="358" y="1059.9" width="2" height="3.0" fill="rgba(140,140,140,0.92)"/>
<rect x="357" y="1058.4" width="4" height="1.5" fill="rgba(38,166,154,0.90)"/>
<rect x="363" y="1058.2" width="2" height="0.8" fill="rgba(140,140,140,0.92)"/>
<rect x="363" y="1060.0" width="2" height="1.9" fill="rgba(239,83,80,0.82)"/>
<path d="M362 1059.0h4v3.9h-4z M363 1060.0v1.9h2v-1.9z" fill="rgba(239,83,80,0.89)" fill-rule="evenodd"/>
<rect x="367" y="1062.0" width="2" height="2.1" fill="rgba(140,140,140,0.92)"/>
<rect x="367" y="1081.8" width="2" height="2.2" fill="rgba(140,140,140,0.92)"/>
<rect x="367" y="1065.1" width="2" height="15.7" fill="rgba(239,83,80,0.82)"/>
<path d="M366 1064.1h4v17.7h-4z M367 1065.1v15.7h2v-15.7z" fill="rgba(239,83,80,0.89)" fill-rule="evenodd"/>
<rect x="372" y="1070.1" width="2" height="3.1" fill="rgba(140,140,140,0.92)"/>
<rect x="371" y="1073.2" width="4" height="2.5" fill="rgba(239,83,80,0.89)"/>
<rect x="377" y="1074.8" width="2" height="0.9" fill="rgba(140,140,140,0.92)"/>
<rect x="376" y="1073.3" width="4" height="1.5" fill="rgba(38,166,154,0.90)"/>
<rect x="381" y="1067.1" width="2" height="4.1" fill="rgba(140,140,140,0.92)"/>
<rect x="381" y="1072.7" width="2" height="4.3" fill="rgba(140,140,140,0.92)"/>
<rect x="380" y="1071.2" width="4" height="1.5" fill="rgba(239,83,80,0.89)"/>
<rect x="386" y="1044.9" width="2" height="2.2" fill="rgba(140,140,140,0.92)"/>
<rect x="386" y="1063.8" width="2" height="1.0" fill="rgba(140,140,140,0.92)"/>
<rect x="386" y="1048.1" width="2" height="14.7" fill="rgba(38,166,154,0.84)"/>
<path d="M385 1047.1h4v16.7h-4z M386 1048.1v14.7h2v-14.7z" fill="rgba(38,166,154,0.90)" fill-rule="evenodd"/>
<rect x="390" y="1045.2" width="2" height="1.0" fill="rgba(140,140,140,0.92)"/>
<rect x="390" y="1047.7" width="2" height="4.2" fill="rgba(140,140,140,0.92)"/>
<rect x="389" y="1046.2" width="4" height="1.5" fill="rgba(38,166,154,0.90)"/>
<rect x="395" y="1032.4" width="2" height="0.5" fill="rgba(140,140,140,0.92)"/>
<rect x="395" y="1050.0" width="2" height="2.7" fill="rgba(140,140,140,0.92)"/>
<rect x="395" y="1033.9" width="2" height="15.1" fill="rgba(38,166,154,0.84)"/>
<path d="M394 1032.9h4v17.1h-4z M395 1033.9v15.1h2v-15.1z" fill="rgba(38,166,154,0.90)" fill-rule="evenodd"/>
<rect x="399" y="1015.2" width="2" height="0.6" fill="rgba(140,140,140,0.92)"/>
<rect x="399" y="1024.8" width="2" height="2.9" fill="rgba(140,140,140,0.92)"/>
<rect x="399" y="1016.8" width="2" height="7.0" fill="rgba(38,166,154,0.84)"/>
<path d="M398 1015.8h4v9.0h-4z M399 1016.8v7.0h2v-7.0z" fill="rgba(38,166,154,0.90)" fill-rule="evenodd"/>
<rect x="404" y="1015.0" width="2" height="10.1" fill="rgba(140,140,140,0.92)"/>
<rect x="404" y="1030.9" width="2" height="5.9" fill="rgba(140,140,140,0.92)"/>
<rect x="404" y="1026.1" width="2" height="3.8" fill="rgba(239,83,80,0.82)"/>
<path d="M403 1025.1h4v5.8h-4z M404 1026.1v3.8h2v-3.8z" fill="rgba(239,83,80,0.89)" fill-rule="evenodd"/>
<rect x="409" y="1020.2" width="2" height="5.0" fill="rgba(140,140,140,0.92)"/>
<rect x="409" y="1026.7" width="2" height="7.1" fill="rgba(140,140,140,0.92)"/>
<rect x="408" y="1025.2" width="4" height="1.5" fill="rgba(239,83,80,0.89)"/>
<rect x="413" y="1012.0" width="2" height="3.0" fill="rgba(140,140,140,0.92)"/>
<rect x="413" y="1026.9" width="2" height="0.8" fill="rgba(140,140,140,0.92)"/>
<rect x="413" y="1016.0" width="2" height="9.9" fill="rgba(38,166,154,0.84)"/>
<path d="M412 1015.0h4v11.9h-4z M413 1016.0v9.9h2v-9.9z" fill="rgba(38,166,154,0.90)" fill-rule="evenodd"/>
<rect x="418" y="998.0" width="2" height="1.1" fill="rgba(140,140,140,0.92)"/>
<rect x="418" y="1011.0" width="2" height="0.7" fill="rgba(140,140,140,0.92)"/>
<rect x="418" y="1000.1" width="2" height="9.9" fill="rgba(38,166,154,0.84)"/>
<path d="M417 999.1h4v11.9h-4z M418 1000.1v9.9h2v-9.9z" fill="rgba(38,166,154,0.90)" fill-rule="evenodd"/>
<rect x="422" y="993.1" width="2" height="5.8" fill="rgba(38,166,154,0.84)"/>
<path d="M421 992.1h4v7.8h-4z M422 993.1v5.8h2v-5.8z" fill="rgba(38,166,154,0.90)" fill-rule="evenodd"/>
<rect x="427" y="995.1" width="2" height="2.1" fill="rgba(140,140,140,0.92)"/>
<rect x="427" y="998.2" width="2" height="3.6" fill="rgba(38,166,154,0.84)"/>
<path d="M426 997.2h4v5.6h-4z M427 998.2v3.6h2v-3.6z" fill="rgba(38,166,154,0.90)" fill-rule="evenodd"/>
<rect x="431" y="1000.1" width="2" height="1.0" fill="rgba(140,140,140,0.92)"/>
<rect x="431" y="1002.8" width="2" height="3.0" fill="rgba(140,140,140,0.92)"/>
<rect x="430" y="1001.1" width="4" height="1.7" fill="rgba(239,83,80,0.89)"/>
<rect x="436" y="999.2" width="2" height="1.1" fill="rgba(140,140,140,0.92)"/>
<rect x="436" y="1001.8" width="2" height="2.9" fill="rgba(140,140,140,0.92)"/>
<rect x="435" y="1000.3" width="4" height="1.5" fill="rgba(239,83,80,0.89)"/>
<rect x="441" y="1002.2" width="2" height="1.0" fill="rgba(140,140,140,0.92)"/>
<rect x="441" y="1004.8" width="2" height="1.0" fill="rgba(140,140,140,0.92)"/>
<rect x="440" y="1003.2" width="4" height="1.5" fill="rgba(38,166,154,0.90)"/>
<rect x="445" y="1009.8" width="2" height="3.0" fill="rgba(140,140,140,0.92)"/>
<rect x="444" y="1008.2" width="4" height="1.5" fill="rgba(239,83,80,0.89)"/>
<rect x="450" y="1007.8" width="2" height="6.4" fill="rgba(140,140,140,0.92)"/>
<rect x="450" y="1019.8" width="2" height="3.1" fill="rgba(140,140,140,0.92)"/>
<rect x="450" y="1015.2" width="2" height="3.6" fill="rgba(239,83,80,0.82)"/>
<path d="M449 1014.2h4v5.6h-4z M450 1015.2v3.6h2v-3.6z" fill="rgba(239,83,80,0.89)" fill-rule="evenodd"/>
<rect x="454" y="1009.1" width="2" height="3.1" fill="rgba(140,140,140,0.92)"/>
<rect x="454" y="1013.7" width="2" height="2.1" fill="rgba(140,140,140,0.92)"/>
<rect x="453" y="1012.2" width="4" height="1.5" fill="rgba(239,83,80,0.89)"/>
<rect x="459" y="1006.0" width="2" height="4.0" fill="rgba(140,140,140,0.92)"/>
<rect x="459" y="1013.9" width="2" height="0.9" fill="rgba(140,140,140,0.92)"/>
<rect x="459" y="1011.0" width="2" height="1.9" fill="rgba(38,166,154,0.84)"/>
<path d="M458 1010.0h4v3.9h-4z M459 1011.0v1.9h2v-1.9z" fill="rgba(38,166,154,0.90)" fill-rule="evenodd"/>
<rect x="463" y="1006.1" width="2" height="2.1" fill="rgba(140,140,140,0.92)"/>
<rect x="463" y="1009.8" width="2" height="2.0" fill="rgba(140,140,140,0.92)"/>
<rect x="462" y="1008.2" width="4" height="1.5" fill="rgba(239,83,80,0.89)"/>
<rect x="468" y="970.0" width="2" height="1.0" fill="rgba(140,140,140,0.92)"/>
<rect x="468" y="988.0" width="2" height="5.8" fill="rgba(140,140,140,0.92)"/>
<rect x="468" y="972.0" width="2" height="15.0" fill="rgba(38,166,154,0.84)"/>
<path d="M467 971.0h4v17.0h-4z M468 972.0v15.0h2v-15.0z" fill="rgba(38,166,154,0.90)" fill-rule="evenodd"/>
<rect x="472" y="941.9" width="2" height="12.4" fill="rgba(140,140,140,0.92)"/>
<rect x="472" y="965.8" width="2" height="11.0" fill="rgba(140,140,140,0.92)"/>
<rect x="472" y="955.3" width="2" height="9.5" fill="rgba(38,166,154,0.84)"/>
<path d="M471 954.3h4v11.5h-4z M472 955.3v9.5h2v-9.5z" fill="rgba(38,166,154,0.90)" fill-rule="evenodd"/>
<rect x="477" y="932.2" width="2" height="2.9" fill="rgba(140,140,140,0.92)"/>
<rect x="477" y="936.1" width="2" height="18.1" fill="rgba(38,166,154,0.84)"/>
<path d="M476 935.1h4v20.1h-4z M477 936.1v18.1h2v-18.1z" fill="rgba(38,166,154,0.90)" fill-rule="evenodd"/>
<rect x="482" y="929.2" width="2" height="8.0" fill="rgba(140,140,140,0.92)"/>
<rect x="482" y="946.1" width="2" height="3.5" fill="rgba(140,140,140,0.92)"/>
<rect x="482" y="938.2" width="2" height="6.9" fill="rgba(239,83,80,0.82)"/>
<path d="M481 937.2h4v8.9h-4z M482 938.2v6.9h2v-6.9z" fill="rgba(239,83,80,0.89)" fill-rule="evenodd"/>
<rect x="486" y="912.1" width="2" height="10.1" fill="rgba(140,140,140,0.92)"/>
<rect x="486" y="923.8" width="2" height="9.0" fill="rgba(140,140,140,0.92)"/>
<rect x="485" y="922.2" width="4" height="1.5" fill="rgba(38,166,154,0.90)"/>
<rect x="491" y="898.2" width="2" height="0.9" fill="rgba(140,140,140,0.92)"/>
<rect x="491" y="900.1" width="2" height="17.8" fill="rgba(38,166,154,0.84)"/>
<path d="M490 899.1h4v19.8h-4z M491 900.1v17.8h2v-17.8z" fill="rgba(38,166,154,0.90)" fill-rule="evenodd"/>
<rect x="495" y="882.2" width="2" height="7.1" fill="rgba(140,140,140,0.92)"/>
<rect x="495" y="900.6" width="2" height="6.1" fill="rgba(140,140,140,0.92)"/>
<rect x="495" y="890.3" width="2" height="9.3" fill="rgba(38,166,154,0.84)"/>
<path d="M494 889.3h4v11.3h-4z M495 890.3v9.3h2v-9.3z" fill="rgba(38,166,154,0.90)" fill-rule="evenodd"/>
<rect x="500" y="882.2" width="2" height="7.1" fill="rgba(140,140,140,0.92)"/>
<rect x="500" y="893.5" width="2" height="8.2" fill="rgba(140,140,140,0.92)"/>
<rect x="500" y="890.3" width="2" height="2.2" fill="rgba(38,166,154,0.84)"/>
<path d="M499 889.3h4v4.2h-4z M500 890.3v2.2h2v-2.2z" fill="rgba(38,166,154,0.90)" fill-rule="evenodd"/>
<rect x="504" y="888.1" width="2" height="2.4" fill="rgba(140,140,140,0.92)"/>
<rect x="504" y="893.5" width="2" height="1.1" fill="rgba(140,140,140,0.92)"/>
<rect x="503" y="890.5" width="4" height="3.0" fill="rgba(38,166,154,0.90)"/>
<rect x="509" y="889.3" width="2" height="1.8" fill="rgba(140,140,140,0.92)"/>
<rect x="509" y="897.0" width="2" height="0.6" fill="rgba(140,140,140,0.92)"/>
<rect x="509" y="892.1" width="2" height="3.9" fill="rgba(239,83,80,0.82)"/>
<path d="M508 891.1h4v5.9h-4z M509 892.1v3.9h2v-3.9z" fill="rgba(239,83,80,0.89)" fill-rule="evenodd"/>
<rect x="514" y="891.1" width="2" height="3.0" fill="rgba(140,140,140,0.92)"/>
<rect x="514" y="895.1" width="2" height="1.5" fill="rgba(38,166,154,0.84)"/>
<path d="M513 894.1h4v3.5h-4z M514 895.1v1.5h2v-1.5z" fill="rgba(38,166,154,0.90)" fill-rule="evenodd"/>
<rect x="518" y="902.3" width="2" height="1.8" fill="rgba(140,140,140,0.92)"/>
<rect x="518" y="905.1" width="2" height="14.6" fill="rgba(239,83,80,0.82)"/>
<path d="M517 904.1h4v16.6h-4z M518 905.1v14.6h2v-14.6z" fill="rgba(239,83,80,0.89)" fill-rule="evenodd"/>
<rect x="523" y="889.3" width="2" height="5.9" fill="rgba(140,140,140,0.92)"/>
<rect x="523" y="904.7" width="2" height="8.9" fill="rgba(140,140,140,0.92)"/>
<rect x="523" y="896.2" width="2" height="7.5" fill="rgba(38,166,154,0.84)"/>
<path d="M522 895.2h4v9.5h-4z M523 896.2v7.5h2v-7.5z" fill="rgba(38,166,154,0.90)" fill-rule="evenodd"/>
<rect x="527" y="852.1" width="2" height="19.1" fill="rgba(140,140,140,0.92)"/>
<rect x="527" y="874.8" width="2" height="14.9" fill="rgba(140,140,140,0.92)"/>
<rect x="527" y="872.2" width="2" height="1.6" fill="rgba(239,83,80,0.82)"/>
<path d="M526 871.2h4v3.6h-4z M527 872.2v1.6h2v-1.6z" fill="rgba(239,83,80,0.89)" fill-rule="evenodd"/>
<rect x="532" y="864.1" width="2" height="3.9" fill="rgba(140,140,140,0.92)"/>
<rect x="532" y="879.9" width="2" height="3.9" fill="rgba(140,140,140,0.92)"/>
<rect x="532" y="869.0" width="2" height="9.9" fill="rgba(38,166,154,0.84)"/>
<path d="M531 868.0h4v11.9h-4z M532 869.0v9.9h2v-9.9z" fill="rgba(38,166,154,0.90)" fill-rule="evenodd"/>
<rect x="536" y="871.2" width="2" height="3.9" fill="rgba(140,140,140,0.92)"/>
<rect x="536" y="876.7" width="2" height="5.2" fill="rgba(140,140,140,0.92)"/>
<rect x="535" y="875.1" width="4" height="1.6" fill="rgba(239,83,80,0.89)"/>
<rect x="541" y="874.3" width="2" height="3.8" fill="rgba(140,140,140,0.92)"/>
<rect x="541" y="881.9" width="2" height="1.9" fill="rgba(140,140,140,0.92)"/>
<rect x="541" y="879.1" width="2" height="1.8" fill="rgba(38,166,154,0.84)"/>
<path d="M540 878.1h4v3.8h-4z M541 879.1v1.8h2v-1.8z" fill="rgba(38,166,154,0.90)" fill-rule="evenodd"/>
<rect x="546" y="848.3" width="2" height="4.7" fill="rgba(140,140,140,0.92)"/>
<rect x="546" y="858.6" width="2" height="4.1" fill="rgba(140,140,140,0.92)"/>
<rect x="546" y="854.0" width="2" height="3.6" fill="rgba(38,166,154,0.84)"/>
<path d="M545 853.0h4v5.6h-4z M546 854.0v3.6h2v-3.6z" fill="rgba(38,166,154,0.90)" fill-rule="evenodd"/>
<rect x="550" y="854.2" width="2" height="4.0" fill="rgba(140,140,140,0.92)"/>
<rect x="550" y="865.7" width="2" height="2.9" fill="rgba(140,140,140,0.92)"/>
<rect x="550" y="859.2" width="2" height="5.5" fill="rgba(239,83,80,0.82)"/>
<path d="M549 858.2h4v7.5h-4z M550 859.2v5.5h2v-5.5z" fill="rgba(239,83,80,0.89)" fill-rule="evenodd"/>
<rect x="555" y="856.2" width="2" height="3.0" fill="rgba(140,140,140,0.92)"/>
<rect x="555" y="861.5" width="2" height="2.4" fill="rgba(140,140,140,0.92)"/>
<rect x="554" y="859.2" width="4" height="2.3" fill="rgba(38,166,154,0.90)"/>
<rect x="559" y="859.2" width="2" height="3.7" fill="rgba(140,140,140,0.92)"/>
<rect x="559" y="864.8" width="2" height="4.9" fill="rgba(140,140,140,0.92)"/>
<rect x="558" y="862.9" width="4" height="1.9" fill="rgba(38,166,154,0.90)"/>
<rect x="564" y="857.1" width="2" height="4.0" fill="rgba(140,140,140,0.92)"/>
<rect x="564" y="862.6" width="2" height="7.1" fill="rgba(140,140,140,0.92)"/>
<rect x="563" y="861.1" width="4" height="1.5" fill="rgba(239,83,80,0.89)"/>
<rect x="568" y="856.2" width="2" height="1.9" fill="rgba(140,140,140,0.92)"/>
<rect x="568" y="868.8" width="2" height="2.2" fill="rgba(140,140,140,0.92)"/>
<rect x="568" y="859.1" width="2" height="8.7" fill="rgba(239,83,80,0.82)"/>
<path d="M567 858.1h4v10.7h-4z M568 859.1v8.7h2v-8.7z" fill="rgba(239,83,80,0.89)" fill-rule="evenodd"/>
<rect x="573" y="850.1" width="2" height="4.3" fill="rgba(140,140,140,0.92)"/>
<rect x="573" y="855.4" width="2" height="31.4" fill="rgba(239,83,80,0.82)"/>
<path d="M572 854.4h4v33.4h-4z M573 855.4v31.4h2v-31.4z" fill="rgba(239,83,80,0.89)" fill-rule="evenodd"/>
<rect x="578" y="907.2" width="2" height="4.1" fill="rgba(140,140,140,0.92)"/>
<rect x="578" y="919.8" width="2" height="2.2" fill="rgba(140,140,140,0.92)"/>
<rect x="578" y="912.3" width="2" height="6.5" fill="rgba(239,83,80,0.82)"/>
<path d="M577 911.3h4v8.5h-4z M578 912.3v6.5h2v-6.5z" fill="rgba(239,83,80,0.89)" fill-rule="evenodd"/>
<rect x="582" y="917.1" width="2" height="2.1" fill="rgba(140,140,140,0.92)"/>
<rect x="582" y="923.8" width="2" height="2.9" fill="rgba(140,140,140,0.92)"/>
<rect x="582" y="920.2" width="2" height="2.6" fill="rgba(239,83,80,0.82)"/>
<path d="M581 919.2h4v4.6h-4z M582 920.2v2.6h2v-2.6z" fill="rgba(239,83,80,0.89)" fill-rule="evenodd"/>
<rect x="587" y="930.2" width="2" height="0.7" fill="rgba(140,140,140,0.92)"/>
<rect x="587" y="931.9" width="2" height="9.3" fill="rgba(239,83,80,0.82)"/>
<path d="M586 930.9h4v11.3h-4z M587 931.9v9.3h2v-9.3z" fill="rgba(239,83,80,0.89)" fill-rule="evenodd"/>
<rect x="591" y="943.0" width="2" height="4.3" fill="rgba(140,140,140,0.92)"/>
<rect x="591" y="948.3" width="2" height="3.3" fill="rgba(239,83,80,0.82)"/>
<path d="M590 947.3h4v5.3h-4z M591 948.3v3.3h2v-3.3z" fill="rgba(239,83,80,0.89)" fill-rule="evenodd"/>
<rect x="596" y="938.2" width="2" height="2.0" fill="rgba(140,140,140,0.92)"/>
<rect x="596" y="941.7" width="2" height="3.1" fill="rgba(140,140,140,0.92)"/>
<rect x="595" y="940.2" width="4" height="1.5" fill="rgba(239,83,80,0.89)"/>
<rect x="600" y="940.3" width="2" height="0.9" fill="rgba(140,140,140,0.92)"/>
<rect x="600" y="942.2" width="2" height="1.6" fill="rgba(239,83,80,0.82)"/>
<path d="M599 941.2h4v3.6h-4z M600 942.2v1.6h2v-1.6z" fill="rgba(239,83,80,0.89)" fill-rule="evenodd"/>
<rect x="605" y="936.0" width="2" height="4.1" fill="rgba(140,140,140,0.92)"/>
<rect x="605" y="943.7" width="2" height="4.1" fill="rgba(140,140,140,0.92)"/>
<rect x="605" y="941.1" width="2" height="1.6" fill="rgba(239,83,80,0.82)"/>
<path d="M604 940.1h4v3.6h-4z M605 941.1v1.6h2v-1.6z" fill="rgba(239,83,80,0.89)" fill-rule="evenodd"/>
<rect x="610" y="938.0" width="2" height="2.1" fill="rgba(140,140,140,0.92)"/>
<rect x="610" y="943.7" width="2" height="0.9" fill="rgba(140,140,140,0.92)"/>
<rect x="610" y="941.1" width="2" height="1.6" fill="rgba(239,83,80,0.82)"/>
<path d="M609 940.1h4v3.6h-4z M610 941.1v1.6h2v-1.6z" fill="rgba(239,83,80,0.89)" fill-rule="evenodd"/>
<rect x="614" y="939.3" width="2" height="0.7" fill="rgba(140,140,140,0.92)"/>
<rect x="614" y="941.5" width="2" height="3.1" fill="rgba(140,140,140,0.92)"/>
<rect x="613" y="940.0" width="4" height="1.5" fill="rgba(38,166,154,0.90)"/>
<rect x="619" y="945.8" width="2" height="2.0" fill="rgba(140,140,140,0.92)"/>
<rect x="618" y="944.3" width="4" height="1.5" fill="rgba(239,83,80,0.89)"/>
<rect x="623" y="951.5" width="2" height="3.2" fill="rgba(140,140,140,0.92)"/>
<rect x="622" y="950.0" width="4" height="1.5" fill="rgba(38,166,154,0.90)"/>
<rect x="628" y="953.7" width="2" height="0.7" fill="rgba(140,140,140,0.92)"/>
<rect x="627" y="952.1" width="4" height="1.6" fill="rgba(38,166,154,0.90)"/>
<rect x="632" y="954.2" width="2" height="1.1" fill="rgba(140,140,140,0.92)"/>
<rect x="632" y="956.9" width="2" height="2.6" fill="rgba(140,140,140,0.92)"/>
<rect x="631" y="955.3" width="4" height="1.6" fill="rgba(239,83,80,0.89)"/>
<rect x="637" y="959.6" width="2" height="2.1" fill="rgba(140,140,140,0.92)"/>
<rect x="636" y="958.1" width="4" height="1.5" fill="rgba(239,83,80,0.89)"/>
<rect x="642" y="965.1" width="2" height="1.9" fill="rgba(140,140,140,0.92)"/>
<rect x="642" y="968.0" width="2" height="4.6" fill="rgba(239,83,80,0.82)"/>
<path d="M641 967.0h4v6.6h-4z M642 968.0v4.6h2v-4.6z" fill="rgba(239,83,80,0.89)" fill-rule="evenodd"/>
<rect x="646" y="965.9" width="2" height="1.1" fill="rgba(140,140,140,0.92)"/>
<rect x="646" y="968.6" width="2" height="2.9" fill="rgba(140,140,140,0.92)"/>
<rect x="645" y="967.0" width="4" height="1.6" fill="rgba(38,166,154,0.90)"/>
<rect x="651" y="972.0" width="2" height="3.1" fill="rgba(140,140,140,0.92)"/>
<rect x="651" y="976.1" width="2" height="3.7" fill="rgba(239,83,80,0.82)"/>
<path d="M650 975.1h4v5.7h-4z M651 976.1v3.7h2v-3.7z" fill="rgba(239,83,80,0.89)" fill-rule="evenodd"/>
<rect x="655" y="966.1" width="2" height="2.9" fill="rgba(140,140,140,0.92)"/>
<rect x="655" y="973.9" width="2" height="0.8" fill="rgba(140,140,140,0.92)"/>
<rect x="655" y="970.0" width="2" height="2.9" fill="rgba(38,166,154,0.84)"/>
<path d="M654 969.0h4v4.9h-4z M655 970.0v2.9h2v-2.9z" fill="rgba(38,166,154,0.90)" fill-rule="evenodd"/>
<rect x="660" y="962.1" width="2" height="2.1" fill="rgba(140,140,140,0.92)"/>
<rect x="660" y="965.8" width="2" height="3.0" fill="rgba(140,140,140,0.92)"/>
<rect x="659" y="964.2" width="4" height="1.6" fill="rgba(239,83,80,0.89)"/>
<rect x="664" y="951.1" width="2" height="1.9" fill="rgba(140,140,140,0.92)"/>
<rect x="664" y="954.0" width="2" height="2.9" fill="rgba(38,166,154,0.84)"/>
<path d="M663 953.0h4v4.9h-4z M664 954.0v2.9h2v-2.9z" fill="rgba(38,166,154,0.90)" fill-rule="evenodd"/>
<rect x="669" y="963.0" width="2" height="2.2" fill="rgba(140,140,140,0.92)"/>
<rect x="669" y="966.7" width="2" height="1.1" fill="rgba(140,140,140,0.92)"/>
<rect x="668" y="965.2" width="4" height="1.5" fill="rgba(239,83,80,0.89)"/>
<rect x="674" y="967.1" width="2" height="2.2" fill="rgba(140,140,140,0.92)"/>
<rect x="674" y="971.6" width="2" height="1.2" fill="rgba(140,140,140,0.92)"/>
<rect x="673" y="969.3" width="4" height="2.3" fill="rgba(239,83,80,0.89)"/>
<rect x="678" y="972.8" width="2" height="1.1" fill="rgba(140,140,140,0.92)"/>
<rect x="677" y="971.2" width="4" height="1.6" fill="rgba(239,83,80,0.89)"/>
<rect x="683" y="977.2" width="2" height="5.6" fill="rgba(239,83,80,0.82)"/>
<path d="M682 976.2h4v7.6h-4z M683 977.2v5.6h2v-5.6z" fill="rgba(239,83,80,0.89)" fill-rule="evenodd"/>
<rect x="687" y="985.1" width="2" height="1.0" fill="rgba(140,140,140,0.92)"/>
<rect x="687" y="987.1" width="2" height="2.6" fill="rgba(239,83,80,0.82)"/>
<path d="M686 986.1h4v4.6h-4z M687 987.1v2.6h2v-2.6z" fill="rgba(239,83,80,0.89)" fill-rule="evenodd"/>
<rect x="692" y="988.0" width="2" height="2.2" fill="rgba(140,140,140,0.92)"/>
<rect x="692" y="991.2" width="2" height="1.5" fill="rgba(239,83,80,0.82)"/>
<path d="M691 990.2h4v3.5h-4z M692 991.2v1.5h2v-1.5z" fill="rgba(239,83,80,0.89)" fill-rule="evenodd"/>
<rect x="696" y="985.1" width="2" height="1.0" fill="rgba(140,140,140,0.92)"/>
<rect x="696" y="987.6" width="2" height="1.2" fill="rgba(140,140,140,0.92)"/>
<rect x="695" y="986.1" width="4" height="1.5" fill="rgba(239,83,80,0.89)"/>
<rect x="701" y="985.1" width="2" height="1.0" fill="rgba(140,140,140,0.92)"/>
<rect x="701" y="987.1" width="2" height="1.8" fill="rgba(239,83,80,0.82)"/>
<path d="M700 986.1h4v3.8h-4z M701 987.1v1.8h2v-1.8z" fill="rgba(239,83,80,0.89)" fill-rule="evenodd"/>
<rect x="706" y="988.2" width="2" height="1.1" fill="rgba(140,140,140,0.92)"/>
<rect x="706" y="990.8" width="2" height="2.2" fill="rgba(140,140,140,0.92)"/>
<rect x="705" y="989.3" width="4" height="1.5" fill="rgba(239,83,80,0.89)"/>
<rect x="710" y="991.8" width="2" height="1.2" fill="rgba(140,140,140,0.92)"/>
<rect x="709" y="990.3" width="4" height="1.5" fill="rgba(239,83,80,0.89)"/>
<rect x="715" y="982.1" width="2" height="1.1" fill="rgba(140,140,140,0.92)"/>
<rect x="715" y="984.8" width="2" height="3.1" fill="rgba(140,140,140,0.92)"/>
<rect x="714" y="983.2" width="4" height="1.5" fill="rgba(239,83,80,0.89)"/>
<rect x="719" y="987.3" width="2" height="0.9" fill="rgba(140,140,140,0.92)"/>
<rect x="718" y="988.2" width="4" height="1.5" fill="rgba(239,83,80,0.89)"/>
<rect x="724" y="989.4" width="2" height="0.7" fill="rgba(140,140,140,0.92)"/>
<rect x="724" y="991.6" width="2" height="2.4" fill="rgba(140,140,140,0.92)"/>
<rect x="723" y="990.1" width="4" height="1.5" fill="rgba(239,83,80,0.89)"/>
<rect x="727" y="991.2" width="4" height="1.5" fill="rgba(239,83,80,0.89)"/>
<rect x="733" y="995.0" width="2" height="1.0" fill="rgba(140,140,140,0.92)"/>
<rect x="733" y="997.0" width="2" height="1.8" fill="rgba(239,83,80,0.82)"/>
<path d="M732 996.0h4v3.8h-4z M733 997.0v1.8h2v-1.8z" fill="rgba(239,83,80,0.89)" fill-rule="evenodd"/>
<rect x="738" y="1000.2" width="2" height="0.8" fill="rgba(140,140,140,0.92)"/>
<rect x="738" y="1002.0" width="2" height="1.8" fill="rgba(239,83,80,0.82)"/>
<path d="M737 1001.0h4v3.8h-4z M738 1002.0v1.8h2v-1.8z" fill="rgba(239,83,80,0.89)" fill-rule="evenodd"/>
<rect x="742" y="1006.2" width="2" height="0.9" fill="rgba(140,140,140,0.92)"/>
<rect x="742" y="1008.1" width="2" height="1.7" fill="rgba(239,83,80,0.82)"/>
<path d="M741 1007.1h4v3.7h-4z M742 1008.1v1.7h2v-1.7z" fill="rgba(239,83,80,0.89)" fill-rule="evenodd"/>
<rect x="747" y="1008.2" width="2" height="0.9" fill="rgba(140,140,140,0.92)"/>
<rect x="747" y="1010.8" width="2" height="2.1" fill="rgba(140,140,140,0.92)"/>
<rect x="746" y="1009.1" width="4" height="1.7" fill="rgba(38,166,154,0.90)"/>
<rect x="751" y="1000.1" width="2" height="2.2" fill="rgba(140,140,140,0.92)"/>
<rect x="751" y="1003.8" width="2" height="3.9" fill="rgba(140,140,140,0.92)"/>
<rect x="750" y="1002.3" width="4" height="1.5" fill="rgba(239,83,80,0.89)"/>
<rect x="756" y="1004.7" width="2" height="0.9" fill="rgba(140,140,140,0.92)"/>
<rect x="755" y="1003.2" width="4" height="1.5" fill="rgba(239,83,80,0.89)"/>
<rect x="760" y="995.1" width="2" height="2.1" fill="rgba(140,140,140,0.92)"/>
<rect x="760" y="998.8" width="2" height="5.9" fill="rgba(140,140,140,0.92)"/>
<rect x="759" y="997.2" width="4" height="1.6" fill="rgba(239,83,80,0.89)"/>
<rect x="765" y="1003.2" width="2" height="1.9" fill="rgba(140,140,140,0.92)"/>
<rect x="765" y="1006.8" width="2" height="3.1" fill="rgba(140,140,140,0.92)"/>
<rect x="764" y="1005.1" width="4" height="1.7" fill="rgba(38,166,154,0.90)"/>
<rect x="769" y="1014.1" width="2" height="1.0" fill="rgba(140,140,140,0.92)"/>
<rect x="769" y="1016.1" width="2" height="3.8" fill="rgba(239,83,80,0.82)"/>
<path d="M768 1015.1h4v5.8h-4z M769 1016.1v3.8h2v-3.8z" fill="rgba(239,83,80,0.89)" fill-rule="evenodd"/>
<rect x="774" y="1017.2" width="2" height="7.0" fill="rgba(140,140,140,0.92)"/>
<rect x="774" y="1025.9" width="2" height="10.8" fill="rgba(140,140,140,0.92)"/>
<rect x="773" y="1024.2" width="4" height="1.7" fill="rgba(38,166,154,0.90)"/>
<rect x="779" y="1019.0" width="2" height="9.2" fill="rgba(140,140,140,0.92)"/>
<rect x="779" y="1029.9" width="2" height="7.7" fill="rgba(140,140,140,0.92)"/>
<rect x="778" y="1028.2" width="4" height="1.7" fill="rgba(38,166,154,0.90)"/>
<rect x="783" y="1024.0" width="2" height="4.2" fill="rgba(140,140,140,0.92)"/>
<rect x="783" y="1029.9" width="2" height="7.7" fill="rgba(140,140,140,0.92)"/>
<rect x="782" y="1028.2" width="4" height="1.7" fill="rgba(38,166,154,0.90)"/>
<rect x="788" y="1019.0" width="2" height="2.2" fill="rgba(140,140,140,0.92)"/>
<rect x="788" y="1022.8" width="2" height="2.9" fill="rgba(140,140,140,0.92)"/>
<rect x="787" y="1021.2" width="4" height="1.6" fill="rgba(38,166,154,0.90)"/>
<rect x="792" y="1020.2" width="2" height="1.0" fill="rgba(140,140,140,0.92)"/>
<rect x="792" y="1022.8" width="2" height="2.0" fill="rgba(140,140,140,0.92)"/>
<rect x="791" y="1021.2" width="4" height="1.6" fill="rgba(38,166,154,0.90)"/>
<rect x="797" y="1024.8" width="2" height="2.0" fill="rgba(140,140,140,0.92)"/>
<rect x="796" y="1023.2" width="4" height="1.6" fill="rgba(38,166,154,0.90)"/>
<rect x="801" y="1022.1" width="2" height="1.1" fill="rgba(140,140,140,0.92)"/>
<rect x="801" y="1024.8" width="2" height="3.1" fill="rgba(140,140,140,0.92)"/>
<rect x="800" y="1023.2" width="4" height="1.6" fill="rgba(239,83,80,0.89)"/>
<rect x="806" y="1017.1" width="2" height="2.2" fill="rgba(140,140,140,0.92)"/>
<rect x="806" y="1020.9" width="2" height="2.1" fill="rgba(140,140,140,0.92)"/>
<rect x="805" y="1019.3" width="4" height="1.6" fill="rgba(239,83,80,0.89)"/>
<rect x="811" y="1013.2" width="2" height="0.9" fill="rgba(140,140,140,0.92)"/>
<rect x="811" y="1016.0" width="2" height="1.8" fill="rgba(140,140,140,0.92)"/>
<rect x="810" y="1014.1" width="4" height="1.9" fill="rgba(38,166,154,0.90)"/>
<rect x="815" y="1014.1" width="2" height="1.1" fill="rgba(140,140,140,0.92)"/>
<rect x="815" y="1016.9" width="2" height="0.9" fill="rgba(140,140,140,0.92)"/>
<rect x="814" y="1015.2" width="4" height="1.7" fill="rgba(239,83,80,0.89)"/>
<rect x="820" y="1014.9" width="2" height="2.0" fill="rgba(140,140,140,0.92)"/>
<rect x="819" y="1013.2" width="4" height="1.7" fill="rgba(38,166,154,0.90)"/>
<rect x="824" y="1007.1" width="2" height="1.1" fill="rgba(140,140,140,0.92)"/>
<rect x="824" y="1009.9" width="2" height="3.0" fill="rgba(140,140,140,0.92)"/>
<rect x="823" y="1008.2" width="4" height="1.7" fill="rgba(239,83,80,0.89)"/>
<rect x="829" y="1004.1" width="2" height="1.8" fill="rgba(140,140,140,0.92)"/>
<rect x="829" y="1006.9" width="2" height="3.8" fill="rgba(38,166,154,0.84)"/>
<path d="M828 1005.9h4v5.8h-4z M829 1006.9v3.8h2v-3.8z" fill="rgba(38,166,154,0.90)" fill-rule="evenodd"/>
<rect x="833" y="1002.0" width="2" height="1.0" fill="rgba(140,140,140,0.92)"/>
<rect x="833" y="1004.0" width="2" height="2.8" fill="rgba(38,166,154,0.84)"/>
<path d="M832 1003.0h4v4.8h-4z M833 1004.0v2.8h2v-2.8z" fill="rgba(38,166,154,0.90)" fill-rule="evenodd"/>
<rect x="838" y="1002.7" width="2" height="2.0" fill="rgba(140,140,140,0.92)"/>
<rect x="837" y="1001.2" width="4" height="1.5" fill="rgba(38,166,154,0.90)"/>
<rect x="843" y="989.1" width="2" height="2.1" fill="rgba(140,140,140,0.92)"/>
<rect x="843" y="992.8" width="2" height="3.0" fill="rgba(140,140,140,0.92)"/>
<rect x="842" y="991.2" width="4" height="1.5" fill="rgba(38,166,154,0.90)"/>
<rect x="847" y="988.2" width="2" height="1.0" fill="rgba(140,140,140,0.92)"/>
<rect x="847" y="990.7" width="2" height="2.0" fill="rgba(140,140,140,0.92)"/>
<rect x="846" y="989.2" width="4" height="1.5" fill="rgba(239,83,80,0.89)"/>
<rect x="852" y="993.6" width="2" height="2.2" fill="rgba(140,140,140,0.92)"/>
<rect x="851" y="992.1" width="4" height="1.5" fill="rgba(239,83,80,0.89)"/>
<rect x="856" y="987.1" width="2" height="1.8" fill="rgba(140,140,140,0.92)"/>
<rect x="856" y="989.9" width="2" height="1.8" fill="rgba(38,166,154,0.84)"/>
<path d="M855 988.9h4v3.8h-4z M856 989.9v1.8h2v-1.8z" fill="rgba(38,166,154,0.90)" fill-rule="evenodd"/>
<rect x="861" y="982.1" width="2" height="1.0" fill="rgba(140,140,140,0.92)"/>
<rect x="861" y="986.5" width="2" height="1.1" fill="rgba(140,140,140,0.92)"/>
<rect x="861" y="984.1" width="2" height="1.4" fill="rgba(38,166,154,0.84)"/>
<path d="M860 983.1h4v3.4h-4z M861 984.1v1.4h2v-1.4z" fill="rgba(38,166,154,0.90)" fill-rule="evenodd"/>
<rect x="865" y="982.0" width="2" height="2.7" fill="rgba(38,166,154,0.84)"/>
<path d="M864 981.0h4v4.7h-4z M865 982.0v2.7h2v-2.7z" fill="rgba(38,166,154,0.90)" fill-rule="evenodd"/>
<rect x="870" y="982.3" width="2" height="0.8" fill="rgba(140,140,140,0.92)"/>
<rect x="869" y="983.1" width="4" height="2.6" fill="rgba(239,83,80,0.89)"/>
<rect x="875" y="980.2" width="2" height="0.8" fill="rgba(140,140,140,0.92)"/>
<rect x="875" y="982.0" width="2" height="1.5" fill="rgba(38,166,154,0.84)"/>
<path d="M874 981.0h4v3.5h-4z M875 982.0v1.5h2v-1.5z" fill="rgba(38,166,154,0.90)" fill-rule="evenodd"/>
<rect x="879" y="980.2" width="2" height="1.0" fill="rgba(140,140,140,0.92)"/>
<rect x="879" y="982.8" width="2" height="2.0" fill="rgba(140,140,140,0.92)"/>
<rect x="878" y="981.2" width="4" height="1.6" fill="rgba(38,166,154,0.90)"/>
<rect x="884" y="984.1" width="2" height="0.9" fill="rgba(140,140,140,0.92)"/>
<rect x="883" y="985.0" width="4" height="1.7" fill="rgba(239,83,80,0.89)"/>
<rect x="888" y="986.2" width="2" height="1.0" fill="rgba(140,140,140,0.92)"/>
<rect x="888" y="988.7" width="2" height="2.1" fill="rgba(140,140,140,0.92)"/>
<rect x="887" y="987.2" width="4" height="1.5" fill="rgba(239,83,80,0.89)"/>
<rect x="893" y="981.0" width="2" height="4.2" fill="rgba(140,140,140,0.92)"/>
<rect x="893" y="988.7" width="2" height="0.9" fill="rgba(140,140,140,0.92)"/>
<rect x="893" y="986.2" width="2" height="1.5" fill="rgba(38,166,154,0.84)"/>
<path d="M892 985.2h4v3.5h-4z M893 986.2v1.5h2v-1.5z" fill="rgba(38,166,154,0.90)" fill-rule="evenodd"/>
<rect x="897" y="955.0" width="2" height="9.2" fill="rgba(140,140,140,0.92)"/>
<rect x="897" y="968.7" width="2" height="10.1" fill="rgba(140,140,140,0.92)"/>
<rect x="897" y="965.2" width="2" height="2.5" fill="rgba(38,166,154,0.84)"/>
<path d="M896 964.2h4v4.5h-4z M897 965.2v2.5h2v-2.5z" fill="rgba(38,166,154,0.90)" fill-rule="evenodd"/>
<rect x="902" y="928.9" width="2" height="25.3" fill="rgba(140,140,140,0.92)"/>
<rect x="902" y="957.7" width="2" height="16.1" fill="rgba(140,140,140,0.92)"/>
<rect x="902" y="955.2" width="2" height="1.5" fill="rgba(239,83,80,0.82)"/>
<path d="M901 954.2h4v3.5h-4z M902 955.2v1.5h2v-1.5z" fill="rgba(239,83,80,0.89)" fill-rule="evenodd"/>
<rect x="907" y="955.1" width="2" height="9.2" fill="rgba(140,140,140,0.92)"/>
<rect x="907" y="967.6" width="2" height="11.1" fill="rgba(140,140,140,0.92)"/>
<rect x="907" y="965.3" width="2" height="1.3" fill="rgba(38,166,154,0.84)"/>
<path d="M906 964.3h4v3.3h-4z M907 965.3v1.3h2v-1.3z" fill="rgba(38,166,154,0.90)" fill-rule="evenodd"/>
<rect x="911" y="958.1" width="2" height="7.2" fill="rgba(140,140,140,0.92)"/>
<rect x="911" y="976.8" width="2" height="17.9" fill="rgba(140,140,140,0.92)"/>
<rect x="911" y="966.3" width="2" height="9.5" fill="rgba(38,166,154,0.84)"/>
<path d="M910 965.3h4v11.5h-4z M911 966.3v9.5h2v-9.5z" fill="rgba(38,166,154,0.90)" fill-rule="evenodd"/>
<rect x="916" y="960.1" width="2" height="7.1" fill="rgba(140,140,140,0.92)"/>
<rect x="916" y="968.7" width="2" height="6.1" fill="rgba(140,140,140,0.92)"/>
<rect x="915" y="967.2" width="4" height="1.5" fill="rgba(239,83,80,0.89)"/>
<rect x="920" y="947.3" width="2" height="4.7" fill="rgba(140,140,140,0.92)"/>
<rect x="920" y="958.9" width="2" height="4.8" fill="rgba(140,140,140,0.92)"/>
<rect x="920" y="953.0" width="2" height="4.9" fill="rgba(239,83,80,0.82)"/>
<path d="M919 952.0h4v6.9h-4z M920 953.0v4.9h2v-4.9z" fill="rgba(239,83,80,0.89)" fill-rule="evenodd"/>
<rect x="925" y="974.2" width="2" height="9.8" fill="rgba(140,140,140,0.92)"/>
<rect x="925" y="987.0" width="2" height="5.7" fill="rgba(140,140,140,0.92)"/>
<rect x="924" y="984.0" width="4" height="3.0" fill="rgba(38,166,154,0.90)"/>
<rect x="929" y="961.2" width="2" height="3.8" fill="rgba(140,140,140,0.92)"/>
<rect x="929" y="977.8" width="2" height="1.9" fill="rgba(140,140,140,0.92)"/>
<rect x="929" y="966.0" width="2" height="10.8" fill="rgba(38,166,154,0.84)"/>
<path d="M928 965.0h4v12.8h-4z M929 966.0v10.8h2v-10.8z" fill="rgba(38,166,154,0.90)" fill-rule="evenodd"/>
<rect x="934" y="968.0" width="2" height="4.2" fill="rgba(140,140,140,0.92)"/>
<rect x="934" y="979.9" width="2" height="2.8" fill="rgba(140,140,140,0.92)"/>
<rect x="934" y="973.2" width="2" height="5.7" fill="rgba(239,83,80,0.82)"/>
<path d="M933 972.2h4v7.7h-4z M934 973.2v5.7h2v-5.7z" fill="rgba(239,83,80,0.89)" fill-rule="evenodd"/>
<rect x="939" y="999.1" width="2" height="6.9" fill="rgba(140,140,140,0.92)"/>
<rect x="939" y="1034.8" width="2" height="4.1" fill="rgba(140,140,140,0.92)"/>
<rect x="939" y="1007.0" width="2" height="26.8" fill="rgba(239,83,80,0.82)"/>
<path d="M938 1006.0h4v28.8h-4z M939 1007.0v26.8h2v-26.8z" fill="rgba(239,83,80,0.89)" fill-rule="evenodd"/>
<rect x="943" y="1040.1" width="2" height="7.0" fill="rgba(140,140,140,0.92)"/>
<rect x="943" y="1058.8" width="2" height="6.9" fill="rgba(140,140,140,0.92)"/>
<rect x="943" y="1048.1" width="2" height="9.7" fill="rgba(239,83,80,0.82)"/>
<path d="M942 1047.1h4v11.7h-4z M943 1048.1v9.7h2v-9.7z" fill="rgba(239,83,80,0.89)" fill-rule="evenodd"/>
<rect x="948" y="1040.1" width="2" height="8.0" fill="rgba(140,140,140,0.92)"/>
<rect x="948" y="1052.7" width="2" height="8.9" fill="rgba(140,140,140,0.92)"/>
<rect x="948" y="1049.1" width="2" height="2.6" fill="rgba(38,166,154,0.84)"/>
<path d="M947 1048.1h4v4.6h-4z M948 1049.1v2.6h2v-2.6z" fill="rgba(38,166,154,0.90)" fill-rule="evenodd"/>
<rect x="952" y="1045.1" width="2" height="3.0" fill="rgba(140,140,140,0.92)"/>
<rect x="952" y="1052.7" width="2" height="0.9" fill="rgba(140,140,140,0.92)"/>
<rect x="952" y="1049.1" width="2" height="2.6" fill="rgba(38,166,154,0.84)"/>
<path d="M951 1048.1h4v4.6h-4z M952 1049.1v2.6h2v-2.6z" fill="rgba(38,166,154,0.90)" fill-rule="evenodd"/>
<rect x="957" y="1047.1" width="2" height="5.0" fill="rgba(140,140,140,0.92)"/>
<rect x="957" y="1057.8" width="2" height="3.8" fill="rgba(140,140,140,0.92)"/>
<rect x="957" y="1053.1" width="2" height="3.7" fill="rgba(239,83,80,0.82)"/>
<path d="M956 1052.1h4v5.7h-4z M957 1053.1v3.7h2v-3.7z" fill="rgba(239,83,80,0.89)" fill-rule="evenodd"/>
<rect x="961" y="1055.2" width="2" height="14.1" fill="rgba(140,140,140,0.92)"/>
<rect x="961" y="1084.7" width="2" height="7.0" fill="rgba(140,140,140,0.92)"/>
<rect x="961" y="1070.3" width="2" height="13.4" fill="rgba(239,83,80,0.82)"/>
<path d="M960 1069.3h4v15.4h-4z M961 1070.3v13.4h2v-13.4z" fill="rgba(239,83,80,0.89)" fill-rule="evenodd"/>
<rect x="966" y="1079.2" width="2" height="16.0" fill="rgba(140,140,140,0.92)"/>
<rect x="966" y="1112.9" width="2" height="15.8" fill="rgba(140,140,140,0.92)"/>
<rect x="966" y="1096.2" width="2" height="15.7" fill="rgba(38,166,154,0.84)"/>
<path d="M965 1095.2h4v17.7h-4z M966 1096.2v15.7h2v-15.7z" fill="rgba(38,166,154,0.90)" fill-rule="evenodd"/>
<rect x="971" y="1036.1" width="2" height="21.0" fill="rgba(140,140,140,0.92)"/>
<rect x="971" y="1085.8" width="2" height="23.1" fill="rgba(140,140,140,0.92)"/>
<rect x="971" y="1058.1" width="2" height="26.7" fill="rgba(38,166,154,0.84)"/>
<path d="M970 1057.1h4v28.7h-4z M971 1058.1v26.7h2v-26.7z" fill="rgba(38,166,154,0.90)" fill-rule="evenodd"/>
<rect x="975" y="1040.1" width="2" height="10.1" fill="rgba(140,140,140,0.92)"/>
<rect x="975" y="1053.8" width="2" height="2.9" fill="rgba(140,140,140,0.92)"/>
<rect x="975" y="1051.2" width="2" height="1.6" fill="rgba(239,83,80,0.82)"/>
<path d="M974 1050.2h4v3.6h-4z M975 1051.2v1.6h2v-1.6z" fill="rgba(239,83,80,0.89)" fill-rule="evenodd"/>
<rect x="980" y="1052.1" width="2" height="3.2" fill="rgba(140,140,140,0.92)"/>
<rect x="980" y="1059.7" width="2" height="3.1" fill="rgba(140,140,140,0.92)"/>
<rect x="980" y="1056.3" width="2" height="2.4" fill="rgba(239,83,80,0.82)"/>
<path d="M979 1055.3h4v4.4h-4z M980 1056.3v2.4h2v-2.4z" fill="rgba(239,83,80,0.89)" fill-rule="evenodd"/>
<rect x="984" y="1037.2" width="2" height="10.9" fill="rgba(140,140,140,0.92)"/>
<rect x="984" y="1055.8" width="2" height="7.7" fill="rgba(140,140,140,0.92)"/>
<rect x="984" y="1049.1" width="2" height="5.7" fill="rgba(38,166,154,0.84)"/>
<path d="M983 1048.1h4v7.7h-4z M984 1049.1v5.7h2v-5.7z" fill="rgba(38,166,154,0.90)" fill-rule="evenodd"/>
<rect x="989" y="1034.2" width="2" height="5.9" fill="rgba(140,140,140,0.92)"/>
<rect x="989" y="1044.5" width="2" height="7.2" fill="rgba(140,140,140,0.92)"/>
<rect x="989" y="1041.1" width="2" height="2.4" fill="rgba(239,83,80,0.82)"/>
<path d="M988 1040.1h4v4.4h-4z M989 1041.1v2.4h2v-2.4z" fill="rgba(239,83,80,0.89)" fill-rule="evenodd"/>
<rect x="993" y="1039.1" width="2" height="2.9" fill="rgba(140,140,140,0.92)"/>
<rect x="993" y="1047.7" width="2" height="2.0" fill="rgba(140,140,140,0.92)"/>
<rect x="993" y="1043.0" width="2" height="3.7" fill="rgba(239,83,80,0.82)"/>
<path d="M992 1042.0h4v5.7h-4z M993 1043.0v3.7h2v-3.7z" fill="rgba(239,83,80,0.89)" fill-rule="evenodd"/>
<rect x="998" y="1052.3" width="2" height="0.9" fill="rgba(140,140,140,0.92)"/>
<rect x="998" y="1054.2" width="2" height="3.2" fill="rgba(239,83,80,0.82)"/>
<path d="M997 1053.2h4v5.2h-4z M998 1054.2v3.2h2v-3.2z" fill="rgba(239,83,80,0.89)" fill-rule="evenodd"/>
<rect x="1003" y="1056.3" width="2" height="2.1" fill="rgba(140,140,140,0.92)"/>
<rect x="1003" y="1059.4" width="2" height="1.2" fill="rgba(239,83,80,0.82)"/>
<path d="M1002 1058.4h4v3.2h-4z M1003 1059.4v1.2h2v-1.2z" fill="rgba(239,83,80,0.89)" fill-rule="evenodd"/>
<rect x="1007" y="1040.1" width="2" height="6.1" fill="rgba(140,140,140,0.92)"/>
<rect x="1007" y="1047.7" width="2" height="5.0" fill="rgba(140,140,140,0.92)"/>
<rect x="1006" y="1046.2" width="4" height="1.5" fill="rgba(239,83,80,0.89)"/>
<rect x="1012" y="1042.2" width="2" height="3.0" fill="rgba(140,140,140,0.92)"/>
<rect x="1012" y="1046.2" width="2" height="3.4" fill="rgba(239,83,80,0.82)"/>
<path d="M1011 1045.2h4v5.4h-4z M1012 1046.2v3.4h2v-3.4z" fill="rgba(239,83,80,0.89)" fill-rule="evenodd"/>
<rect x="1016" y="1041.3" width="2" height="2.8" fill="rgba(140,140,140,0.92)"/>
<rect x="1016" y="1049.7" width="2" height="2.0" fill="rgba(140,140,140,0.92)"/>
<rect x="1016" y="1045.1" width="2" height="3.6" fill="rgba(239,83,80,0.82)"/>
<path d="M1015 1044.1h4v5.6h-4z M1016 1045.1v3.6h2v-3.6z" fill="rgba(239,83,80,0.89)" fill-rule="evenodd"/>
<rect x="1021" y="1055.2" width="2" height="8.7" fill="rgba(239,83,80,0.82)"/>
<path d="M1020 1054.2h4v10.7h-4z M1021 1055.2v8.7h2v-8.7z" fill="rgba(239,83,80,0.89)" fill-rule="evenodd"/>
<rect x="1025" y="1038.2" width="2" height="3.9" fill="rgba(140,140,140,0.92)"/>
<rect x="1025" y="1048.8" width="2" height="8.9" fill="rgba(140,140,140,0.92)"/>
<rect x="1025" y="1043.1" width="2" height="4.7" fill="rgba(38,166,154,0.84)"/>
<path d="M1024 1042.1h4v6.7h-4z M1025 1043.1v4.7h2v-4.7z" fill="rgba(38,166,154,0.90)" fill-rule="evenodd"/>
<rect x="1030" y="1009.1" width="2" height="6.0" fill="rgba(140,140,140,0.92)"/>
<rect x="1030" y="1052.7" width="2" height="5.0" fill="rgba(140,140,140,0.92)"/>
<rect x="1030" y="1016.1" width="2" height="35.6" fill="rgba(239,83,80,0.82)"/>
<path d="M1029 1015.1h4v37.6h-4z M1030 1016.1v35.6h2v-35.6z" fill="rgba(239,83,80,0.89)" fill-rule="evenodd"/>
<rect x="1035" y="1031.2" width="2" height="2.9" fill="rgba(140,140,140,0.92)"/>
<rect x="1035" y="1048.8" width="2" height="4.9" fill="rgba(140,140,140,0.92)"/>
<rect x="1035" y="1035.1" width="2" height="12.7" fill="rgba(38,166,154,0.84)"/>
<path d="M1034 1034.1h4v14.7h-4z M1035 1035.1v12.7h2v-12.7z" fill="rgba(38,166,154,0.90)" fill-rule="evenodd"/>
<rect x="1039" y="1044.2" width="2" height="5.0" fill="rgba(140,140,140,0.92)"/>
<rect x="1039" y="1050.7" width="2" height="10.9" fill="rgba(140,140,140,0.92)"/>
<rect x="1038" y="1049.2" width="4" height="1.5" fill="rgba(239,83,80,0.89)"/>
<rect x="1044" y="1052.1" width="2" height="4.9" fill="rgba(140,140,140,0.92)"/>
<rect x="1044" y="1058.5" width="2" height="6.1" fill="rgba(140,140,140,0.92)"/>
<rect x="1043" y="1057.0" width="4" height="1.5" fill="rgba(239,83,80,0.89)"/>
<rect x="1048" y="1054.0" width="2" height="2.1" fill="rgba(140,140,140,0.92)"/>
<rect x="1048" y="1058.8" width="2" height="3.7" fill="rgba(140,140,140,0.92)"/>
<rect x="1047" y="1056.1" width="4" height="2.7" fill="rgba(239,83,80,0.89)"/>
<rect x="1053" y="1062.5" width="2" height="0.7" fill="rgba(140,140,140,0.92)"/>
<rect x="1053" y="1064.7" width="2" height="0.8" fill="rgba(140,140,140,0.92)"/>
<rect x="1052" y="1063.2" width="4" height="1.5" fill="rgba(239,83,80,0.89)"/>
<rect x="1057" y="1039.3" width="2" height="0.6" fill="rgba(140,140,140,0.92)"/>
<rect x="1057" y="1050.9" width="2" height="0.8" fill="rgba(140,140,140,0.92)"/>
<rect x="1057" y="1040.9" width="2" height="9.0" fill="rgba(38,166,154,0.84)"/>
<path d="M1056 1039.9h4v11.0h-4z M1057 1040.9v9.0h2v-9.0z" fill="rgba(38,166,154,0.90)" fill-rule="evenodd"/>
<rect x="1062" y="1030.2" width="2" height="3.0" fill="rgba(140,140,140,0.92)"/>
<rect x="1062" y="1036.0" width="2" height="1.7" fill="rgba(140,140,140,0.92)"/>
<rect x="1061" y="1033.2" width="4" height="2.8" fill="rgba(38,166,154,0.90)"/>
<rect x="1066" y="1029.1" width="2" height="1.2" fill="rgba(140,140,140,0.92)"/>
<rect x="1066" y="1031.8" width="2" height="1.9" fill="rgba(140,140,140,0.92)"/>
<rect x="1065" y="1030.3" width="4" height="1.5" fill="rgba(239,83,80,0.89)"/>
<rect x="1071" y="1029.3" width="2" height="1.0" fill="rgba(140,140,140,0.92)"/>
<rect x="1071" y="1031.8" width="2" height="0.8" fill="rgba(140,140,140,0.92)"/>
<rect x="1070" y="1030.3" width="4" height="1.5" fill="rgba(239,83,80,0.89)"/>
<rect x="1076" y="1019.0" width="2" height="2.2" fill="rgba(140,140,140,0.92)"/>
<rect x="1076" y="1022.7" width="2" height="2.0" fill="rgba(140,140,140,0.92)"/>
<rect x="1075" y="1021.2" width="4" height="1.5" fill="rgba(38,166,154,0.90)"/>
<rect x="1080" y="1027.1" width="2" height="2.2" fill="rgba(140,140,140,0.92)"/>
<rect x="1080" y="1030.8" width="2" height="4.1" fill="rgba(140,140,140,0.92)"/>
<rect x="1079" y="1029.3" width="4" height="1.5" fill="rgba(239,83,80,0.89)"/>
<rect x="1085" y="1039.3" width="2" height="0.6" fill="rgba(140,140,140,0.92)"/>
<rect x="1085" y="1040.9" width="2" height="6.0" fill="rgba(239,83,80,0.82)"/>
<path d="M1084 1039.9h4v8.0h-4z M1085 1040.9v6.0h2v-6.0z" fill="rgba(239,83,80,0.89)" fill-rule="evenodd"/>
<rect x="1089" y="1048.2" width="2" height="2.9" fill="rgba(140,140,140,0.92)"/>
<rect x="1089" y="1054.9" width="2" height="2.7" fill="rgba(140,140,140,0.92)"/>
<rect x="1089" y="1052.1" width="2" height="1.8" fill="rgba(38,166,154,0.84)"/>
<path d="M1088 1051.1h4v3.8h-4z M1089 1052.1v1.8h2v-1.8z" fill="rgba(38,166,154,0.90)" fill-rule="evenodd"/>
<rect x="1094" y="1060.1" width="2" height="3.0" fill="rgba(140,140,140,0.92)"/>
<rect x="1094" y="1072.9" width="2" height="1.8" fill="rgba(140,140,140,0.92)"/>
<rect x="1094" y="1064.1" width="2" height="7.8" fill="rgba(38,166,154,0.84)"/>
<path d="M1093 1063.1h4v9.8h-4z M1094 1064.1v7.8h2v-7.8z" fill="rgba(38,166,154,0.90)" fill-rule="evenodd"/>
<rect x="1098" y="1054.3" width="2" height="1.8" fill="rgba(140,140,140,0.92)"/>
<rect x="1098" y="1059.8" width="2" height="1.8" fill="rgba(140,140,140,0.92)"/>
<rect x="1098" y="1057.1" width="2" height="1.7" fill="rgba(38,166,154,0.84)"/>
<path d="M1097 1056.1h4v3.7h-4z M1098 1057.1v1.7h2v-1.7z" fill="rgba(38,166,154,0.90)" fill-rule="evenodd"/>
<rect x="1103" y="1057.3" width="2" height="6.7" fill="rgba(140,140,140,0.92)"/>
<rect x="1103" y="1067.7" width="2" height="7.0" fill="rgba(140,140,140,0.92)"/>
<rect x="1103" y="1065.0" width="2" height="1.7" fill="rgba(38,166,154,0.84)"/>
<path d="M1102 1064.0h4v3.7h-4z M1103 1065.0v1.7h2v-1.7z" fill="rgba(38,166,154,0.90)" fill-rule="evenodd"/>
<rect x="1108" y="1067.4" width="2" height="0.8" fill="rgba(140,140,140,0.92)"/>
<rect x="1108" y="1069.8" width="2" height="2.8" fill="rgba(140,140,140,0.92)"/>
<rect x="1107" y="1068.2" width="4" height="1.6" fill="rgba(239,83,80,0.89)"/>
<rect x="1112" y="1064.1" width="2" height="1.9" fill="rgba(140,140,140,0.92)"/>
<rect x="1112" y="1068.9" width="2" height="0.6" fill="rgba(140,140,140,0.92)"/>
<rect x="1111" y="1066.0" width="4" height="2.9" fill="rgba(38,166,154,0.90)"/>
<rect x="1117" y="1051.1" width="2" height="3.2" fill="rgba(140,140,140,0.92)"/>
<rect x="1117" y="1056.7" width="2" height="5.2" fill="rgba(140,140,140,0.92)"/>
<rect x="1116" y="1054.3" width="4" height="2.4" fill="rgba(38,166,154,0.90)"/>
<rect x="1121" y="1045.1" width="2" height="0.9" fill="rgba(140,140,140,0.92)"/>
<rect x="1121" y="1047.0" width="2" height="5.7" fill="rgba(38,166,154,0.84)"/>
<path d="M1120 1046.0h4v7.7h-4z M1121 1047.0v5.7h2v-5.7z" fill="rgba(38,166,154,0.90)" fill-rule="evenodd"/>
<rect x="1126" y="1026.2" width="2" height="0.6" fill="rgba(140,140,140,0.92)"/>
<rect x="1126" y="1027.8" width="2" height="8.1" fill="rgba(38,166,154,0.84)"/>
<path d="M1125 1026.8h4v10.1h-4z M1126 1027.8v8.1h2v-8.1z" fill="rgba(38,166,154,0.90)" fill-rule="evenodd"/>
<rect x="1130" y="1015.2" width="2" height="1.9" fill="rgba(140,140,140,0.92)"/>
<rect x="1130" y="1018.1" width="2" height="6.5" fill="rgba(38,166,154,0.84)"/>
<path d="M1129 1017.1h4v8.5h-4z M1130 1018.1v6.5h2v-6.5z" fill="rgba(38,166,154,0.90)" fill-rule="evenodd"/>
<rect x="1135" y="1013.3" width="2" height="1.0" fill="rgba(140,140,140,0.92)"/>
<rect x="1135" y="1015.8" width="2" height="2.0" fill="rgba(140,140,140,0.92)"/>
<rect x="1134" y="1014.2" width="4" height="1.5" fill="rgba(38,166,154,0.90)"/>
<rect x="1140" y="1010.2" width="2" height="1.0" fill="rgba(140,140,140,0.92)"/>
<rect x="1140" y="1012.8" width="2" height="4.0" fill="rgba(140,140,140,0.92)"/>
<rect x="1139" y="1011.2" width="4" height="1.5" fill="rgba(38,166,154,0.90)"/>
<rect x="1144" y="1012.2" width="2" height="3.0" fill="rgba(140,140,140,0.92)"/>
<rect x="1144" y="1018.6" width="2" height="6.1" fill="rgba(140,140,140,0.92)"/>
<rect x="1144" y="1016.2" width="2" height="1.4" fill="rgba(38,166,154,0.84)"/>
<path d="M1143 1015.2h4v3.4h-4z M1144 1016.2v1.4h2v-1.4z" fill="rgba(38,166,154,0.90)" fill-rule="evenodd"/>
<rect x="1149" y="1008.2" width="2" height="4.0" fill="rgba(140,140,140,0.92)"/>
<rect x="1149" y="1017.7" width="2" height="3.0" fill="rgba(140,140,140,0.92)"/>
<rect x="1149" y="1013.2" width="2" height="3.5" fill="rgba(38,166,154,0.84)"/>
<path d="M1148 1012.2h4v5.5h-4z M1149 1013.2v3.5h2v-3.5z" fill="rgba(38,166,154,0.90)" fill-rule="evenodd"/>
<rect x="1153" y="1008.2" width="2" height="2.0" fill="rgba(140,140,140,0.92)"/>
<rect x="1153" y="1013.7" width="2" height="3.1" fill="rgba(140,140,140,0.92)"/>
<rect x="1153" y="1011.2" width="2" height="1.5" fill="rgba(38,166,154,0.84)"/>
<path d="M1152 1010.2h4v3.5h-4z M1153 1011.2v1.5h2v-1.5z" fill="rgba(38,166,154,0.90)" fill-rule="evenodd"/>
<rect x="1158" y="1002.1" width="2" height="1.1" fill="rgba(140,140,140,0.92)"/>
<rect x="1158" y="1011.9" width="2" height="1.8" fill="rgba(140,140,140,0.92)"/>
<rect x="1158" y="1004.2" width="2" height="6.7" fill="rgba(38,166,154,0.84)"/>
<path d="M1157 1003.2h4v8.7h-4z M1158 1004.2v6.7h2v-6.7z" fill="rgba(38,166,154,0.90)" fill-rule="evenodd"/>
<rect x="1162" y="996.3" width="2" height="1.9" fill="rgba(140,140,140,0.92)"/>
<rect x="1162" y="999.2" width="2" height="4.6" fill="rgba(38,166,154,0.84)"/>
<path d="M1161 998.2h4v6.6h-4z M1162 999.2v4.6h2v-4.6z" fill="rgba(38,166,154,0.90)" fill-rule="evenodd"/>
<rect x="1167" y="1001.8" width="2" height="0.9" fill="rgba(140,140,140,0.92)"/>
<rect x="1166" y="1000.1" width="4" height="1.7" fill="rgba(38,166,154,0.90)"/>
<rect x="1172" y="994.2" width="2" height="0.9" fill="rgba(140,140,140,0.92)"/>
<rect x="1172" y="996.1" width="2" height="1.6" fill="rgba(38,166,154,0.84)"/>
<path d="M1171 995.1h4v3.6h-4z M1172 996.1v1.6h2v-1.6z" fill="rgba(38,166,154,0.90)" fill-rule="evenodd"/>
<rect x="1176" y="992.4" width="2" height="0.8" fill="rgba(140,140,140,0.92)"/>
<rect x="1176" y="994.8" width="2" height="1.8" fill="rgba(140,140,140,0.92)"/>
<rect x="1175" y="993.2" width="4" height="1.6" fill="rgba(38,166,154,0.90)"/>
<rect x="1181" y="990.1" width="2" height="0.9" fill="rgba(140,140,140,0.92)"/>
<rect x="1181" y="992.7" width="2" height="0.9" fill="rgba(140,140,140,0.92)"/>
<rect x="1180" y="991.0" width="4" height="1.7" fill="rgba(38,166,154,0.90)"/>
<rect x="1185" y="1000.1" width="2" height="2.0" fill="rgba(140,140,140,0.92)"/>
<rect x="1185" y="1006.7" width="2" height="0.9" fill="rgba(140,140,140,0.92)"/>
<rect x="1185" y="1003.1" width="2" height="2.6" fill="rgba(239,83,80,0.82)"/>
<path d="M1184 1002.1h4v4.6h-4z M1185 1003.1v2.6h2v-2.6z" fill="rgba(239,83,80,0.89)" fill-rule="evenodd"/>
<rect x="1190" y="998.3" width="2" height="1.4" fill="rgba(38,166,154,0.84)"/>
<path d="M1189 997.3h4v3.4h-4z M1190 998.3v1.4h2v-1.4z" fill="rgba(38,166,154,0.90)" fill-rule="evenodd"/>
<rect x="1194" y="989.8" width="2" height="2.0" fill="rgba(140,140,140,0.92)"/>
<rect x="1193" y="988.1" width="4" height="1.7" fill="rgba(38,166,154,0.90)"/>
<rect x="1199" y="996.6" width="2" height="2.2" fill="rgba(140,140,140,0.92)"/>
<rect x="1198" y="995.1" width="4" height="1.5" fill="rgba(239,83,80,0.89)"/>
<rect x="1204" y="996.2" width="2" height="2.0" fill="rgba(140,140,140,0.92)"/>
<rect x="1204" y="999.8" width="2" height="3.0" fill="rgba(140,140,140,0.92)"/>
<rect x="1203" y="998.2" width="4" height="1.5" fill="rgba(38,166,154,0.90)"/>
<rect x="1208" y="992.7" width="2" height="0.9" fill="rgba(140,140,140,0.92)"/>
<rect x="1207" y="991.2" width="4" height="1.5" fill="rgba(38,166,154,0.90)"/>
<rect x="1213" y="986.3" width="2" height="0.8" fill="rgba(140,140,140,0.92)"/>
<rect x="1213" y="988.1" width="2" height="1.7" fill="rgba(38,166,154,0.84)"/>
<path d="M1212 987.1h4v3.7h-4z M1213 988.1v1.7h2v-1.7z" fill="rgba(38,166,154,0.90)" fill-rule="evenodd"/>
<rect x="1217" y="984.7" width="2" height="2.0" fill="rgba(140,140,140,0.92)"/>
<rect x="1216" y="983.2" width="4" height="1.5" fill="rgba(38,166,154,0.90)"/>
<rect x="1222" y="978.1" width="2" height="0.9" fill="rgba(140,140,140,0.92)"/>
<rect x="1222" y="980.0" width="2" height="1.7" fill="rgba(38,166,154,0.84)"/>
<path d="M1221 979.0h4v3.7h-4z M1222 980.0v1.7h2v-1.7z" fill="rgba(38,166,154,0.90)" fill-rule="evenodd"/>
<rect x="1226" y="976.7" width="2" height="2.1" fill="rgba(140,140,140,0.92)"/>
<rect x="1225" y="975.0" width="4" height="1.7" fill="rgba(38,166,154,0.90)"/>
<rect x="1231" y="976.2" width="2" height="2.1" fill="rgba(140,140,140,0.92)"/>
<rect x="1231" y="979.8" width="2" height="1.9" fill="rgba(140,140,140,0.92)"/>
<rect x="1230" y="978.3" width="4" height="1.5" fill="rgba(239,83,80,0.89)"/>
<rect x="1236" y="978.1" width="2" height="0.9" fill="rgba(140,140,140,0.92)"/>
<rect x="1236" y="980.0" width="2" height="3.6" fill="rgba(38,166,154,0.84)"/>
<path d="M1235 979.0h4v5.6h-4z M1236 980.0v3.6h2v-3.6z" fill="rgba(38,166,154,0.90)" fill-rule="evenodd"/>
<rect x="1240" y="977.0" width="2" height="4.5" fill="rgba(38,166,154,0.84)"/>
<path d="M1239 976.0h4v6.5h-4z M1240 977.0v4.5h2v-4.5z" fill="rgba(38,166,154,0.90)" fill-rule="evenodd"/>
<rect x="1245" y="987.2" width="2" height="7.8" fill="rgba(140,140,140,0.92)"/>
<rect x="1245" y="1003.8" width="2" height="7.9" fill="rgba(140,140,140,0.92)"/>
<rect x="1245" y="996.0" width="2" height="6.8" fill="rgba(239,83,80,0.82)"/>
<path d="M1244 995.0h4v8.8h-4z M1245 996.0v6.8h2v-6.8z" fill="rgba(239,83,80,0.89)" fill-rule="evenodd"/>
<rect x="1249" y="1012.2" width="2" height="5.9" fill="rgba(140,140,140,0.92)"/>
<rect x="1249" y="1035.7" width="2" height="7.9" fill="rgba(140,140,140,0.92)"/>
<rect x="1249" y="1019.1" width="2" height="15.6" fill="rgba(239,83,80,0.82)"/>
<path d="M1248 1018.1h4v17.6h-4z M1249 1019.1v15.6h2v-15.6z" fill="rgba(239,83,80,0.89)" fill-rule="evenodd"/>
<rect x="1254" y="1034.1" width="2" height="10.0" fill="rgba(140,140,140,0.92)"/>
<rect x="1254" y="1054.9" width="2" height="4.8" fill="rgba(140,140,140,0.92)"/>
<rect x="1254" y="1045.1" width="2" height="8.8" fill="rgba(239,83,80,0.82)"/>
<path d="M1253 1044.1h4v10.8h-4z M1254 1045.1v8.8h2v-8.8z" fill="rgba(239,83,80,0.89)" fill-rule="evenodd"/>
<rect x="1258" y="1048.0" width="2" height="4.0" fill="rgba(140,140,140,0.92)"/>
<rect x="1258" y="1055.9" width="2" height="3.8" fill="rgba(140,140,140,0.92)"/>
<rect x="1258" y="1053.0" width="2" height="1.9" fill="rgba(38,166,154,0.84)"/>
<path d="M1257 1052.0h4v3.9h-4z M1258 1053.0v1.9h2v-1.9z" fill="rgba(38,166,154,0.90)" fill-rule="evenodd"/>
<rect x="1263" y="1033.2" width="2" height="4.8" fill="rgba(140,140,140,0.92)"/>
<rect x="1263" y="1048.3" width="2" height="0.4" fill="rgba(140,140,140,0.92)"/>
<rect x="1263" y="1039.0" width="2" height="8.3" fill="rgba(38,166,154,0.84)"/>
<path d="M1262 1038.0h4v10.3h-4z M1263 1039.0v8.3h2v-8.3z" fill="rgba(38,166,154,0.90)" fill-rule="evenodd"/>
<rect x="1268" y="1035.2" width="2" height="1.9" fill="rgba(140,140,140,0.92)"/>
<rect x="1268" y="1038.1" width="2" height="1.6" fill="rgba(38,166,154,0.84)"/>
<path d="M1267 1037.1h4v3.6h-4z M1268 1038.1v1.6h2v-1.6z" fill="rgba(38,166,154,0.90)" fill-rule="evenodd"/>
<rect x="1272" y="1025.2" width="2" height="6.9" fill="rgba(140,140,140,0.92)"/>
<rect x="1272" y="1033.8" width="2" height="4.0" fill="rgba(140,140,140,0.92)"/>
<rect x="1271" y="1032.1" width="4" height="1.7" fill="rgba(38,166,154,0.90)"/>
<rect x="1277" y="1017.2" width="2" height="0.7" fill="rgba(140,140,140,0.92)"/>
<rect x="1277" y="1029.2" width="2" height="0.7" fill="rgba(140,140,140,0.92)"/>
<rect x="1277" y="1018.9" width="2" height="9.3" fill="rgba(38,166,154,0.84)"/>
<path d="M1276 1017.9h4v11.3h-4z M1277 1018.9v9.3h2v-9.3z" fill="rgba(38,166,154,0.90)" fill-rule="evenodd"/>
<rect x="1281" y="997.1" width="2" height="1.9" fill="rgba(140,140,140,0.92)"/>
<rect x="1281" y="1012.4" width="2" height="0.5" fill="rgba(140,140,140,0.92)"/>
<rect x="1281" y="1000.0" width="2" height="11.4" fill="rgba(38,166,154,0.84)"/>
<path d="M1280 999.0h4v13.4h-4z M1281 1000.0v11.4h2v-11.4z" fill="rgba(38,166,154,0.90)" fill-rule="evenodd"/>
<rect x="1286" y="985.2" width="2" height="2.8" fill="rgba(140,140,140,0.92)"/>
<rect x="1286" y="996.9" width="2" height="4.0" fill="rgba(140,140,140,0.92)"/>
<rect x="1286" y="989.0" width="2" height="6.9" fill="rgba(38,166,154,0.84)"/>
<path d="M1285 988.0h4v8.9h-4z M1286 989.0v6.9h2v-6.9z" fill="rgba(38,166,154,0.90)" fill-rule="evenodd"/>
<rect x="1290" y="984.1" width="2" height="2.1" fill="rgba(140,140,140,0.92)"/>
<rect x="1290" y="987.8" width="2" height="3.0" fill="rgba(140,140,140,0.92)"/>
<rect x="1289" y="986.2" width="4" height="1.5" fill="rgba(239,83,80,0.89)"/>
<rect x="1295" y="991.3" width="2" height="1.9" fill="rgba(140,140,140,0.92)"/>
<rect x="1295" y="994.2" width="2" height="3.7" fill="rgba(239,83,80,0.82)"/>
<path d="M1294 993.2h4v5.7h-4z M1295 994.2v3.7h2v-3.7z" fill="rgba(239,83,80,0.89)" fill-rule="evenodd"/>
<rect x="1300" y="995.2" width="2" height="3.9" fill="rgba(140,140,140,0.92)"/>
<rect x="1300" y="1000.6" width="2" height="4.1" fill="rgba(140,140,140,0.92)"/>
<rect x="1299" y="999.1" width="4" height="1.5" fill="rgba(38,166,154,0.90)"/>
<rect x="1304" y="993.0" width="2" height="2.2" fill="rgba(140,140,140,0.92)"/>
<rect x="1304" y="1000.4" width="2" height="2.6" fill="rgba(140,140,140,0.92)"/>
<rect x="1304" y="996.2" width="2" height="3.2" fill="rgba(38,166,154,0.84)"/>
<path d="M1303 995.2h4v5.2h-4z M1304 996.2v3.2h2v-3.2z" fill="rgba(38,166,154,0.90)" fill-rule="evenodd"/>
<rect x="1309" y="993.0" width="2" height="3.3" fill="rgba(140,140,140,0.92)"/>
<rect x="1309" y="997.8" width="2" height="2.2" fill="rgba(140,140,140,0.92)"/>
<rect x="1308" y="996.3" width="4" height="1.5" fill="rgba(239,83,80,0.89)"/>
<rect x="1313" y="995.2" width="2" height="1.1" fill="rgba(140,140,140,0.92)"/>
<rect x="1313" y="997.8" width="2" height="1.3" fill="rgba(140,140,140,0.92)"/>
<rect x="1312" y="996.3" width="4" height="1.5" fill="rgba(38,166,154,0.90)"/>
<rect x="1318" y="996.1" width="2" height="2.8" fill="rgba(140,140,140,0.92)"/>
<rect x="1318" y="1000.4" width="2" height="0.4" fill="rgba(140,140,140,0.92)"/>
<rect x="1317" y="998.9" width="4" height="1.5" fill="rgba(38,166,154,0.90)"/>
<rect x="1322" y="979.9" width="2" height="2.2" fill="rgba(140,140,140,0.92)"/>
<rect x="1322" y="983.9" width="2" height="4.0" fill="rgba(140,140,140,0.92)"/>
<rect x="1321" y="982.1" width="4" height="1.8" fill="rgba(38,166,154,0.90)"/>
<rect x="1327" y="981.0" width="2" height="0.9" fill="rgba(140,140,140,0.92)"/>
<rect x="1327" y="982.9" width="2" height="2.9" fill="rgba(38,166,154,0.84)"/>
<path d="M1326 981.9h4v4.9h-4z M1327 982.9v2.9h2v-2.9z" fill="rgba(38,166,154,0.90)" fill-rule="evenodd"/>
<rect x="1332" y="985.2" width="2" height="0.9" fill="rgba(140,140,140,0.92)"/>
<rect x="1332" y="987.9" width="2" height="1.0" fill="rgba(140,140,140,0.92)"/>
<rect x="1331" y="986.1" width="4" height="1.8" fill="rgba(239,83,80,0.89)"/>
<rect x="1336" y="979.9" width="2" height="8.0" fill="rgba(140,140,140,0.92)"/>
<rect x="1336" y="1000.5" width="2" height="3.5" fill="rgba(140,140,140,0.92)"/>
<rect x="1336" y="988.9" width="2" height="10.6" fill="rgba(38,166,154,0.84)"/>
<path d="M1335 987.9h4v12.6h-4z M1336 988.9v10.6h2v-10.6z" fill="rgba(38,166,154,0.90)" fill-rule="evenodd"/>
<rect x="1341" y="978.1" width="2" height="1.8" fill="rgba(140,140,140,0.92)"/>
<rect x="1341" y="995.2" width="2" height="2.6" fill="rgba(140,140,140,0.92)"/>
<rect x="1341" y="980.9" width="2" height="13.3" fill="rgba(38,166,154,0.84)"/>
<path d="M1340 979.9h4v15.3h-4z M1341 980.9v13.3h2v-13.3z" fill="rgba(38,166,154,0.90)" fill-rule="evenodd"/>
<rect x="1345" y="933.1" width="2" height="5.9" fill="rgba(140,140,140,0.92)"/>
<rect x="1345" y="968.0" width="2" height="0.9" fill="rgba(140,140,140,0.92)"/>
<rect x="1345" y="940.0" width="2" height="27.0" fill="rgba(38,166,154,0.84)"/>
<path d="M1344 939.0h4v29.0h-4z M1345 940.0v27.0h2v-27.0z" fill="rgba(38,166,154,0.90)" fill-rule="evenodd"/>
<rect x="1350" y="924.0" width="2" height="4.0" fill="rgba(140,140,140,0.92)"/>
<rect x="1350" y="934.0" width="2" height="2.9" fill="rgba(140,140,140,0.92)"/>
<rect x="1350" y="929.0" width="2" height="4.0" fill="rgba(38,166,154,0.84)"/>
<path d="M1349 928.0h4v6.0h-4z M1350 929.0v4.0h2v-4.0z" fill="rgba(38,166,154,0.90)" fill-rule="evenodd"/>
<rect x="1354" y="938.0" width="2" height="3.2" fill="rgba(140,140,140,0.92)"/>
<rect x="1354" y="942.8" width="2" height="13.2" fill="rgba(140,140,140,0.92)"/>
<rect x="1353" y="941.2" width="4" height="1.6" fill="rgba(38,166,154,0.90)"/>
<rect x="1359" y="933.1" width="2" height="20.8" fill="rgba(140,140,140,0.92)"/>
<rect x="1359" y="960.0" width="2" height="19.9" fill="rgba(140,140,140,0.92)"/>
<rect x="1359" y="954.9" width="2" height="4.1" fill="rgba(38,166,154,0.84)"/>
<path d="M1358 953.9h4v6.1h-4z M1359 954.9v4.1h2v-4.1z" fill="rgba(38,166,154,0.90)" fill-rule="evenodd"/>
<rect x="1363" y="942.1" width="2" height="7.2" fill="rgba(140,140,140,0.92)"/>
<rect x="1363" y="950.8" width="2" height="8.1" fill="rgba(140,140,140,0.92)"/>
<rect x="1362" y="949.3" width="4" height="1.5" fill="rgba(239,83,80,0.89)"/>
<rect x="1368" y="946.1" width="2" height="6.0" fill="rgba(140,140,140,0.92)"/>
<rect x="1368" y="955.0" width="2" height="3.9" fill="rgba(140,140,140,0.92)"/>
<rect x="1367" y="952.1" width="4" height="2.9" fill="rgba(239,83,80,0.89)"/>
<rect x="1373" y="934.1" width="2" height="3.8" fill="rgba(140,140,140,0.92)"/>
<rect x="1373" y="944.0" width="2" height="2.9" fill="rgba(140,140,140,0.92)"/>
<rect x="1373" y="938.9" width="2" height="4.1" fill="rgba(38,166,154,0.84)"/>
<path d="M1372 937.9h4v6.1h-4z M1373 938.9v4.1h2v-4.1z" fill="rgba(38,166,154,0.90)" fill-rule="evenodd"/>
<rect x="1377" y="936.0" width="2" height="2.2" fill="rgba(140,140,140,0.92)"/>
<rect x="1377" y="939.8" width="2" height="3.0" fill="rgba(140,140,140,0.92)"/>
<rect x="1376" y="938.2" width="4" height="1.6" fill="rgba(239,83,80,0.89)"/>
<rect x="1382" y="934.1" width="2" height="4.9" fill="rgba(140,140,140,0.92)"/>
<rect x="1382" y="946.9" width="2" height="7.0" fill="rgba(140,140,140,0.92)"/>
<rect x="1382" y="940.0" width="2" height="5.9" fill="rgba(38,166,154,0.84)"/>
<path d="M1381 939.0h4v7.9h-4z M1382 940.0v5.9h2v-5.9z" fill="rgba(38,166,154,0.90)" fill-rule="evenodd"/>
<rect x="1386" y="933.2" width="2" height="2.9" fill="rgba(140,140,140,0.92)"/>
<rect x="1386" y="948.8" width="2" height="0.7" fill="rgba(140,140,140,0.92)"/>
<rect x="1386" y="937.1" width="2" height="10.7" fill="rgba(38,166,154,0.84)"/>
<path d="M1385 936.1h4v12.7h-4z M1386 937.1v10.7h2v-10.7z" fill="rgba(38,166,154,0.90)" fill-rule="evenodd"/>
<rect x="1391" y="928.2" width="2" height="3.0" fill="rgba(140,140,140,0.92)"/>
<rect x="1391" y="936.9" width="2" height="10.0" fill="rgba(140,140,140,0.92)"/>
<rect x="1391" y="932.2" width="2" height="3.7" fill="rgba(38,166,154,0.84)"/>
<path d="M1390 931.2h4v5.7h-4z M1391 932.2v3.7h2v-3.7z" fill="rgba(38,166,154,0.90)" fill-rule="evenodd"/>
<rect x="1395" y="912.1" width="2" height="3.1" fill="rgba(140,140,140,0.92)"/>
<rect x="1395" y="916.8" width="2" height="5.0" fill="rgba(140,140,140,0.92)"/>
<rect x="1394" y="915.2" width="4" height="1.5" fill="rgba(239,83,80,0.89)"/>
<rect x="1400" y="913.1" width="2" height="1.0" fill="rgba(140,140,140,0.92)"/>
<rect x="1400" y="915.1" width="2" height="2.7" fill="rgba(38,166,154,0.84)"/>
<path d="M1399 914.1h4v4.7h-4z M1400 915.1v2.7h2v-2.7z" fill="rgba(38,166,154,0.90)" fill-rule="evenodd"/>
<rect x="1405" y="926.1" width="2" height="3.2" fill="rgba(140,140,140,0.92)"/>
<rect x="1405" y="932.9" width="2" height="3.8" fill="rgba(140,140,140,0.92)"/>
<rect x="1405" y="930.3" width="2" height="1.6" fill="rgba(239,83,80,0.82)"/>
<path d="M1404 929.3h4v3.6h-4z M1405 930.3v1.6h2v-1.6z" fill="rgba(239,83,80,0.89)" fill-rule="evenodd"/>
<rect x="1409" y="927.1" width="2" height="2.2" fill="rgba(140,140,140,0.92)"/>
<rect x="1409" y="932.9" width="2" height="1.8" fill="rgba(140,140,140,0.92)"/>
<rect x="1409" y="930.3" width="2" height="1.6" fill="rgba(38,166,154,0.84)"/>
<path d="M1408 929.3h4v3.6h-4z M1409 930.3v1.6h2v-1.6z" fill="rgba(38,166,154,0.90)" fill-rule="evenodd"/>
<rect x="1414" y="923.1" width="2" height="2.0" fill="rgba(140,140,140,0.92)"/>
<rect x="1414" y="928.9" width="2" height="4.0" fill="rgba(140,140,140,0.92)"/>
<rect x="1414" y="926.1" width="2" height="1.8" fill="rgba(38,166,154,0.84)"/>
<path d="M1413 925.1h4v3.8h-4z M1414 926.1v1.8h2v-1.8z" fill="rgba(38,166,154,0.90)" fill-rule="evenodd"/>
<rect x="1418" y="922.2" width="2" height="9.0" fill="rgba(140,140,140,0.92)"/>
<rect x="1418" y="945.9" width="2" height="8.9" fill="rgba(140,140,140,0.92)"/>
<rect x="1418" y="932.2" width="2" height="12.7" fill="rgba(239,83,80,0.82)"/>
<path d="M1417 931.2h4v14.7h-4z M1418 932.2v12.7h2v-12.7z" fill="rgba(239,83,80,0.89)" fill-rule="evenodd"/>
<rect x="1423" y="952.1" width="2" height="4.9" fill="rgba(140,140,140,0.92)"/>
<rect x="1423" y="1027.1" width="2" height="0.6" fill="rgba(140,140,140,0.92)"/>
<rect x="1423" y="958.0" width="2" height="68.1" fill="rgba(239,83,80,0.82)"/>
<path d="M1422 957.0h4v70.1h-4z M1423 958.0v68.1h2v-68.1z" fill="rgba(239,83,80,0.89)" fill-rule="evenodd"/>
<rect x="1427" y="1024.0" width="2" height="7.0" fill="rgba(140,140,140,0.92)"/>
<rect x="1427" y="1036.8" width="2" height="1.9" fill="rgba(140,140,140,0.92)"/>
<rect x="1427" y="1032.0" width="2" height="3.8" fill="rgba(239,83,80,0.82)"/>
<path d="M1426 1031.0h4v5.8h-4z M1427 1032.0v3.8h2v-3.8z" fill="rgba(239,83,80,0.89)" fill-rule="evenodd"/>
<rect x="1432" y="1029.0" width="2" height="2.0" fill="rgba(140,140,140,0.92)"/>
<rect x="1432" y="1040.8" width="2" height="1.8" fill="rgba(140,140,140,0.92)"/>
<rect x="1432" y="1032.0" width="2" height="7.8" fill="rgba(239,83,80,0.82)"/>
<path d="M1431 1031.0h4v9.8h-4z M1432 1032.0v7.8h2v-7.8z" fill="rgba(239,83,80,0.89)" fill-rule="evenodd"/>
<rect x="1437" y="1021.1" width="2" height="2.9" fill="rgba(140,140,140,0.92)"/>
<rect x="1437" y="1032.0" width="2" height="3.6" fill="rgba(140,140,140,0.92)"/>
<rect x="1437" y="1025.0" width="2" height="6.0" fill="rgba(38,166,154,0.84)"/>
<path d="M1436 1024.0h4v8.0h-4z M1437 1025.0v6.0h2v-6.0z" fill="rgba(38,166,154,0.90)" fill-rule="evenodd"/>
<rect x="1441" y="1006.0" width="2" height="4.0" fill="rgba(140,140,140,0.92)"/>
<rect x="1441" y="1021.0" width="2" height="0.6" fill="rgba(140,140,140,0.92)"/>
<rect x="1441" y="1011.0" width="2" height="9.0" fill="rgba(38,166,154,0.84)"/>
<path d="M1440 1010.0h4v11.0h-4z M1441 1011.0v9.0h2v-9.0z" fill="rgba(38,166,154,0.90)" fill-rule="evenodd"/>
<rect x="1446" y="1013.2" width="2" height="4.0" fill="rgba(140,140,140,0.92)"/>
<rect x="1446" y="1018.8" width="2" height="1.0" fill="rgba(140,140,140,0.92)"/>
<rect x="1445" y="1017.2" width="4" height="1.6" fill="rgba(38,166,154,0.90)"/>
<rect x="1450" y="1021.3" width="2" height="0.6" fill="rgba(140,140,140,0.92)"/>
<rect x="1450" y="1030.9" width="2" height="0.7" fill="rgba(140,140,140,0.92)"/>
<rect x="1450" y="1022.9" width="2" height="7.0" fill="rgba(239,83,80,0.82)"/>
<path d="M1449 1021.9h4v9.0h-4z M1450 1022.9v7.0h2v-7.0z" fill="rgba(239,83,80,0.89)" fill-rule="evenodd"/>
<rect x="1455" y="1021.0" width="2" height="3.0" fill="rgba(140,140,140,0.92)"/>
<rect x="1455" y="1025.7" width="2" height="4.1" fill="rgba(140,140,140,0.92)"/>
<rect x="1454" y="1024.0" width="4" height="1.7" fill="rgba(239,83,80,0.89)"/>
<rect x="1459" y="1019.2" width="2" height="5.5" fill="rgba(38,166,154,0.84)"/>
<path d="M1458 1018.2h4v7.5h-4z M1459 1019.2v5.5h2v-5.5z" fill="rgba(38,166,154,0.90)" fill-rule="evenodd"/>
<rect x="1464" y="1009.3" width="2" height="1.8" fill="rgba(140,140,140,0.92)"/>
<rect x="1464" y="1012.7" width="2" height="2.1" fill="rgba(140,140,140,0.92)"/>
<rect x="1463" y="1011.1" width="4" height="1.6" fill="rgba(239,83,80,0.89)"/>
<rect x="1469" y="1010.3" width="2" height="2.2" fill="rgba(38,166,154,0.84)"/>
<path d="M1468 1009.3h4v4.2h-4z M1469 1010.3v2.2h2v-2.2z" fill="rgba(38,166,154,0.90)" fill-rule="evenodd"/>
<rect x="1473" y="1011.2" width="2" height="1.8" fill="rgba(140,140,140,0.92)"/>
<rect x="1473" y="1016.7" width="2" height="2.0" fill="rgba(140,140,140,0.92)"/>
<rect x="1473" y="1014.0" width="2" height="1.7" fill="rgba(239,83,80,0.82)"/>
<path d="M1472 1013.0h4v3.7h-4z M1473 1014.0v1.7h2v-1.7z" fill="rgba(239,83,80,0.89)" fill-rule="evenodd"/>
<rect x="1478" y="1016.2" width="2" height="1.0" fill="rgba(140,140,140,0.92)"/>
<rect x="1478" y="1018.8" width="2" height="1.0" fill="rgba(140,140,140,0.92)"/>
<rect x="1477" y="1017.2" width="4" height="1.5" fill="rgba(239,83,80,0.89)"/>
<rect x="1482" y="1024.0" width="2" height="0.9" fill="rgba(140,140,140,0.92)"/>
<rect x="1482" y="1042.6" width="2" height="1.1" fill="rgba(140,140,140,0.92)"/>
<rect x="1482" y="1025.9" width="2" height="15.7" fill="rgba(239,83,80,0.82)"/>
<path d="M1481 1024.9h4v17.7h-4z M1482 1025.9v15.7h2v-15.7z" fill="rgba(239,83,80,0.89)" fill-rule="evenodd"/>
<rect x="1487" y="1037.5" width="2" height="1.2" fill="rgba(140,140,140,0.92)"/>
<rect x="1486" y="1036.0" width="4" height="1.5" fill="rgba(38,166,154,0.90)"/>
<rect x="1491" y="1032.1" width="2" height="3.0" fill="rgba(140,140,140,0.92)"/>
<rect x="1491" y="1036.5" width="2" height="4.2" fill="rgba(140,140,140,0.92)"/>
<rect x="1490" y="1035.0" width="4" height="1.5" fill="rgba(38,166,154,0.90)"/>
<rect x="1496" y="1022.1" width="2" height="0.7" fill="rgba(140,140,140,0.92)"/>
<rect x="1496" y="1023.8" width="2" height="6.8" fill="rgba(38,166,154,0.84)"/>
<path d="M1495 1022.8h4v8.8h-4z M1496 1023.8v6.8h2v-6.8z" fill="rgba(38,166,154,0.90)" fill-rule="evenodd"/>
<rect x="1501" y="1014.1" width="2" height="6.1" fill="rgba(140,140,140,0.92)"/>
<rect x="1501" y="1021.7" width="2" height="6.3" fill="rgba(140,140,140,0.92)"/>
<rect x="1500" y="1020.2" width="4" height="1.5" fill="rgba(239,83,80,0.89)"/>
<rect x="1505" y="994.0" width="2" height="17.1" fill="rgba(140,140,140,0.92)"/>
<rect x="1505" y="1017.9" width="2" height="13.0" fill="rgba(140,140,140,0.92)"/>
<rect x="1505" y="1012.1" width="2" height="4.8" fill="rgba(38,166,154,0.84)"/>
<path d="M1504 1011.1h4v6.8h-4z M1505 1012.1v4.8h2v-4.8z" fill="rgba(38,166,154,0.90)" fill-rule="evenodd"/>
<rect x="1510" y="1008.0" width="2" height="3.1" fill="rgba(140,140,140,0.92)"/>
<rect x="1510" y="1015.8" width="2" height="0.9" fill="rgba(140,140,140,0.92)"/>
<rect x="1510" y="1012.1" width="2" height="2.7" fill="rgba(38,166,154,0.84)"/>
<path d="M1509 1011.1h4v4.7h-4z M1510 1012.1v2.7h2v-2.7z" fill="rgba(38,166,154,0.90)" fill-rule="evenodd"/>
<rect x="1514" y="1002.3" width="2" height="0.9" fill="rgba(140,140,140,0.92)"/>
<rect x="1514" y="1004.8" width="2" height="0.9" fill="rgba(140,140,140,0.92)"/>
<rect x="1513" y="1003.2" width="4" height="1.6" fill="rgba(38,166,154,0.90)"/>
<rect x="1519" y="1008.2" width="2" height="1.9" fill="rgba(140,140,140,0.92)"/>
<rect x="1519" y="1017.8" width="2" height="0.9" fill="rgba(140,140,140,0.92)"/>
<rect x="1519" y="1011.1" width="2" height="5.7" fill="rgba(239,83,80,0.82)"/>
<path d="M1518 1010.1h4v7.7h-4z M1519 1011.1v5.7h2v-5.7z" fill="rgba(239,83,80,0.89)" fill-rule="evenodd"/>
<rect x="1523" y="1022.7" width="2" height="3.1" fill="rgba(140,140,140,0.92)"/>
<rect x="1522" y="1021.2" width="4" height="1.5" fill="rgba(239,83,80,0.89)"/>
<rect x="1528" y="1019.3" width="2" height="0.4" fill="rgba(140,140,140,0.92)"/>
<rect x="1528" y="1016.2" width="2" height="2.1" fill="rgba(38,166,154,0.84)"/>
<path d="M1527 1015.2h4v4.1h-4z M1528 1016.2v2.1h2v-2.1z" fill="rgba(38,166,154,0.90)" fill-rule="evenodd"/>
<rect x="1533" y="1000.1" width="2" height="1.8" fill="rgba(140,140,140,0.92)"/>
<rect x="1533" y="1010.1" width="2" height="0.6" fill="rgba(140,140,140,0.92)"/>
<rect x="1533" y="1002.9" width="2" height="6.2" fill="rgba(38,166,154,0.84)"/>
<path d="M1532 1001.9h4v8.2h-4z M1533 1002.9v6.2h2v-6.2z" fill="rgba(38,166,154,0.90)" fill-rule="evenodd"/>
<rect x="1537" y="998.4" width="2" height="0.9" fill="rgba(140,140,140,0.92)"/>
<rect x="1537" y="1000.8" width="2" height="2.1" fill="rgba(140,140,140,0.92)"/>
<rect x="1536" y="999.3" width="4" height="1.5" fill="rgba(38,166,154,0.90)"/>
<rect x="1542" y="981.1" width="2" height="4.0" fill="rgba(140,140,140,0.92)"/>
<rect x="1542" y="996.9" width="2" height="0.8" fill="rgba(140,140,140,0.92)"/>
<rect x="1542" y="986.1" width="2" height="9.8" fill="rgba(38,166,154,0.84)"/>
<path d="M1541 985.1h4v11.8h-4z M1542 986.1v9.8h2v-9.8z" fill="rgba(38,166,154,0.90)" fill-rule="evenodd"/>
<rect x="1546" y="988.5" width="2" height="1.6" fill="rgba(140,140,140,0.92)"/>
<rect x="1546" y="991.6" width="2" height="1.1" fill="rgba(140,140,140,0.92)"/>
<rect x="1545" y="990.1" width="4" height="1.5" fill="rgba(38,166,154,0.90)"/>
<rect x="1551" y="987.8" width="2" height="0.7" fill="rgba(140,140,140,0.92)"/>
<rect x="1550" y="986.3" width="4" height="1.5" fill="rgba(38,166,154,0.90)"/>
<rect x="1555" y="985.7" width="2" height="2.0" fill="rgba(140,140,140,0.92)"/>
<rect x="1554" y="984.2" width="4" height="1.5" fill="rgba(38,166,154,0.90)"/>
<rect x="1560" y="991.2" width="2" height="2.0" fill="rgba(140,140,140,0.92)"/>
<rect x="1560" y="994.7" width="2" height="3.0" fill="rgba(140,140,140,0.92)"/>
<rect x="1559" y="993.2" width="4" height="1.5" fill="rgba(38,166,154,0.90)"/>
<rect x="1565" y="1006.1" width="2" height="2.1" fill="rgba(140,140,140,0.92)"/>
<rect x="1565" y="1026.9" width="2" height="2.8" fill="rgba(140,140,140,0.92)"/>
<rect x="1565" y="1009.2" width="2" height="16.7" fill="rgba(239,83,80,0.82)"/>
<path d="M1564 1008.2h4v18.7h-4z M1565 1009.2v16.7h2v-16.7z" fill="rgba(239,83,80,0.89)" fill-rule="evenodd"/>
<rect x="1569" y="1017.2" width="2" height="2.7" fill="rgba(140,140,140,0.92)"/>
<rect x="1569" y="1023.9" width="2" height="2.7" fill="rgba(140,140,140,0.92)"/>
<rect x="1569" y="1020.9" width="2" height="2.0" fill="rgba(38,166,154,0.84)"/>
<path d="M1568 1019.9h4v4.0h-4z M1569 1020.9v2.0h2v-2.0z" fill="rgba(38,166,154,0.90)" fill-rule="evenodd"/>
<rect x="1574" y="1010.5" width="2" height="4.0" fill="rgba(38,166,154,0.84)"/>
<path d="M1573 1009.5h4v6.0h-4z M1574 1010.5v4.0h2v-4.0z" fill="rgba(38,166,154,0.90)" fill-rule="evenodd"/>
<rect x="1578" y="1010.3" width="2" height="1.0" fill="rgba(140,140,140,0.92)"/>
<rect x="1578" y="1012.3" width="2" height="1.2" fill="rgba(38,166,154,0.84)"/>
<path d="M1577 1011.3h4v3.2h-4z M1578 1012.3v1.2h2v-1.2z" fill="rgba(38,166,154,0.90)" fill-rule="evenodd"/>
<rect x="1583" y="1012.4" width="2" height="2.5" fill="rgba(140,140,140,0.92)"/>
<rect x="1583" y="1016.6" width="2" height="1.2" fill="rgba(140,140,140,0.92)"/>
<rect x="1582" y="1014.9" width="4" height="1.7" fill="rgba(38,166,154,0.90)"/>
<rect x="1587" y="1012.4" width="2" height="2.9" fill="rgba(140,140,140,0.92)"/>
<rect x="1587" y="1022.7" width="2" height="7.0" fill="rgba(140,140,140,0.92)"/>
<rect x="1587" y="1016.3" width="2" height="5.4" fill="rgba(239,83,80,0.82)"/>
<path d="M1586 1015.3h4v7.4h-4z M1587 1016.3v5.4h2v-5.4z" fill="rgba(239,83,80,0.89)" fill-rule="evenodd"/>
<rect x="1592" y="1016.2" width="2" height="1.0" fill="rgba(140,140,140,0.92)"/>
<rect x="1592" y="1018.2" width="2" height="3.5" fill="rgba(38,166,154,0.84)"/>
<path d="M1591 1017.2h4v5.5h-4z M1592 1018.2v3.5h2v-3.5z" fill="rgba(38,166,154,0.90)" fill-rule="evenodd"/>
<rect x="1597" y="1000.2" width="2" height="4.0" fill="rgba(140,140,140,0.92)"/>
<rect x="1597" y="1005.8" width="2" height="2.0" fill="rgba(140,140,140,0.92)"/>
<rect x="1596" y="1004.2" width="4" height="1.5" fill="rgba(38,166,154,0.90)"/>
<rect x="1601" y="1003.2" width="2" height="2.1" fill="rgba(140,140,140,0.92)"/>
<rect x="1600" y="1005.3" width="4" height="2.5" fill="rgba(38,166,154,0.90)"/>
<rect x="1606" y="1005.8" width="2" height="1.0" fill="rgba(140,140,140,0.92)"/>
<rect x="1605" y="1004.2" width="4" height="1.6" fill="rgba(38,166,154,0.90)"/>
<rect x="1610" y="993.2" width="2" height="0.8" fill="rgba(140,140,140,0.92)"/>
<rect x="1610" y="1003.8" width="2" height="1.0" fill="rgba(140,140,140,0.92)"/>
<rect x="1610" y="995.0" width="2" height="7.8" fill="rgba(38,166,154,0.84)"/>
<path d="M1609 994.0h4v9.8h-4z M1610 995.0v7.8h2v-7.8z" fill="rgba(38,166,154,0.90)" fill-rule="evenodd"/>
<rect x="1615" y="995.0" width="2" height="2.0" fill="rgba(140,140,140,0.92)"/>
<rect x="1615" y="1001.8" width="2" height="1.0" fill="rgba(140,140,140,0.92)"/>
<rect x="1615" y="998.0" width="2" height="2.8" fill="rgba(239,83,80,0.82)"/>
<path d="M1614 997.0h4v4.8h-4z M1615 998.0v2.8h2v-2.8z" fill="rgba(239,83,80,0.89)" fill-rule="evenodd"/>
<rect x="1619" y="1004.2" width="2" height="1.0" fill="rgba(140,140,140,0.92)"/>
<rect x="1619" y="1007.0" width="2" height="0.8" fill="rgba(140,140,140,0.92)"/>
<rect x="1618" y="1005.2" width="4" height="1.8" fill="rgba(239,83,80,0.89)"/>
<rect x="1624" y="1009.6" width="2" height="1.2" fill="rgba(140,140,140,0.92)"/>
<rect x="1623" y="1008.0" width="4" height="1.6" fill="rgba(38,166,154,0.90)"/>
<rect x="1628" y="1020.2" width="2" height="2.8" fill="rgba(140,140,140,0.92)"/>
<rect x="1628" y="1034.8" width="2" height="9.0" fill="rgba(140,140,140,0.92)"/>
<rect x="1628" y="1024.0" width="2" height="9.8" fill="rgba(239,83,80,0.82)"/>
<path d="M1627 1023.0h4v11.8h-4z M1628 1024.0v9.8h2v-9.8z" fill="rgba(239,83,80,0.89)" fill-rule="evenodd"/>
<rect x="1633" y="1030.2" width="2" height="6.8" fill="rgba(140,140,140,0.92)"/>
<rect x="1633" y="1045.8" width="2" height="8.0" fill="rgba(140,140,140,0.92)"/>
<rect x="1633" y="1038.0" width="2" height="6.8" fill="rgba(38,166,154,0.84)"/>
<path d="M1632 1037.0h4v8.8h-4z M1633 1038.0v6.8h2v-6.8z" fill="rgba(38,166,154,0.90)" fill-rule="evenodd"/>
<rect x="1638" y="1019.2" width="2" height="4.0" fill="rgba(140,140,140,0.92)"/>
<rect x="1638" y="1032.8" width="2" height="2.8" fill="rgba(140,140,140,0.92)"/>
<rect x="1638" y="1024.2" width="2" height="7.6" fill="rgba(38,166,154,0.84)"/>
<path d="M1637 1023.2h4v9.6h-4z M1638 1024.2v7.6h2v-7.6z" fill="rgba(38,166,154,0.90)" fill-rule="evenodd"/>
<rect x="1642" y="1026.0" width="2" height="19.2" fill="rgba(140,140,140,0.92)"/>
<rect x="1642" y="1053.8" width="2" height="12.7" fill="rgba(140,140,140,0.92)"/>
<rect x="1642" y="1046.2" width="2" height="6.6" fill="rgba(239,83,80,0.82)"/>
<path d="M1641 1045.2h4v8.6h-4z M1642 1046.2v6.6h2v-6.6z" fill="rgba(239,83,80,0.89)" fill-rule="evenodd"/>
<rect x="1647" y="1024.0" width="2" height="4.0" fill="rgba(140,140,140,0.92)"/>
<rect x="1647" y="1046.8" width="2" height="8.8" fill="rgba(140,140,140,0.92)"/>
<rect x="1647" y="1029.0" width="2" height="16.8" fill="rgba(38,166,154,0.84)"/>
<path d="M1646 1028.0h4v18.8h-4z M1647 1029.0v16.8h2v-16.8z" fill="rgba(38,166,154,0.90)" fill-rule="evenodd"/>
<rect x="1651" y="1003.2" width="2" height="6.0" fill="rgba(140,140,140,0.92)"/>
<rect x="1651" y="1019.8" width="2" height="3.8" fill="rgba(140,140,140,0.92)"/>
<rect x="1651" y="1010.2" width="2" height="8.6" fill="rgba(38,166,154,0.84)"/>
<path d="M1650 1009.2h4v10.6h-4z M1651 1010.2v8.6h2v-8.6z" fill="rgba(38,166,154,0.90)" fill-rule="evenodd"/>
<rect x="1656" y="994.0" width="2" height="4.2" fill="rgba(140,140,140,0.92)"/>
<rect x="1656" y="1001.8" width="2" height="3.0" fill="rgba(140,140,140,0.92)"/>
<rect x="1656" y="999.2" width="2" height="1.6" fill="rgba(38,166,154,0.84)"/>
<path d="M1655 998.2h4v3.6h-4z M1656 999.2v1.6h2v-1.6z" fill="rgba(38,166,154,0.90)" fill-rule="evenodd"/>
<rect x="1660" y="989.2" width="2" height="2.8" fill="rgba(140,140,140,0.92)"/>
<rect x="1660" y="993.8" width="2" height="5.0" fill="rgba(140,140,140,0.92)"/>
<rect x="1659" y="992.0" width="4" height="1.8" fill="rgba(239,83,80,0.89)"/>
<rect x="1665" y="986.0" width="2" height="3.2" fill="rgba(140,140,140,0.92)"/>
<rect x="1665" y="990.8" width="2" height="6.2" fill="rgba(140,140,140,0.92)"/>
<rect x="1664" y="989.2" width="4" height="1.6" fill="rgba(38,166,154,0.90)"/>
<rect x="1670" y="980.2" width="2" height="3.0" fill="rgba(140,140,140,0.92)"/>
<rect x="1670" y="987.8" width="2" height="2.0" fill="rgba(140,140,140,0.92)"/>
<rect x="1670" y="984.2" width="2" height="2.6" fill="rgba(38,166,154,0.84)"/>
<path d="M1669 983.2h4v4.6h-4z M1670 984.2v2.6h2v-2.6z" fill="rgba(38,166,154,0.90)" fill-rule="evenodd"/>
<rect x="1674" y="983.2" width="2" height="6.0" fill="rgba(140,140,140,0.92)"/>
<rect x="1674" y="995.8" width="2" height="4.0" fill="rgba(140,140,140,0.92)"/>
<rect x="1674" y="990.2" width="2" height="4.6" fill="rgba(38,166,154,0.84)"/>
<path d="M1673 989.2h4v6.6h-4z M1674 990.2v4.6h2v-4.6z" fill="rgba(38,166,154,0.90)" fill-rule="evenodd"/>
<rect x="1679" y="995.2" width="2" height="3.0" fill="rgba(140,140,140,0.92)"/>
<rect x="1679" y="1001.8" width="2" height="4.0" fill="rgba(140,140,140,0.92)"/>
<rect x="1679" y="999.2" width="2" height="1.6" fill="rgba(239,83,80,0.82)"/>
<path d="M1678 998.2h4v3.6h-4z M1679 999.2v1.6h2v-1.6z" fill="rgba(239,83,80,0.89)" fill-rule="evenodd"/>
<rect x="1683" y="992.2" width="2" height="2.0" fill="rgba(140,140,140,0.92)"/>
<rect x="1683" y="995.8" width="2" height="6.0" fill="rgba(140,140,140,0.92)"/>
<rect x="1682" y="994.2" width="4" height="1.6" fill="rgba(38,166,154,0.90)"/>
<rect x="1688" y="1003.2" width="2" height="5.0" fill="rgba(140,140,140,0.92)"/>
<rect x="1688" y="1013.7" width="2" height="4.1" fill="rgba(140,140,140,0.92)"/>
<rect x="1688" y="1009.2" width="2" height="3.5" fill="rgba(239,83,80,0.82)"/>
<path d="M1687 1008.2h4v5.5h-4z M1688 1009.2v3.5h2v-3.5z" fill="rgba(239,83,80,0.89)" fill-rule="evenodd"/>
<rect x="1692" y="1004.2" width="2" height="1.9" fill="rgba(140,140,140,0.92)"/>
<rect x="1692" y="1011.9" width="2" height="1.9" fill="rgba(140,140,140,0.92)"/>
<rect x="1692" y="1007.1" width="2" height="3.8" fill="rgba(38,166,154,0.84)"/>
<path d="M1691 1006.1h4v5.8h-4z M1692 1007.1v3.8h2v-3.8z" fill="rgba(38,166,154,0.90)" fill-rule="evenodd"/>
<rect x="1697" y="1001.2" width="2" height="3.0" fill="rgba(140,140,140,0.92)"/>
<rect x="1697" y="1008.9" width="2" height="4.9" fill="rgba(140,140,140,0.92)"/>
<rect x="1697" y="1005.2" width="2" height="2.7" fill="rgba(38,166,154,0.84)"/>
<path d="M1696 1004.2h4v4.7h-4z M1697 1005.2v2.7h2v-2.7z" fill="rgba(38,166,154,0.90)" fill-rule="evenodd"/>
<rect x="1702" y="1003.2" width="2" height="3.9" fill="rgba(140,140,140,0.92)"/>
<rect x="1702" y="1010.9" width="2" height="7.7" fill="rgba(140,140,140,0.92)"/>
<rect x="1702" y="1008.1" width="2" height="1.8" fill="rgba(239,83,80,0.82)"/>
<path d="M1701 1007.1h4v3.8h-4z M1702 1008.1v1.8h2v-1.8z" fill="rgba(239,83,80,0.89)" fill-rule="evenodd"/>
<rect x="1706" y="984.2" width="2" height="0.7" fill="rgba(140,140,140,0.92)"/>
<rect x="1706" y="999.2" width="2" height="0.5" fill="rgba(140,140,140,0.92)"/>
<rect x="1706" y="985.9" width="2" height="12.3" fill="rgba(38,166,154,0.84)"/>
<path d="M1705 984.9h4v14.3h-4z M1706 985.9v12.3h2v-12.3z" fill="rgba(38,166,154,0.90)" fill-rule="evenodd"/>
<rect x="1711" y="980.2" width="2" height="2.8" fill="rgba(140,140,140,0.92)"/>
<rect x="1711" y="984.0" width="2" height="2.7" fill="rgba(38,166,154,0.84)"/>
<path d="M1710 983.0h4v4.7h-4z M1711 984.0v2.7h2v-2.7z" fill="rgba(38,166,154,0.90)" fill-rule="evenodd"/>
<rect x="1715" y="964.0" width="2" height="3.0" fill="rgba(140,140,140,0.92)"/>
<rect x="1715" y="972.9" width="2" height="2.9" fill="rgba(140,140,140,0.92)"/>
<rect x="1715" y="968.0" width="2" height="3.9" fill="rgba(38,166,154,0.84)"/>
<path d="M1714 967.0h4v5.9h-4z M1715 968.0v3.9h2v-3.9z" fill="rgba(38,166,154,0.90)" fill-rule="evenodd"/>
<rect x="1720" y="969.2" width="2" height="2.0" fill="rgba(140,140,140,0.92)"/>
<rect x="1720" y="972.8" width="2" height="1.9" fill="rgba(140,140,140,0.92)"/>
<rect x="1719" y="971.2" width="4" height="1.6" fill="rgba(38,166,154,0.90)"/>
<rect x="1724" y="974.3" width="2" height="0.6" fill="rgba(140,140,140,0.92)"/>
<rect x="1724" y="990.0" width="2" height="0.7" fill="rgba(140,140,140,0.92)"/>
<rect x="1724" y="975.9" width="2" height="13.1" fill="rgba(239,83,80,0.82)"/>
<path d="M1723 974.9h4v15.1h-4z M1724 975.9v13.1h2v-13.1z" fill="rgba(239,83,80,0.89)" fill-rule="evenodd"/>
<rect x="1729" y="991.2" width="2" height="1.0" fill="rgba(140,140,140,0.92)"/>
<rect x="1729" y="993.9" width="2" height="3.8" fill="rgba(140,140,140,0.92)"/>
<rect x="1728" y="992.2" width="4" height="1.7" fill="rgba(38,166,154,0.90)"/>
<rect x="1734" y="981.2" width="2" height="1.8" fill="rgba(140,140,140,0.92)"/>
<rect x="1734" y="988.0" width="2" height="0.9" fill="rgba(140,140,140,0.92)"/>
<rect x="1734" y="984.0" width="2" height="3.0" fill="rgba(38,166,154,0.84)"/>
<path d="M1733 983.0h4v5.0h-4z M1734 984.0v3.0h2v-3.0z" fill="rgba(38,166,154,0.90)" fill-rule="evenodd"/>
<rect x="1738" y="994.1" width="2" height="3.9" fill="rgba(140,140,140,0.92)"/>
<rect x="1738" y="1008.0" width="2" height="3.9" fill="rgba(140,140,140,0.92)"/>
<rect x="1738" y="999.0" width="2" height="8.0" fill="rgba(239,83,80,0.82)"/>
<path d="M1737 998.0h4v10.0h-4z M1738 999.0v8.0h2v-8.0z" fill="rgba(239,83,80,0.89)" fill-rule="evenodd"/>
<rect x="1743" y="985.2" width="2" height="2.8" fill="rgba(140,140,140,0.92)"/>
<rect x="1743" y="989.0" width="2" height="15.5" fill="rgba(38,166,154,0.84)"/>
<path d="M1742 988.0h4v17.5h-4z M1743 989.0v15.5h2v-15.5z" fill="rgba(38,166,154,0.90)" fill-rule="evenodd"/>
<rect x="1747" y="981.2" width="2" height="3.0" fill="rgba(140,140,140,0.92)"/>
<rect x="1747" y="985.7" width="2" height="4.0" fill="rgba(140,140,140,0.92)"/>
<rect x="1746" y="984.2" width="4" height="1.5" fill="rgba(38,166,154,0.90)"/>
<rect x="1752" y="983.3" width="2" height="2.6" fill="rgba(38,166,154,0.84)"/>
<path d="M1751 982.3h4v4.6h-4z M1752 983.3v2.6h2v-2.6z" fill="rgba(38,166,154,0.90)" fill-rule="evenodd"/>
<rect x="1756" y="980.0" width="2" height="0.9" fill="rgba(140,140,140,0.92)"/>
<rect x="1755" y="980.9" width="4" height="1.8" fill="rgba(38,166,154,0.90)"/>
<rect x="1761" y="970.3" width="2" height="0.6" fill="rgba(140,140,140,0.92)"/>
<rect x="1761" y="971.9" width="2" height="6.0" fill="rgba(38,166,154,0.84)"/>
<path d="M1760 970.9h4v8.0h-4z M1761 971.9v6.0h2v-6.0z" fill="rgba(38,166,154,0.90)" fill-rule="evenodd"/>
<rect x="1766" y="970.3" width="2" height="0.9" fill="rgba(140,140,140,0.92)"/>
<rect x="1766" y="972.8" width="2" height="2.9" fill="rgba(140,140,140,0.92)"/>
<rect x="1765" y="971.2" width="4" height="1.6" fill="rgba(38,166,154,0.90)"/>
<rect x="1770" y="972.3" width="2" height="1.8" fill="rgba(140,140,140,0.92)"/>
<rect x="1770" y="975.8" width="2" height="1.9" fill="rgba(140,140,140,0.92)"/>
<rect x="1769" y="974.1" width="4" height="1.7" fill="rgba(239,83,80,0.89)"/>
<rect x="1775" y="976.3" width="2" height="3.7" fill="rgba(140,140,140,0.92)"/>
<rect x="1775" y="981.9" width="2" height="7.0" fill="rgba(140,140,140,0.92)"/>
<rect x="1774" y="980.0" width="4" height="1.9" fill="rgba(239,83,80,0.89)"/>
<rect x="1779" y="982.3" width="2" height="9.7" fill="rgba(140,140,140,0.92)"/>
<rect x="1779" y="998.9" width="2" height="10.8" fill="rgba(140,140,140,0.92)"/>
<rect x="1779" y="993.0" width="2" height="4.9" fill="rgba(239,83,80,0.82)"/>
<path d="M1778 992.0h4v6.9h-4z M1779 993.0v4.9h2v-4.9z" fill="rgba(239,83,80,0.89)" fill-rule="evenodd"/>
<rect x="1784" y="985.2" width="2" height="5.7" fill="rgba(140,140,140,0.92)"/>
<rect x="1784" y="1008.0" width="2" height="1.7" fill="rgba(140,140,140,0.92)"/>
<rect x="1784" y="991.9" width="2" height="15.1" fill="rgba(38,166,154,0.84)"/>
<path d="M1783 990.9h4v17.1h-4z M1784 991.9v15.1h2v-15.1z" fill="rgba(38,166,154,0.90)" fill-rule="evenodd"/>
<rect x="1788" y="945.9" width="2" height="11.9" fill="rgba(140,140,140,0.92)"/>
<rect x="1788" y="966.0" width="2" height="12.8" fill="rgba(140,140,140,0.92)"/>
<rect x="1788" y="958.8" width="2" height="6.2" fill="rgba(38,166,154,0.84)"/>
<path d="M1787 957.8h4v8.2h-4z M1788 958.8v6.2h2v-6.2z" fill="rgba(38,166,154,0.90)" fill-rule="evenodd"/>
<rect x="1793" y="931.2" width="2" height="11.0" fill="rgba(140,140,140,0.92)"/>
<rect x="1793" y="943.7" width="2" height="13.2" fill="rgba(140,140,140,0.92)"/>
<rect x="1792" y="942.2" width="4" height="1.5" fill="rgba(38,166,154,0.90)"/>
<rect x="1798" y="920.3" width="2" height="10.9" fill="rgba(140,140,140,0.92)"/>
<rect x="1798" y="939.9" width="2" height="6.0" fill="rgba(140,140,140,0.92)"/>
<rect x="1798" y="932.2" width="2" height="6.7" fill="rgba(239,83,80,0.82)"/>
<path d="M1797 931.2h4v8.7h-4z M1798 932.2v6.7h2v-6.7z" fill="rgba(239,83,80,0.89)" fill-rule="evenodd"/>
<rect x="1802" y="939.3" width="2" height="4.7" fill="rgba(140,140,140,0.92)"/>
<rect x="1802" y="953.9" width="2" height="0.7" fill="rgba(140,140,140,0.92)"/>
<rect x="1802" y="945.0" width="2" height="7.9" fill="rgba(239,83,80,0.82)"/>
<path d="M1801 944.0h4v9.9h-4z M1802 945.0v7.9h2v-7.9z" fill="rgba(239,83,80,0.89)" fill-rule="evenodd"/>
<rect x="1807" y="932.1" width="2" height="4.2" fill="rgba(140,140,140,0.92)"/>
<rect x="1807" y="945.0" width="2" height="3.6" fill="rgba(140,140,140,0.92)"/>
<rect x="1807" y="937.3" width="2" height="6.7" fill="rgba(239,83,80,0.82)"/>
<path d="M1806 936.3h4v8.7h-4z M1807 937.3v6.7h2v-6.7z" fill="rgba(239,83,80,0.89)" fill-rule="evenodd"/>
</g>
<rect x="2456.2" y="20" width="2" height="1238" fill="#3a3a3a"/>
<rect x="20" y="807" width="2568" height="2" fill="#2e3240"/>
<rect x="20" y="1202" width="2568" height="2" fill="#393939"/>
</svg>
<div style="position:absolute;left:35.13px;top:39.98px;font-size:22px;line-height:22px;color:#b3b3b5;white-space:nowrap;-webkit-text-stroke:0.3px currentColor;transform:scaleX(1.0650);transform-origin:0 0;will-change:transform">BTC/USD Average, 15, Coinalyze</div>
<div style="position:absolute;left:398.45px;top:39.98px;font-size:22px;line-height:22px;color:#b3b3b5;white-space:nowrap;-webkit-text-stroke:0.3px currentColor;transform:scaleX(1.0456);transform-origin:0 0;will-change:transform">O<span style="color:#26a69a">90421.45</span></div>
<div style="position:absolute;left:525.74px;top:39.98px;font-size:22px;line-height:22px;color:#b3b3b5;white-space:nowrap;-webkit-text-stroke:0.3px currentColor;transform:scaleX(1.0568);transform-origin:0 0;will-change:transform">H<span style="color:#26a69a">90754.59</span></div>
<div style="position:absolute;left:653.35px;top:39.98px;font-size:22px;line-height:22px;color:#b3b3b5;white-space:nowrap;-webkit-text-stroke:0.3px currentColor;transform:scaleX(1.0537);transform-origin:0 0;will-change:transform">L<span style="color:#26a69a">90237.54</span></div>
<div style="position:absolute;left:777.27px;top:39.98px;font-size:22px;line-height:22px;color:#b3b3b5;white-space:nowrap;-webkit-text-stroke:0.3px currentColor;transform:scaleX(1.0312);transform-origin:0 0;will-change:transform">C<span style="color:#26a69a">90737.87</span></div>
<div style="position:absolute;left:903.16px;top:39.98px;font-size:22px;line-height:22px;color:#26a69a;white-space:nowrap;-webkit-text-stroke:0.3px currentColor;transform:scaleX(1.0341);transform-origin:0 0;will-change:transform">+313.65 (+0.35%)</div>
<div style="position:absolute;left:36.00px;top:828.58px;font-size:22px;line-height:22px;color:#b3b3b5;white-space:nowrap;-webkit-text-stroke:0.3px currentColor;transform:scaleX(1.0826);transform-origin:0 0;will-change:transform">Aggregated Open Interest</div>
<div style="position:absolute;left:326.69px;top:828.58px;font-size:22px;line-height:22px;color:#ef5350;white-space:nowrap;-webkit-text-stroke:0.3px currentColor;transform:scaleX(1.0340);transform-origin:0 0;will-change:transform">30.724B</div>
<div style="position:absolute;left:426.40px;top:828.58px;font-size:22px;line-height:22px;color:#ef5350;white-space:nowrap;-webkit-text-stroke:0.3px currentColor;transform:scaleX(1.0277);transform-origin:0 0;will-change:transform">30.753B</div>
<div style="position:absolute;left:525.79px;top:828.58px;font-size:22px;line-height:22px;color:#ef5350;white-space:nowrap;-webkit-text-stroke:0.3px currentColor;transform:scaleX(1.0315);transform-origin:0 0;will-change:transform">30.648B</div>
<div style="position:absolute;left:625.59px;top:828.58px;font-size:22px;line-height:22px;color:#ef5350;white-space:nowrap;-webkit-text-stroke:0.3px currentColor;transform:scaleX(1.0340);transform-origin:0 0;will-change:transform">30.677B</div>
<div style="position:absolute;left:2471.22px;top:59.53px;font-size:23px;line-height:23px;color:#b3b3b5;white-space:nowrap;-webkit-text-stroke:0.3px currentColor;transform:scaleX(1.0241);transform-origin:0 0;will-change:transform">95000.00</div>
<div style="position:absolute;left:2471.22px;top:177.23px;font-size:23px;line-height:23px;color:#b3b3b5;white-space:nowrap;-webkit-text-stroke:0.3px currentColor;transform:scaleX(1.0241);transform-origin:0 0;will-change:transform">94000.00</div>
<div style="position:absolute;left:2471.22px;top:294.93px;font-size:23px;line-height:23px;color:#b3b3b5;white-space:nowrap;-webkit-text-stroke:0.3px currentColor;transform:scaleX(1.0241);transform-origin:0 0;will-change:transform">93000.00</div>
<div style="position:absolute;left:2471.22px;top:412.63px;font-size:23px;line-height:23px;color:#b3b3b5;white-space:nowrap;-webkit-text-stroke:0.3px currentColor;transform:scaleX(1.0241);transform-origin:0 0;will-change:transform">92000.00</div>
<div style="position:absolute;left:2471.22px;top:530.33px;font-size:23px;line-height:23px;color:#b3b3b5;white-space:nowrap;-webkit-text-stroke:0.3px currentColor;transform:scaleX(1.0241);transform-origin:0 0;will-change:transform">91000.00</div>
<div style="position:absolute;left:2471.22px;top:648.03px;font-size:23px;line-height:23px;color:#b3b3b5;white-space:nowrap;-webkit-text-stroke:0.3px currentColor;transform:scaleX(1.0241);transform-origin:0 0;will-change:transform">90000.00</div>
<div style="position:absolute;left:2471.46px;top:765.73px;font-size:23px;line-height:23px;color:#b3b3b5;white-space:nowrap;-webkit-text-stroke:0.3px currentColor;transform:scaleX(1.0216);transform-origin:0 0;will-change:transform">89000.00</div>
<div style="position:absolute;left:2458px;top:809px;width:129px;height:393px;overflow:hidden"><div style="position:absolute;left:14.08px;top:35.58px;font-size:23px;line-height:23px;color:#b3b3b5;white-space:nowrap;-webkit-text-stroke:0.3px currentColor;transform:scaleX(1.0036);transform-origin:0 0;will-change:transform">31.2B</div><div style="position:absolute;left:14.08px;top:103.53px;font-size:23px;line-height:23px;color:#b3b3b5;white-space:nowrap;-webkit-text-stroke:0.3px currentColor;transform:scaleX(1.0036);transform-origin:0 0;will-change:transform">30.8B</div><div style="position:absolute;left:14.08px;top:171.48px;font-size:23px;line-height:23px;color:#b3b3b5;white-space:nowrap;-webkit-text-stroke:0.3px currentColor;transform:scaleX(1.0036);transform-origin:0 0;will-change:transform">30.4B</div><div style="position:absolute;left:14.08px;top:239.43px;font-size:23px;line-height:23px;color:#b3b3b5;white-space:nowrap;-webkit-text-stroke:0.3px currentColor;transform:scaleX(1.0036);transform-origin:0 0;will-change:transform">30B</div><div style="position:absolute;left:13.85px;top:307.38px;font-size:23px;line-height:23px;color:#b3b3b5;white-space:nowrap;-webkit-text-stroke:0.3px currentColor;transform:scaleX(1.0036);transform-origin:0 0;will-change:transform">29.6B</div><div style="position:absolute;left:13.85px;top:375.33px;font-size:23px;line-height:23px;color:#b3b3b5;white-space:nowrap;-webkit-text-stroke:0.3px currentColor;transform:scaleX(1.0036);transform-origin:0 0;will-change:transform">29.2B</div></div>
<div style="position:absolute;left:2456px;top:555px;width:124px;height:34px;background:#26a69a;border-radius:0 4px 4px 0"></div>
<div style="position:absolute;left:2471.22px;top:561.93px;font-size:23px;line-height:23px;color:#ffffff;white-space:nowrap;-webkit-text-stroke:0.3px currentColor;transform:scaleX(1.0266);transform-origin:0 0;-webkit-text-stroke:0.5px #fff;will-change:transform">90737.87</div>
<div style="position:absolute;left:2456px;top:927px;width:112px;height:34px;background:#ef5350;border-radius:0 4px 4px 0"></div>
<div style="position:absolute;left:2472.08px;top:933.73px;font-size:23px;line-height:23px;color:#ffffff;white-space:nowrap;-webkit-text-stroke:0.3px currentColor;transform:scaleX(1.0033);transform-origin:0 0;-webkit-text-stroke:0.5px #fff;will-change:transform">30.677B</div>
<div style="position:absolute;left:197.18px;top:1219.53px;font-size:23px;line-height:23px;color:#b3b3b5;white-space:nowrap;font-weight:bold;-webkit-text-stroke:0.3px currentColor;transform:scaleX(1.0278);transform-origin:0 0;will-change:transform">5</div>
<div style="position:absolute;left:393.26px;top:1219.53px;font-size:23px;line-height:23px;color:#b3b3b5;white-space:nowrap;-webkit-text-stroke:0.3px currentColor;transform:scaleX(1.0278);transform-origin:0 0;will-change:transform">12:00</div>
<div style="position:absolute;left:635.38px;top:1219.53px;font-size:23px;line-height:23px;color:#b3b3b5;white-space:nowrap;font-weight:bold;-webkit-text-stroke:0.3px currentColor;transform:scaleX(1.0278);transform-origin:0 0;will-change:transform">6</div>
<div style="position:absolute;left:831.36px;top:1219.53px;font-size:23px;line-height:23px;color:#b3b3b5;white-space:nowrap;-webkit-text-stroke:0.3px currentColor;transform:scaleX(1.0278);transform-origin:0 0;will-change:transform">12:00</div>
<div style="position:absolute;left:1074.80px;top:1219.53px;font-size:23px;line-height:23px;color:#b3b3b5;white-space:nowrap;font-weight:bold;-webkit-text-stroke:0.3px currentColor;transform:scaleX(1.0278);transform-origin:0 0;will-change:transform">7</div>
<div style="position:absolute;left:1270.46px;top:1219.53px;font-size:23px;line-height:23px;color:#b3b3b5;white-space:nowrap;-webkit-text-stroke:0.3px currentColor;transform:scaleX(1.0278);transform-origin:0 0;will-change:transform">12:00</div>
<div style="position:absolute;left:1512.08px;top:1219.53px;font-size:23px;line-height:23px;color:#b3b3b5;white-space:nowrap;font-weight:bold;-webkit-text-stroke:0.3px currentColor;transform:scaleX(1.0278);transform-origin:0 0;will-change:transform">8</div>
<div style="position:absolute;left:1709.26px;top:1219.53px;font-size:23px;line-height:23px;color:#b3b3b5;white-space:nowrap;-webkit-text-stroke:0.3px currentColor;transform:scaleX(1.0278);transform-origin:0 0;will-change:transform">12:00</div>
<div style="position:absolute;left:1951.50px;top:1219.53px;font-size:23px;line-height:23px;color:#b3b3b5;white-space:nowrap;font-weight:bold;-webkit-text-stroke:0.3px currentColor;transform:scaleX(1.0278);transform-origin:0 0;will-change:transform">9</div>
<div style="position:absolute;left:2147.66px;top:1219.53px;font-size:23px;line-height:23px;color:#b3b3b5;white-space:nowrap;-webkit-text-stroke:0.3px currentColor;transform:scaleX(1.0278);transform-origin:0 0;will-change:transform">12:00</div>
<div style="position:absolute;left:2384.53px;top:1219.53px;font-size:23px;line-height:23px;color:#b3b3b5;white-space:nowrap;font-weight:bold;-webkit-text-stroke:0.3px currentColor;transform:scaleX(1.0278);transform-origin:0 0;will-change:transform">10</div>
<svg style="position:absolute;left:20px;top:1282px" width="42" height="21" viewBox="0 0 42 21">
<path d="M0.8 0.1H15.8V19.6H7.4V7.4H0.8Z" fill="#d1d4dc"/><circle cx="22.2" cy="4.5" r="4.3" fill="#d1d4dc"/><path d="M31.1 0.1H39.3L31.5 19.6H22.2Z" fill="#d1d4dc"/></svg>
<div style="position:absolute;left:65.39px;top:1279.37px;font-size:26.5px;line-height:26.5px;color:#d1d4dc;white-space:nowrap;-webkit-text-stroke:0.3px currentColor;transform:scaleX(0.9703);transform-origin:0 0;-webkit-text-stroke:0.6px #d1d4dc;will-change:transform">TradingView</div>
</body></html>
